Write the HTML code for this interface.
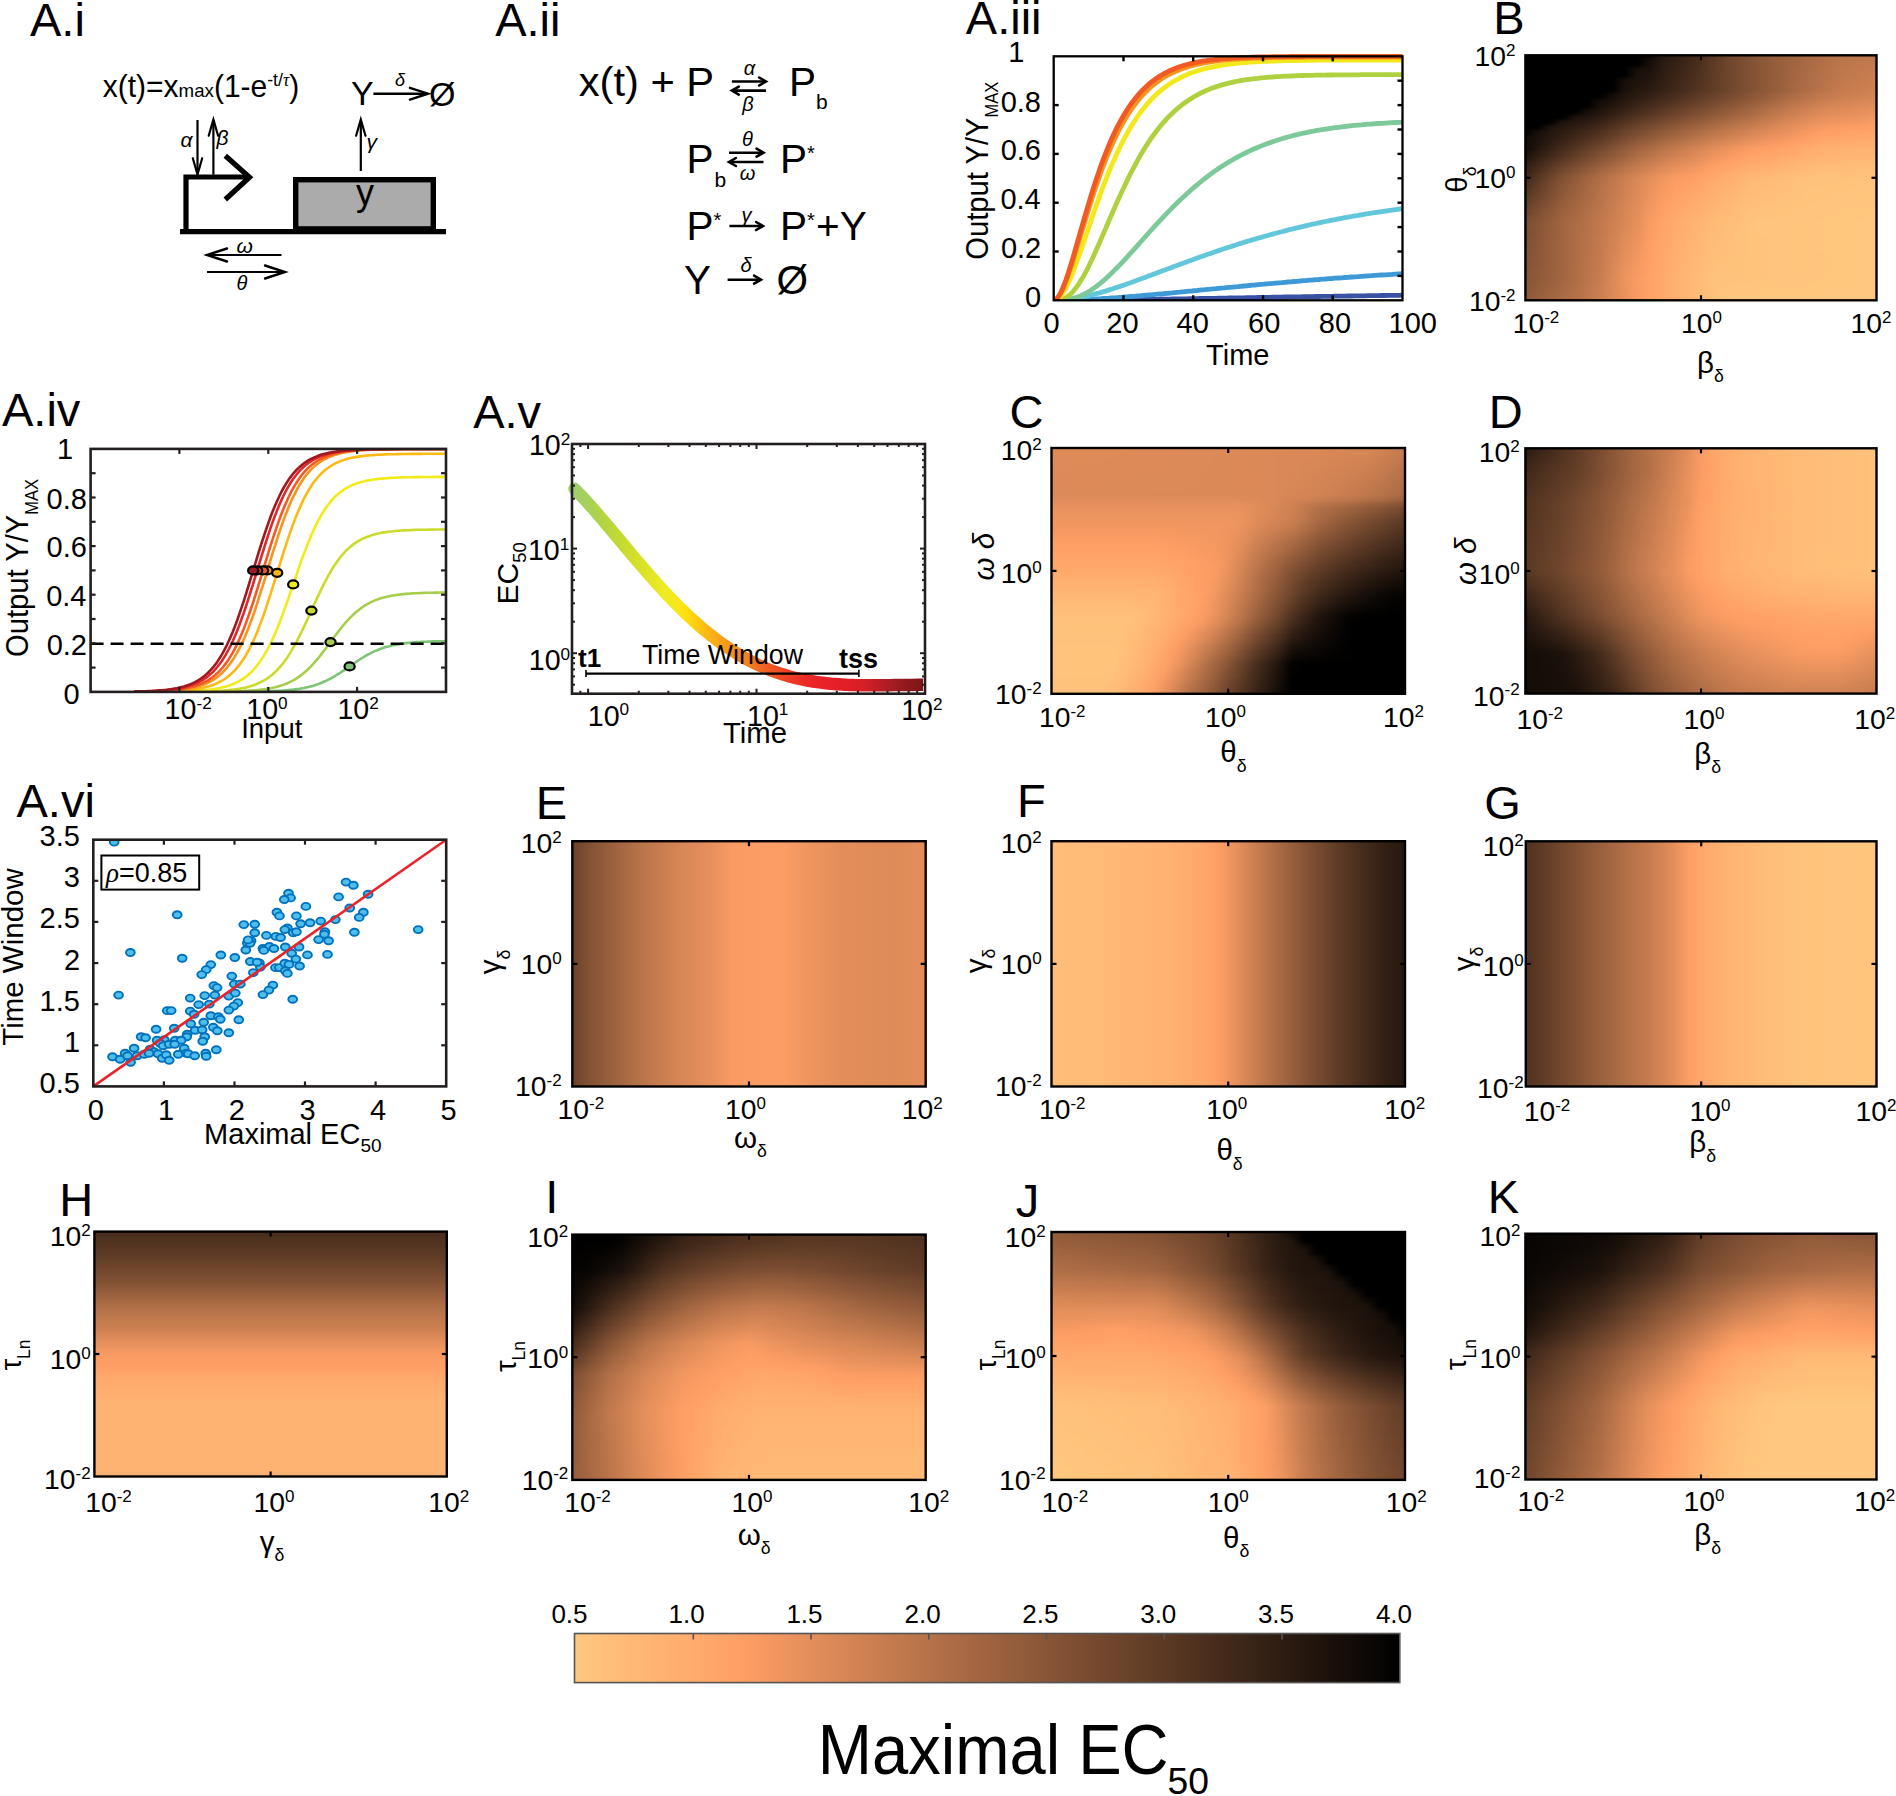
<!DOCTYPE html>
<html><head><meta charset="utf-8"><title>Maximal EC50 figure</title>
<style>
html,body{margin:0;padding:0;background:#fff}
#fig{position:relative;width:1896px;height:1796px;overflow:hidden;background:#fff}
.hm{position:absolute;overflow:hidden}
.hmi{position:absolute}
.hmi div{position:absolute;left:0;width:100%}
svg{position:absolute;left:0;top:0}
text{font-family:"Liberation Sans",Arial,sans-serif;fill:#000}
</style></head><body><div id="fig">
<div class="hm" style="left:1525.4px;top:55.3px;width:351.1px;height:245.0px"><div class="hmi" style="left:-4px;top:-4px;width:359.1px;height:253.0px;filter:blur(1.5px)"><div style="top:0.00px;height:5.87px;background:linear-gradient(90deg,#000000 1.1%,#000000 4.6%,#000000 8.1%,#000000 11.6%,#000000 15.1%,#000000 18.6%,#000000 22.1%,#000000 25.6%,#000000 29.0%,#000000 32.5%,#000000 36.0%,#26180f 39.5%,#311f13 43.0%,#3b2518 46.5%,#492e1d 50.0%,#5a3824 53.5%,#6b432b 57.0%,#774b30 60.5%,#825134 64.0%,#8c5838 67.5%,#945d3b 71.0%,#9c613e 74.4%,#a36641 77.9%,#aa6a44 81.4%,#b16e46 84.9%,#b87349 88.4%,#bb754a 91.9%,#bd764b 95.4%,#bf784c 98.9%)"></div><div style="top:5.27px;height:5.87px;background:linear-gradient(90deg,#000000 1.1%,#000000 4.6%,#000000 8.1%,#000000 11.6%,#000000 15.1%,#000000 18.6%,#000000 22.1%,#000000 25.6%,#000000 29.0%,#000000 32.5%,#130c08 36.0%,#281910 39.5%,#332014 43.0%,#3d2618 46.5%,#4b2f1e 50.0%,#5b3924 53.5%,#6c432b 57.0%,#774b30 60.5%,#825134 64.0%,#8c5838 67.5%,#955d3b 71.0%,#9c623e 74.4%,#a46641 77.9%,#ab6b44 81.4%,#b26f47 84.9%,#b9744a 88.4%,#bc764b 91.9%,#bf774c 95.4%,#c1794d 98.9%)"></div><div style="top:10.54px;height:5.87px;background:linear-gradient(90deg,#000000 1.1%,#000000 4.6%,#000000 8.1%,#000000 11.6%,#000000 15.1%,#000000 18.6%,#000000 22.1%,#000000 25.6%,#000000 29.0%,#000000 32.5%,#170e09 36.0%,#2a1b11 39.5%,#352115 43.0%,#3f2719 46.5%,#4c301e 50.0%,#5c3a25 53.5%,#6c432b 57.0%,#774b30 60.5%,#825134 64.0%,#8c5838 67.5%,#955d3b 71.0%,#9d623e 74.4%,#a56742 77.9%,#ac6c45 81.4%,#b47047 84.9%,#bb754a 88.4%,#be774c 91.9%,#c1784d 95.4%,#c37a4e 98.9%)"></div><div style="top:15.81px;height:5.87px;background:linear-gradient(90deg,#000000 1.1%,#000000 4.6%,#000000 8.1%,#000000 11.6%,#000000 15.1%,#000000 18.6%,#000000 22.1%,#000000 25.6%,#000000 29.0%,#180f0a 32.5%,#1b110b 36.0%,#2d1c12 39.5%,#372216 43.0%,#41291a 46.5%,#4e311f 50.0%,#5d3a25 53.5%,#6c432b 57.0%,#774b30 60.5%,#825134 64.0%,#8c5838 67.5%,#955d3b 71.0%,#9e633f 74.4%,#a66842 77.9%,#ae6d45 81.4%,#b57148 84.9%,#bc764b 88.4%,#c0784c 91.9%,#c37a4e 95.4%,#c67b4f 98.9%)"></div><div style="top:21.08px;height:5.87px;background:linear-gradient(90deg,#000000 1.1%,#000000 4.6%,#000000 8.1%,#000000 11.6%,#000000 15.1%,#000000 18.6%,#000000 22.1%,#000000 25.6%,#000000 29.0%,#1b110b 32.5%,#1f140d 36.0%,#2f1d13 39.5%,#392417 43.0%,#442a1b 46.5%,#503220 50.0%,#5e3b25 53.5%,#6c442b 57.0%,#774b30 60.5%,#825134 64.0%,#8c5838 67.5%,#955d3b 71.0%,#9e633f 74.4%,#a76943 77.9%,#af6e46 81.4%,#b77249 84.9%,#be774c 88.4%,#c2794d 91.9%,#c57b4e 95.4%,#c87d50 98.9%)"></div><div style="top:26.35px;height:5.87px;background:linear-gradient(90deg,#000000 1.1%,#000000 4.6%,#000000 8.1%,#000000 11.6%,#000000 15.1%,#000000 18.6%,#000000 22.1%,#000000 25.6%,#180f09 29.0%,#1e130c 32.5%,#24160e 36.0%,#311f14 39.5%,#3c2518 43.0%,#462c1c 46.5%,#523321 50.0%,#5f3b26 53.5%,#6c442b 57.0%,#774b30 60.5%,#825134 64.0%,#8c5838 67.5%,#965e3c 71.0%,#9f633f 74.4%,#a96943 77.9%,#b16f46 81.4%,#b87349 84.9%,#c0784c 88.4%,#c47a4e 91.9%,#c77c4f 95.4%,#ca7e50 98.9%)"></div><div style="top:31.62px;height:5.87px;background:linear-gradient(90deg,#000000 1.1%,#000000 4.6%,#000000 8.1%,#000000 11.6%,#000000 15.1%,#000000 18.6%,#000000 22.1%,#000000 25.6%,#19100a 29.0%,#21150d 32.5%,#281910 36.0%,#342015 39.5%,#3e2719 43.0%,#482d1d 46.5%,#543421 50.0%,#603c26 53.5%,#6d442b 57.0%,#774b30 60.5%,#825134 64.0%,#8c5838 67.5%,#965e3c 71.0%,#a06440 74.4%,#aa6a44 77.9%,#b26f47 81.4%,#ba744a 84.9%,#c2794d 88.4%,#c67c4f 91.9%,#c97e50 95.4%,#cc8051 98.9%)"></div><div style="top:36.90px;height:5.87px;background:linear-gradient(90deg,#000000 1.1%,#000000 4.6%,#000000 8.1%,#000000 11.6%,#000000 15.1%,#000000 18.6%,#000000 22.1%,#000000 25.6%,#1b110b 29.0%,#24170e 32.5%,#2c1b11 36.0%,#362215 39.5%,#40281a 43.0%,#4b2f1e 46.5%,#563622 50.0%,#613d27 53.5%,#6d442b 57.0%,#774b30 60.5%,#825134 64.0%,#8c5838 67.5%,#965e3c 71.0%,#a16440 74.4%,#ab6b44 77.9%,#b47048 81.4%,#bc754b 84.9%,#c47a4e 88.4%,#c87d50 91.9%,#cb7f51 95.4%,#cf8152 98.9%)"></div><div style="top:42.17px;height:5.87px;background:linear-gradient(90deg,#000000 1.1%,#000000 4.6%,#000000 8.1%,#000000 11.6%,#000000 15.1%,#000000 18.6%,#000000 22.1%,#150d09 25.6%,#21150d 29.0%,#2b1b11 32.5%,#342115 36.0%,#3e2719 39.5%,#492d1d 43.0%,#533421 46.5%,#5e3b25 50.0%,#69422a 53.5%,#74492e 57.0%,#7f4f32 60.5%,#895637 64.0%,#945c3b 67.5%,#9e633f 71.0%,#a96943 74.4%,#b27047 77.9%,#bb754b 81.4%,#c37a4e 84.9%,#ca7e50 88.4%,#ce8152 91.9%,#d18353 95.4%,#d48555 98.9%)"></div><div style="top:47.44px;height:5.87px;background:linear-gradient(90deg,#000000 1.1%,#000000 4.6%,#000000 8.1%,#000000 11.6%,#000000 15.1%,#000000 18.6%,#160d09 22.1%,#1d120b 25.6%,#291910 29.0%,#342015 32.5%,#3e2619 36.0%,#482d1d 39.5%,#533421 43.0%,#5d3a25 46.5%,#684129 50.0%,#73482e 53.5%,#7e4e32 57.0%,#885536 60.5%,#925b3a 64.0%,#9d623f 67.5%,#a86943 71.0%,#b37047 74.4%,#bc754b 77.9%,#c47b4e 81.4%,#cc7f51 84.9%,#d18353 88.4%,#d58555 91.9%,#d88756 95.4%,#db8957 98.9%)"></div><div style="top:52.71px;height:5.87px;background:linear-gradient(90deg,#000000 1.1%,#000000 4.6%,#000000 8.1%,#000000 11.6%,#000000 15.1%,#000000 18.6%,#19100a 22.1%,#24160e 25.6%,#301e13 29.0%,#3c2618 32.5%,#472c1c 36.0%,#523321 39.5%,#5d3a25 43.0%,#674129 46.5%,#72472d 50.0%,#7c4e32 53.5%,#875436 57.0%,#915b3a 60.5%,#9c613e 64.0%,#a76842 67.5%,#b26f47 71.0%,#bd764b 74.4%,#c57b4f 77.9%,#ce8152 81.4%,#d58555 84.9%,#d98756 88.4%,#dc8958 91.9%,#df8b59 95.4%,#e28d5a 98.9%)"></div><div style="top:57.98px;height:5.87px;background:linear-gradient(90deg,#000000 1.1%,#000000 4.6%,#000000 8.1%,#000000 11.6%,#000000 15.1%,#180f09 18.6%,#21150d 22.1%,#2e1d12 25.6%,#3a2417 29.0%,#472c1c 32.5%,#523321 36.0%,#5e3a25 39.5%,#69412a 43.0%,#73482e 46.5%,#7d4e32 50.0%,#885536 53.5%,#925b3a 57.0%,#9c623e 60.5%,#a66842 64.0%,#b16f47 67.5%,#bc764b 71.0%,#c67c4f 74.4%,#cf8152 77.9%,#d78655 81.4%,#de8b58 84.9%,#e18c59 88.4%,#e48e5b 91.9%,#e7905c 95.4%,#e9925d 98.9%)"></div><div style="top:63.25px;height:5.87px;background:linear-gradient(90deg,#000000 1.1%,#000000 4.6%,#000000 8.1%,#000000 11.6%,#1d120b 15.1%,#22150e 18.6%,#2d1c12 22.1%,#3a2417 25.6%,#472c1c 29.0%,#543421 32.5%,#5f3b26 36.0%,#6a432a 39.5%,#76492f 43.0%,#805033 46.5%,#8a5637 50.0%,#955d3b 53.5%,#9e633f 57.0%,#a86943 60.5%,#b26f47 64.0%,#bc764b 67.5%,#c67c4f 71.0%,#d08253 74.4%,#d88756 77.9%,#df8c59 81.4%,#e6905c 84.9%,#e9925d 88.4%,#ec935e 91.9%,#ee955f 95.4%,#f19760 98.9%)"></div><div style="top:68.52px;height:5.87px;background:linear-gradient(90deg,#000000 1.1%,#000000 4.6%,#000000 8.1%,#20140d 11.6%,#26180f 15.1%,#2d1c12 18.6%,#382316 22.1%,#462c1c 25.6%,#533421 29.0%,#613c26 32.5%,#6c432b 36.0%,#774b2f 39.5%,#825234 43.0%,#8d5838 46.5%,#975e3c 50.0%,#a16540 53.5%,#ab6b44 57.0%,#b57148 60.5%,#be774c 64.0%,#c77d4f 67.5%,#d08253 71.0%,#d98856 74.4%,#e18c59 77.9%,#e8915c 81.4%,#ef955f 84.9%,#f19760 88.4%,#f49861 91.9%,#f69a62 95.4%,#f99c63 98.9%)"></div><div style="top:73.79px;height:5.87px;background:linear-gradient(90deg,#000000 1.1%,#000000 4.6%,#1e130c 8.1%,#27180f 11.6%,#2f1d13 15.1%,#382316 18.6%,#442a1b 22.1%,#523321 25.6%,#603c26 29.0%,#6d442c 32.5%,#794b30 36.0%,#845335 39.5%,#8f5a39 43.0%,#9a603d 46.5%,#a46641 50.0%,#ae6d45 53.5%,#b87349 57.0%,#c1794d 60.5%,#ca7e50 64.0%,#d28354 67.5%,#db8957 71.0%,#e28e5a 74.4%,#ea925d 77.9%,#f19760 81.4%,#f79b62 84.9%,#fa9c63 88.4%,#fc9d64 91.9%,#fe9f65 95.4%,#ffa066 98.9%)"></div><div style="top:79.06px;height:5.87px;background:linear-gradient(90deg,#000000 1.1%,#180f0a 4.6%,#23160e 8.1%,#2e1d12 11.6%,#382316 15.1%,#432a1a 18.6%,#4f3220 22.1%,#5e3b25 25.6%,#6c442b 29.0%,#7a4c31 32.5%,#865435 36.0%,#915b3a 39.5%,#9c623e 43.0%,#a76842 46.5%,#b16f46 50.0%,#bb754a 53.5%,#c47b4e 57.0%,#cd8052 60.5%,#d68655 64.0%,#dd8a58 67.5%,#e58f5b 71.0%,#ec935e 74.4%,#f39861 77.9%,#fa9c63 81.4%,#ffa066 84.9%,#ffa167 88.4%,#ffa368 91.9%,#ffa468 95.4%,#ffa569 98.9%)"></div><div style="top:84.33px;height:5.87px;background:linear-gradient(90deg,#0e0906 1.1%,#1b110b 4.6%,#281910 8.1%,#352115 11.6%,#41291a 15.1%,#4d301f 18.6%,#5b3924 22.1%,#6a422a 25.6%,#794b30 29.0%,#875436 32.5%,#925c3a 36.0%,#9e633f 39.5%,#a96a43 43.0%,#b37047 46.5%,#be774c 50.0%,#c87d50 53.5%,#d18253 57.0%,#d98857 60.5%,#e28d5a 64.0%,#e8915c 67.5%,#ef955f 71.0%,#f59962 74.4%,#fc9d64 77.9%,#ffa267 81.4%,#ffa569 84.9%,#ffa66a 88.4%,#ffa86b 91.9%,#ffa96c 95.4%,#ffaa6c 98.9%)"></div><div style="top:89.60px;height:5.87px;background:linear-gradient(90deg,#0f0906 1.1%,#1e130c 4.6%,#2d1c12 8.1%,#3c2618 11.6%,#4a2e1d 15.1%,#583723 18.6%,#674029 22.1%,#764a2f 25.6%,#855335 29.0%,#945c3b 32.5%,#9f643f 36.0%,#ab6b44 39.5%,#b67248 43.0%,#c0784d 46.5%,#cb7f51 50.0%,#d58555 53.5%,#dd8a58 57.0%,#e6905b 60.5%,#ee955f 64.0%,#f39861 67.5%,#f99b63 71.0%,#fe9f65 74.4%,#ffa368 77.9%,#ffa76a 81.4%,#ffab6d 84.9%,#ffac6d 88.4%,#ffad6e 91.9%,#ffae6f 95.4%,#ffaf6f 98.9%)"></div><div style="top:94.88px;height:5.87px;background:linear-gradient(90deg,#110a07 1.1%,#22150d 4.6%,#332014 8.1%,#442a1b 11.6%,#533421 15.1%,#633e27 18.6%,#72472d 22.1%,#825134 25.6%,#915b3a 29.0%,#a16440 32.5%,#ac6c44 36.0%,#b77349 39.5%,#c37a4d 43.0%,#cd8051 46.5%,#d78656 50.0%,#e18d5a 53.5%,#e9925d 57.0%,#f29760 60.5%,#fa9c63 64.0%,#fe9f65 67.5%,#ffa267 71.0%,#ffa569 74.4%,#ffa96b 77.9%,#ffac6e 81.4%,#ffb070 84.9%,#ffb171 88.4%,#ffb271 91.9%,#ffb372 95.4%,#ffb472 98.9%)"></div><div style="top:100.15px;height:5.87px;background:linear-gradient(90deg,#19100a 1.1%,#2b1b11 4.6%,#3e2618 8.1%,#4f3120 11.6%,#5f3b26 15.1%,#6e452c 18.6%,#7e4f32 22.1%,#8d5838 25.6%,#9c613e 29.0%,#ab6b44 32.5%,#b67249 36.0%,#c2794d 39.5%,#cd8051 43.0%,#d68555 46.5%,#e08c59 50.0%,#ea925d 53.5%,#f29760 57.0%,#fa9c63 60.5%,#ffa167 64.0%,#ffa468 67.5%,#ffa66a 71.0%,#ffa96c 74.4%,#ffad6e 77.9%,#ffb070 81.4%,#ffb372 84.9%,#ffb473 88.4%,#ffb573 91.9%,#ffb674 95.4%,#ffb674 98.9%)"></div><div style="top:105.42px;height:5.87px;background:linear-gradient(90deg,#22150d 1.1%,#352115 4.6%,#482d1d 8.1%,#5b3924 11.6%,#6a422a 15.1%,#7a4c30 18.6%,#895637 22.1%,#985f3c 25.6%,#a76842 29.0%,#b57148 32.5%,#c1784d 36.0%,#cc7f51 39.5%,#d78655 43.0%,#de8b59 46.5%,#e8915c 50.0%,#f29760 53.5%,#fa9c64 57.0%,#ffa167 60.5%,#ffa66a 64.0%,#ffa96b 67.5%,#ffab6d 71.0%,#ffae6f 74.4%,#ffb171 77.9%,#ffb473 81.4%,#ffb674 84.9%,#ffb775 88.4%,#ffb875 91.9%,#ffb875 95.4%,#ffb976 98.9%)"></div><div style="top:110.69px;height:5.87px;background:linear-gradient(90deg,#2a1a11 1.1%,#3f2719 4.6%,#533421 8.1%,#664029 11.6%,#76492f 15.1%,#855335 18.6%,#945d3b 22.1%,#a36641 25.6%,#b16f47 29.0%,#bf784c 32.5%,#cb7f51 36.0%,#d68655 39.5%,#e18c59 43.0%,#e7915c 46.5%,#f09660 50.0%,#fb9d64 53.5%,#ffa267 57.0%,#ffa66a 60.5%,#ffab6d 64.0%,#ffad6e 67.5%,#ffb070 71.0%,#ffb372 74.4%,#ffb674 77.9%,#ffb875 81.4%,#ffba76 84.9%,#ffba77 88.4%,#ffbb77 91.9%,#ffbb77 95.4%,#ffbc78 98.9%)"></div><div style="top:115.96px;height:5.87px;background:linear-gradient(90deg,#332014 1.1%,#482d1d 4.6%,#5d3a25 8.1%,#71472d 11.6%,#815133 15.1%,#915a3a 18.6%,#a06440 22.1%,#ae6d45 25.6%,#bc754b 29.0%,#ca7e50 32.5%,#d58555 36.0%,#e18c59 39.5%,#eb935d 43.0%,#f09660 46.5%,#f99b63 50.0%,#ffa267 53.5%,#ffa76a 57.0%,#ffab6d 60.5%,#ffb070 64.0%,#ffb272 67.5%,#ffb573 71.0%,#ffb775 74.4%,#ffba76 77.9%,#ffbc78 81.4%,#ffbd78 84.9%,#ffbd79 88.4%,#ffbe79 91.9%,#ffbe79 95.4%,#ffbf7a 98.9%)"></div><div style="top:121.23px;height:5.87px;background:linear-gradient(90deg,#3b2518 1.1%,#523321 4.6%,#684129 8.1%,#7d4e32 11.6%,#8c5838 15.1%,#9c613e 18.6%,#ab6b44 22.1%,#b9744a 25.6%,#c77c4f 29.0%,#d48554 32.5%,#df8c59 36.0%,#eb935d 39.5%,#f59961 43.0%,#f99c63 46.5%,#ffa166 50.0%,#ffa76b 53.5%,#ffac6e 57.0%,#ffb170 60.5%,#ffb573 64.0%,#ffb775 67.5%,#ffba76 71.0%,#ffbc78 74.4%,#ffbe79 77.9%,#ffc07a 81.4%,#ffc07a 84.9%,#ffc17b 88.4%,#ffc17b 91.9%,#ffc17b 95.4%,#ffc27b 98.9%)"></div><div style="top:126.50px;height:5.87px;background:linear-gradient(90deg,#432a1b 1.1%,#593824 4.6%,#70462c 8.1%,#845335 11.6%,#945c3b 15.1%,#a36641 18.6%,#b26f47 22.1%,#bf784c 25.6%,#cd8051 29.0%,#da8857 32.5%,#e6905b 36.0%,#f19760 39.5%,#fb9d64 43.0%,#ff9f65 46.5%,#ffa469 50.0%,#ffab6d 53.5%,#ffaf70 57.0%,#ffb473 60.5%,#ffb875 64.0%,#ffba77 67.5%,#ffbc78 71.0%,#ffbe79 74.4%,#ffc17b 77.9%,#ffc27b 81.4%,#ffc27c 84.9%,#ffc27c 88.4%,#ffc37c 91.9%,#ffc37c 95.4%,#ffc37c 98.9%)"></div><div style="top:131.77px;height:5.87px;background:linear-gradient(90deg,#4a2e1d 1.1%,#5f3b26 4.6%,#74492e 8.1%,#885536 11.6%,#975e3c 15.1%,#a56742 18.6%,#b47048 22.1%,#c1794d 25.6%,#ce8152 29.0%,#dc8957 32.5%,#e8915c 36.0%,#f49861 39.5%,#fe9f65 43.0%,#ffa167 46.5%,#ffa66a 50.0%,#ffad6e 53.5%,#ffb171 57.0%,#ffb574 60.5%,#ffba76 64.0%,#ffbb77 67.5%,#ffbd79 71.0%,#ffbf7a 74.4%,#ffc17b 77.9%,#ffc27c 81.4%,#ffc27c 84.9%,#ffc37c 88.4%,#ffc37c 91.9%,#ffc47d 95.4%,#ffc47d 98.9%)"></div><div style="top:137.04px;height:5.87px;background:linear-gradient(90deg,#513320 1.1%,#653f28 4.6%,#794c30 8.1%,#8c5738 11.6%,#9a603d 15.1%,#a86943 18.6%,#b67248 22.1%,#c37a4e 25.6%,#d08253 29.0%,#dd8a58 32.5%,#eb935d 36.0%,#f79a62 39.5%,#ffa066 43.0%,#ffa468 46.5%,#ffa96b 50.0%,#ffaf6f 53.5%,#ffb372 57.0%,#ffb775 60.5%,#ffbb77 64.0%,#ffbd78 67.5%,#ffbe79 71.0%,#ffc07a 74.4%,#ffc27b 77.9%,#ffc37c 81.4%,#ffc37c 84.9%,#ffc37c 88.4%,#ffc47d 91.9%,#ffc47d 95.4%,#ffc47d 98.9%)"></div><div style="top:142.31px;height:5.87px;background:linear-gradient(90deg,#583723 1.1%,#6b432a 4.6%,#7e4f32 8.1%,#905a39 11.6%,#9d623e 15.1%,#aa6a44 18.6%,#b87349 22.1%,#c57b4e 25.6%,#d28353 29.0%,#df8b59 32.5%,#ed945e 36.0%,#f99c63 39.5%,#ffa267 43.0%,#ffa669 46.5%,#ffab6d 50.0%,#ffb170 53.5%,#ffb573 57.0%,#ffb976 60.5%,#ffbc78 64.0%,#ffbe79 67.5%,#ffbf7a 71.0%,#ffc17b 74.4%,#ffc27c 77.9%,#ffc37c 81.4%,#ffc37c 84.9%,#ffc47d 88.4%,#ffc47d 91.9%,#ffc57d 95.4%,#ffc57d 98.9%)"></div><div style="top:147.58px;height:5.87px;background:linear-gradient(90deg,#5f3b26 1.1%,#70462d 4.6%,#825134 8.1%,#935c3b 11.6%,#a06440 15.1%,#ad6c45 18.6%,#b9744a 22.1%,#c67c4f 25.6%,#d38454 29.0%,#e08c59 32.5%,#ef965f 36.0%,#fc9d64 39.5%,#ffa468 43.0%,#ffa86b 46.5%,#ffad6e 50.0%,#ffb372 53.5%,#ffb674 57.0%,#ffba77 60.5%,#ffbe79 64.0%,#ffbf7a 67.5%,#ffc07a 71.0%,#ffc27b 74.4%,#ffc37c 77.9%,#ffc37c 81.4%,#ffc47d 84.9%,#ffc47d 88.4%,#ffc57d 91.9%,#ffc57d 95.4%,#ffc57e 98.9%)"></div><div style="top:152.85px;height:5.87px;background:linear-gradient(90deg,#653f28 1.1%,#764a2f 4.6%,#875436 8.1%,#975e3c 11.6%,#a36641 15.1%,#af6d46 18.6%,#bb754b 22.1%,#c87d50 25.6%,#d58555 29.0%,#e28d5a 32.5%,#f29760 36.0%,#ff9f65 39.5%,#ffa669 43.0%,#ffaa6c 46.5%,#ffaf6f 50.0%,#ffb473 53.5%,#ffb875 57.0%,#ffbc78 60.5%,#ffbf7a 64.0%,#ffc07a 67.5%,#ffc17b 71.0%,#ffc27c 74.4%,#ffc37c 77.9%,#ffc47d 81.4%,#ffc47d 84.9%,#ffc57d 88.4%,#ffc57e 91.9%,#ffc57e 95.4%,#ffc67e 98.9%)"></div><div style="top:158.12px;height:5.87px;background:linear-gradient(90deg,#6c442b 1.1%,#7c4e31 4.6%,#8c5738 8.1%,#9b613e 11.6%,#a66842 15.1%,#b26f47 18.6%,#bd764b 22.1%,#ca7e50 25.6%,#d78655 29.0%,#e38e5a 32.5%,#f49861 36.0%,#ffa166 39.5%,#ffa76b 43.0%,#ffac6d 46.5%,#ffb171 50.0%,#ffb674 53.5%,#ffba76 57.0%,#ffbd79 60.5%,#ffc17b 64.0%,#ffc17b 67.5%,#ffc27c 71.0%,#ffc37c 74.4%,#ffc47d 77.9%,#ffc47d 81.4%,#ffc57d 84.9%,#ffc57e 88.4%,#ffc67e 91.9%,#ffc67e 95.4%,#ffc67e 98.9%)"></div><div style="top:163.40px;height:5.87px;background:linear-gradient(90deg,#73482e 1.1%,#825134 4.6%,#905a39 8.1%,#9e633f 11.6%,#a96a43 15.1%,#b47148 18.6%,#bf774c 22.1%,#cc7f51 25.6%,#d88756 29.0%,#e58f5b 32.5%,#f69a62 36.0%,#ffa267 39.5%,#ffa96c 43.0%,#ffae6f 46.5%,#ffb372 50.0%,#ffb875 53.5%,#ffbc77 57.0%,#ffbf7a 60.5%,#ffc27c 64.0%,#ffc37c 67.5%,#ffc37c 71.0%,#ffc47d 74.4%,#ffc47d 77.9%,#ffc57d 81.4%,#ffc57e 84.9%,#ffc67e 88.4%,#ffc67e 91.9%,#ffc67e 95.4%,#ffc77f 98.9%)"></div><div style="top:168.67px;height:5.87px;background:linear-gradient(90deg,#794c30 1.1%,#875436 4.6%,#945d3b 8.1%,#a16540 11.6%,#ac6b44 15.1%,#b67249 18.6%,#c1794d 22.1%,#cd8052 25.6%,#da8857 29.0%,#e6905c 32.5%,#f99b63 36.0%,#ffa468 39.5%,#ffab6d 43.0%,#ffb070 46.5%,#ffb573 50.0%,#ffba76 53.5%,#ffbd78 57.0%,#ffc07a 60.5%,#ffc37c 64.0%,#ffc47d 67.5%,#ffc47d 71.0%,#ffc47d 74.4%,#ffc57d 77.9%,#ffc57e 81.4%,#ffc67e 84.9%,#ffc67e 88.4%,#ffc67e 91.9%,#ffc77f 95.4%,#ffc77f 98.9%)"></div><div style="top:173.94px;height:5.87px;background:linear-gradient(90deg,#7a4d31 1.1%,#885536 4.6%,#955d3b 8.1%,#a16540 11.6%,#ac6c44 15.1%,#b77249 18.6%,#c1794d 22.1%,#cf8152 25.6%,#dc8957 29.0%,#e8915c 32.5%,#fa9c63 36.0%,#ffa569 39.5%,#ffab6d 43.0%,#ffb070 46.5%,#ffb674 50.0%,#ffbb77 53.5%,#ffbe79 57.0%,#ffc07b 60.5%,#ffc37c 64.0%,#ffc47d 67.5%,#ffc47d 71.0%,#ffc47d 74.4%,#ffc57d 77.9%,#ffc57e 81.4%,#ffc67e 84.9%,#ffc67e 88.4%,#ffc67e 91.9%,#ffc77f 95.4%,#ffc77f 98.9%)"></div><div style="top:179.21px;height:5.87px;background:linear-gradient(90deg,#7c4d31 1.1%,#885536 4.6%,#955d3b 8.1%,#a26540 11.6%,#ac6c45 15.1%,#b77249 18.6%,#c2794d 22.1%,#d08253 25.6%,#dd8a58 29.0%,#ea925d 32.5%,#fb9d64 36.0%,#ffa569 39.5%,#ffac6d 43.0%,#ffb171 46.5%,#ffb674 50.0%,#ffbb77 53.5%,#ffbe79 57.0%,#ffc17b 60.5%,#ffc37c 64.0%,#ffc47d 67.5%,#ffc47d 71.0%,#ffc47d 74.4%,#ffc57d 77.9%,#ffc57e 81.4%,#ffc67e 84.9%,#ffc67e 88.4%,#ffc67e 91.9%,#ffc77f 95.4%,#ffc77f 98.9%)"></div><div style="top:184.48px;height:5.87px;background:linear-gradient(90deg,#7d4e32 1.1%,#895637 4.6%,#965d3c 8.1%,#a26540 11.6%,#ad6c45 15.1%,#b77349 18.6%,#c37a4e 22.1%,#d18353 25.6%,#df8c59 29.0%,#ec935e 32.5%,#fc9d64 36.0%,#ffa66a 39.5%,#ffac6e 43.0%,#ffb271 46.5%,#ffb775 50.0%,#ffbc78 53.5%,#ffbe79 57.0%,#ffc17b 60.5%,#ffc37c 64.0%,#ffc37c 67.5%,#ffc47d 71.0%,#ffc47d 74.4%,#ffc57d 77.9%,#ffc57e 81.4%,#ffc67e 84.9%,#ffc67e 88.4%,#ffc67e 91.9%,#ffc77f 95.4%,#ffc77f 98.9%)"></div><div style="top:189.75px;height:5.87px;background:linear-gradient(90deg,#7e4f32 1.1%,#8a5637 4.6%,#965e3c 8.1%,#a26540 11.6%,#ad6c45 15.1%,#b87349 18.6%,#c37a4e 22.1%,#d28354 25.6%,#e18d5a 29.0%,#ee945f 32.5%,#fd9e65 36.0%,#ffa66a 39.5%,#ffad6e 43.0%,#ffb272 46.5%,#ffb875 50.0%,#ffbd78 53.5%,#ffbf7a 57.0%,#ffc17b 60.5%,#ffc37c 64.0%,#ffc37c 67.5%,#ffc47d 71.0%,#ffc47d 74.4%,#ffc57d 77.9%,#ffc57e 81.4%,#ffc67e 84.9%,#ffc67e 88.4%,#ffc67e 91.9%,#ffc77f 95.4%,#ffc77f 98.9%)"></div><div style="top:195.02px;height:5.87px;background:linear-gradient(90deg,#7f5033 1.1%,#8b5737 4.6%,#965e3c 8.1%,#a26540 11.6%,#ad6c45 15.1%,#b87349 18.6%,#c47b4e 22.1%,#d38454 25.6%,#e38e5a 29.0%,#ef965f 32.5%,#fe9f65 36.0%,#ffa76a 39.5%,#ffae6e 43.0%,#ffb372 46.5%,#ffb875 50.0%,#ffbd79 53.5%,#ffbf7a 57.0%,#ffc17b 60.5%,#ffc37c 64.0%,#ffc37c 67.5%,#ffc47d 71.0%,#ffc47d 74.4%,#ffc57d 77.9%,#ffc57e 81.4%,#ffc67e 84.9%,#ffc67e 88.4%,#ffc67e 91.9%,#ffc77f 95.4%,#ffc77f 98.9%)"></div><div style="top:200.29px;height:5.87px;background:linear-gradient(90deg,#805033 1.1%,#8b5738 4.6%,#975e3c 8.1%,#a26540 11.6%,#ad6c45 15.1%,#b9734a 18.6%,#c57b4e 22.1%,#d58555 25.6%,#e58f5b 29.0%,#f19760 32.5%,#ffa066 36.0%,#ffa76b 39.5%,#ffae6f 43.0%,#ffb472 46.5%,#ffb976 50.0%,#ffbe79 53.5%,#ffc07a 57.0%,#ffc17b 60.5%,#ffc37c 64.0%,#ffc37c 67.5%,#ffc47d 71.0%,#ffc47d 74.4%,#ffc57d 77.9%,#ffc57d 81.4%,#ffc57e 84.9%,#ffc67e 88.4%,#ffc67e 91.9%,#ffc77f 95.4%,#ffc77f 98.9%)"></div><div style="top:205.56px;height:5.87px;background:linear-gradient(90deg,#825134 1.1%,#8c5838 4.6%,#975e3c 8.1%,#a26540 11.6%,#ad6c45 15.1%,#b9744a 18.6%,#c57b4f 22.1%,#d68655 25.6%,#e6905c 29.0%,#f39861 32.5%,#ffa066 36.0%,#ffa86b 39.5%,#ffaf6f 43.0%,#ffb473 46.5%,#ffba76 50.0%,#ffbf7a 53.5%,#ffc07a 57.0%,#ffc27b 60.5%,#ffc37c 64.0%,#ffc37c 67.5%,#ffc47d 71.0%,#ffc47d 74.4%,#ffc57d 77.9%,#ffc57d 81.4%,#ffc57e 84.9%,#ffc67e 88.4%,#ffc67e 91.9%,#ffc77f 95.4%,#ffc77f 98.9%)"></div><div style="top:210.83px;height:5.87px;background:linear-gradient(90deg,#835234 1.1%,#8d5838 4.6%,#975f3c 8.1%,#a26540 11.6%,#ae6d45 15.1%,#ba744a 18.6%,#c67c4f 22.1%,#d78656 25.6%,#e8915c 29.0%,#f59961 32.5%,#ffa167 36.0%,#ffa86b 39.5%,#ffaf70 43.0%,#ffb573 46.5%,#ffbb77 50.0%,#ffc07a 53.5%,#ffc17b 57.0%,#ffc27b 60.5%,#ffc37c 64.0%,#ffc37c 67.5%,#ffc47d 71.0%,#ffc47d 74.4%,#ffc57d 77.9%,#ffc57d 81.4%,#ffc57e 84.9%,#ffc67e 88.4%,#ffc67e 91.9%,#ffc77f 95.4%,#ffc77f 98.9%)"></div><div style="top:216.10px;height:5.87px;background:linear-gradient(90deg,#845335 1.1%,#8e5938 4.6%,#985f3c 8.1%,#a26540 11.6%,#ae6d45 15.1%,#ba744a 18.6%,#c77c4f 22.1%,#d88756 25.6%,#ea925d 29.0%,#f69a62 32.5%,#ffa267 36.0%,#ffa96c 39.5%,#ffb070 43.0%,#ffb674 46.5%,#ffbb77 50.0%,#ffc07a 53.5%,#ffc17b 57.0%,#ffc27b 60.5%,#ffc37c 64.0%,#ffc37c 67.5%,#ffc47d 71.0%,#ffc47d 74.4%,#ffc57d 77.9%,#ffc57d 81.4%,#ffc57e 84.9%,#ffc67e 88.4%,#ffc67e 91.9%,#ffc77f 95.4%,#ffc77f 98.9%)"></div><div style="top:221.38px;height:5.87px;background:linear-gradient(90deg,#855335 1.1%,#8f5939 4.6%,#985f3c 8.1%,#a26540 11.6%,#ae6d45 15.1%,#ba754a 18.6%,#c77d4f 22.1%,#da8857 25.6%,#ec935e 29.0%,#f89b63 32.5%,#ffa267 36.0%,#ffaa6c 39.5%,#ffb070 43.0%,#ffb674 46.5%,#ffbc78 50.0%,#ffc17b 53.5%,#ffc27b 57.0%,#ffc27c 60.5%,#ffc37c 64.0%,#ffc37c 67.5%,#ffc47d 71.0%,#ffc47d 74.4%,#ffc47d 77.9%,#ffc57d 81.4%,#ffc57e 84.9%,#ffc67e 88.4%,#ffc67e 91.9%,#ffc77f 95.4%,#ffc77f 98.9%)"></div><div style="top:226.65px;height:5.87px;background:linear-gradient(90deg,#875436 1.1%,#905a39 4.6%,#99603d 8.1%,#a36641 11.6%,#af6d46 15.1%,#bb754b 18.6%,#c87d50 22.1%,#da8957 25.6%,#ec945e 29.0%,#f99c63 32.5%,#ffa368 36.0%,#ffaa6c 39.5%,#ffb170 43.0%,#ffb774 46.5%,#ffbc78 50.0%,#ffc17b 53.5%,#ffc27c 57.0%,#ffc37c 60.5%,#ffc37c 64.0%,#ffc47d 67.5%,#ffc47d 71.0%,#ffc47d 74.4%,#ffc57d 77.9%,#ffc57e 81.4%,#ffc67e 84.9%,#ffc67e 88.4%,#ffc67e 91.9%,#ffc77f 95.4%,#ffc77f 98.9%)"></div><div style="top:231.92px;height:5.87px;background:linear-gradient(90deg,#895637 1.1%,#925b3a 4.6%,#9b613e 8.1%,#a56742 11.6%,#b06e46 15.1%,#bd764b 18.6%,#ca7e50 22.1%,#db8957 25.6%,#ec935e 29.0%,#f99b63 32.5%,#ffa368 36.0%,#ffaa6c 39.5%,#ffb070 43.0%,#ffb674 46.5%,#ffbc78 50.0%,#ffc17b 53.5%,#ffc37c 57.0%,#ffc47d 60.5%,#ffc47d 64.0%,#ffc57d 67.5%,#ffc57d 71.0%,#ffc57e 74.4%,#ffc57e 77.9%,#ffc67e 81.4%,#ffc67e 84.9%,#ffc67e 88.4%,#ffc77e 91.9%,#ffc77f 95.4%,#ffc77f 98.9%)"></div><div style="top:237.19px;height:5.87px;background:linear-gradient(90deg,#8b5738 1.1%,#955d3b 4.6%,#9e633f 8.1%,#a76943 11.6%,#b26f47 15.1%,#be774c 18.6%,#cb7f51 22.1%,#db8957 25.6%,#eb935d 29.0%,#f89b63 32.5%,#ffa368 36.0%,#ffa96c 39.5%,#ffb070 43.0%,#ffb674 46.5%,#ffbc78 50.0%,#ffc17b 53.5%,#ffc47d 57.0%,#ffc57e 60.5%,#ffc57e 64.0%,#ffc67e 67.5%,#ffc67e 71.0%,#ffc67e 74.4%,#ffc67e 77.9%,#ffc67e 81.4%,#ffc67e 84.9%,#ffc77f 88.4%,#ffc77f 91.9%,#ffc77f 95.4%,#ffc77f 98.9%)"></div><div style="top:242.46px;height:5.87px;background:linear-gradient(90deg,#8e5938 1.1%,#975e3c 4.6%,#a06440 8.1%,#aa6a43 11.6%,#b37047 15.1%,#bf774c 18.6%,#cd8051 22.1%,#db8957 25.6%,#ea925d 29.0%,#f89b63 32.5%,#ffa368 36.0%,#ffa96c 39.5%,#ffb070 43.0%,#ffb674 46.5%,#ffbc78 50.0%,#ffc17b 53.5%,#ffc57e 57.0%,#ffc67e 60.5%,#ffc67e 64.0%,#ffc67e 67.5%,#ffc77e 71.0%,#ffc77f 74.4%,#ffc77f 77.9%,#ffc77f 81.4%,#ffc77f 84.9%,#ffc77f 88.4%,#ffc77f 91.9%,#ffc77f 95.4%,#ffc77f 98.9%)"></div><div style="top:247.73px;height:5.87px;background:linear-gradient(90deg,#8f5a39 1.1%,#995f3d 4.6%,#a26540 8.1%,#ab6b44 11.6%,#b47148 15.1%,#c0784c 18.6%,#ce8152 22.1%,#db8957 25.6%,#e9925d 29.0%,#f89b63 32.5%,#ffa368 36.0%,#ffa96c 39.5%,#ffb070 43.0%,#ffb674 46.5%,#ffbc78 50.0%,#ffc17b 53.5%,#ffc67e 57.0%,#ffc77f 60.5%,#ffc77f 64.0%,#ffc77f 67.5%,#ffc77f 71.0%,#ffc77f 74.4%,#ffc77f 77.9%,#ffc77f 81.4%,#ffc77f 84.9%,#ffc77f 88.4%,#ffc77f 91.9%,#ffc77f 95.4%,#ffc77f 98.9%)"></div></div></div>
<div class="hm" style="left:1051.5px;top:448.0px;width:353.5px;height:245.8px"><div class="hmi" style="left:-4px;top:-4px;width:361.5px;height:253.8px;filter:blur(1.5px)"><div style="top:0.00px;height:5.89px;background:linear-gradient(90deg,#df8b59 1.1%,#df8b59 4.6%,#df8b59 8.1%,#de8b59 11.6%,#de8b58 15.1%,#de8b58 18.6%,#de8a58 22.1%,#dd8a58 25.6%,#dd8a58 29.0%,#dd8a58 32.5%,#dd8a58 36.0%,#dc8a58 39.5%,#dc8a58 43.0%,#dc8957 46.5%,#dc8957 50.0%,#db8957 53.5%,#db8957 57.0%,#db8957 60.5%,#db8957 64.0%,#da8857 67.5%,#da8857 71.0%,#da8857 74.4%,#da8857 77.9%,#d98856 81.4%,#d98856 84.9%,#d98756 88.4%,#d38454 91.9%,#cc8051 95.4%,#c67c4f 98.9%)"></div><div style="top:5.29px;height:5.89px;background:linear-gradient(90deg,#df8b59 1.1%,#df8b59 4.6%,#de8b59 8.1%,#de8b58 11.6%,#de8b58 15.1%,#de8b58 18.6%,#dd8a58 22.1%,#dd8a58 25.6%,#dd8a58 29.0%,#dd8a58 32.5%,#dd8a58 36.0%,#dc8a58 39.5%,#dc8a58 43.0%,#dc8957 46.5%,#dc8957 50.0%,#db8957 53.5%,#db8957 57.0%,#db8957 60.5%,#da8957 64.0%,#da8857 67.5%,#da8857 71.0%,#d98856 74.4%,#d98756 77.9%,#d88756 81.4%,#d78756 84.9%,#d78655 88.4%,#d18353 91.9%,#ca7e50 95.4%,#c37a4e 98.9%)"></div><div style="top:10.57px;height:5.89px;background:linear-gradient(90deg,#df8b59 1.1%,#de8b58 4.6%,#de8b58 8.1%,#de8b58 11.6%,#de8b58 15.1%,#dd8a58 18.6%,#dd8a58 22.1%,#dd8a58 25.6%,#dd8a58 29.0%,#dd8a58 32.5%,#dc8a58 36.0%,#dc8a58 39.5%,#dc8a58 43.0%,#dc8958 46.5%,#dc8957 50.0%,#db8957 53.5%,#db8957 57.0%,#db8957 60.5%,#da8857 64.0%,#da8857 67.5%,#d98856 71.0%,#d88756 74.4%,#d78756 77.9%,#d68655 81.4%,#d58555 84.9%,#d48454 88.4%,#ce8152 91.9%,#c77c4f 95.4%,#c0784c 98.9%)"></div><div style="top:15.86px;height:5.89px;background:linear-gradient(90deg,#de8b58 1.1%,#de8b58 4.6%,#de8b58 8.1%,#de8b58 11.6%,#dd8a58 15.1%,#dd8a58 18.6%,#dd8a58 22.1%,#dd8a58 25.6%,#dd8a58 29.0%,#dd8a58 32.5%,#dc8a58 36.0%,#dc8a58 39.5%,#dc8a58 43.0%,#dc8958 46.5%,#dc8957 50.0%,#dc8957 53.5%,#db8957 57.0%,#db8957 60.5%,#da8857 64.0%,#d98856 67.5%,#d88756 71.0%,#d88756 74.4%,#d68655 77.9%,#d58555 81.4%,#d38454 84.9%,#d18253 88.4%,#cb7f51 91.9%,#c47a4e 95.4%,#bc764b 98.9%)"></div><div style="top:21.15px;height:5.89px;background:linear-gradient(90deg,#de8b58 1.1%,#de8b58 4.6%,#de8a58 8.1%,#dd8a58 11.6%,#dd8a58 15.1%,#dd8a58 18.6%,#dd8a58 22.1%,#dd8a58 25.6%,#dd8a58 29.0%,#dc8a58 32.5%,#dc8a58 36.0%,#dc8a58 39.5%,#dc8a58 43.0%,#dc8958 46.5%,#dc8957 50.0%,#dc8957 53.5%,#db8957 57.0%,#db8957 60.5%,#da8857 64.0%,#d98856 67.5%,#d88756 71.0%,#d78655 74.4%,#d58555 77.9%,#d38454 81.4%,#d18253 84.9%,#ce8152 88.4%,#c87d4f 91.9%,#c1784d 95.4%,#b9734a 98.9%)"></div><div style="top:26.44px;height:5.89px;background:linear-gradient(90deg,#dd8a58 1.1%,#dd8a58 4.6%,#dd8a58 8.1%,#dd8a58 11.6%,#dd8a58 15.1%,#dd8a58 18.6%,#dd8a58 22.1%,#dd8a58 25.6%,#dd8a58 29.0%,#dc8a58 32.5%,#dc8a58 36.0%,#dc8a58 39.5%,#dc8958 43.0%,#dc8958 46.5%,#dc8957 50.0%,#dc8957 53.5%,#dc8957 57.0%,#db8957 60.5%,#da8857 64.0%,#d98756 67.5%,#d78756 71.0%,#d68655 74.4%,#d48454 77.9%,#d18353 81.4%,#ce8152 84.9%,#cb7f51 88.4%,#c57b4e 91.9%,#bd764b 95.4%,#b57148 98.9%)"></div><div style="top:31.72px;height:5.89px;background:linear-gradient(90deg,#dd8a58 1.1%,#dd8a58 4.6%,#dd8a58 8.1%,#dd8a58 11.6%,#dd8a58 15.1%,#dd8a58 18.6%,#dd8a58 22.1%,#dc8a58 25.6%,#dc8a58 29.0%,#dc8a58 32.5%,#dc8a58 36.0%,#dc8a58 39.5%,#dc8958 43.0%,#dc8958 46.5%,#dc8957 50.0%,#dc8957 53.5%,#dc8957 57.0%,#db8957 60.5%,#da8857 64.0%,#d88756 67.5%,#d78655 71.0%,#d58555 74.4%,#d28354 77.9%,#cf8253 81.4%,#cc8051 84.9%,#c87d50 88.4%,#c2794d 91.9%,#ba744a 95.4%,#b26f47 98.9%)"></div><div style="top:37.01px;height:5.89px;background:linear-gradient(90deg,#dd8a58 1.1%,#dd8a58 4.6%,#dd8a58 8.1%,#dd8a58 11.6%,#dd8a58 15.1%,#dc8a58 18.6%,#dc8a58 22.1%,#dc8a58 25.6%,#dc8a58 29.0%,#dc8a58 32.5%,#dc8a58 36.0%,#dc8a58 39.5%,#dc8958 43.0%,#dc8958 46.5%,#dc8957 50.0%,#dc8957 53.5%,#dc8957 57.0%,#db8957 60.5%,#da8857 64.0%,#d88756 67.5%,#d68655 71.0%,#d48555 74.4%,#d18353 77.9%,#ce8152 81.4%,#ca7e50 84.9%,#c57b4e 88.4%,#be774c 91.9%,#b77249 95.4%,#af6d45 98.9%)"></div><div style="top:42.30px;height:5.89px;background:linear-gradient(90deg,#dc8a58 1.1%,#dc8a58 4.6%,#dc8a58 8.1%,#dc8a58 11.6%,#dc8a58 15.1%,#dc8a58 18.6%,#dc8a58 22.1%,#dc8a58 25.6%,#dc8a58 29.0%,#dc8a58 32.5%,#dc8a58 36.0%,#dc8958 39.5%,#dc8958 43.0%,#dc8958 46.5%,#dc8958 50.0%,#dc8957 53.5%,#dc8957 57.0%,#db8957 60.5%,#d98857 64.0%,#d78756 67.5%,#d68555 71.0%,#d48454 74.4%,#d08253 77.9%,#cc7f51 81.4%,#c87d4f 84.9%,#c2794d 88.4%,#bb754b 91.9%,#b47048 95.4%,#ab6b44 98.9%)"></div><div style="top:47.59px;height:5.89px;background:linear-gradient(90deg,#dc8a58 1.1%,#dc8a58 4.6%,#dc8a58 8.1%,#dc8a58 11.6%,#dc8a58 15.1%,#dc8a58 18.6%,#dc8a58 22.1%,#dc8a58 25.6%,#dc8958 29.0%,#dc8958 32.5%,#dc8958 36.0%,#dc8958 39.5%,#dc8958 43.0%,#dc8958 46.5%,#dc8958 50.0%,#dc8958 53.5%,#dc8958 57.0%,#db8957 60.5%,#d98856 64.0%,#d78656 67.5%,#d58555 71.0%,#d38454 74.4%,#cf8152 77.9%,#ca7e50 81.4%,#c57b4f 84.9%,#bf774c 88.4%,#b87349 91.9%,#b16e46 95.4%,#a86943 98.9%)"></div><div style="top:52.87px;height:5.89px;background:linear-gradient(90deg,#df8c59 1.1%,#df8c59 4.6%,#df8c59 8.1%,#df8c59 11.6%,#df8c59 15.1%,#df8c59 18.6%,#df8c59 22.1%,#df8c59 25.6%,#df8c59 29.0%,#df8c59 32.5%,#df8c59 36.0%,#df8c59 39.5%,#df8c59 43.0%,#df8c59 46.5%,#df8c59 50.0%,#df8b59 53.5%,#de8b58 57.0%,#dc8958 60.5%,#d88756 64.0%,#d58555 67.5%,#d08253 71.0%,#cb7f51 74.4%,#c67c4f 77.9%,#c1784d 81.4%,#bb754a 84.9%,#b47047 88.4%,#ac6c45 91.9%,#a46641 95.4%,#9a603d 98.9%)"></div><div style="top:58.16px;height:5.89px;background:linear-gradient(90deg,#e7905c 1.1%,#e7905c 4.6%,#e7905c 8.1%,#e7905c 11.6%,#e7905c 15.1%,#e7905c 18.6%,#e7905c 22.1%,#e7905c 25.6%,#e7905c 29.0%,#e7905c 32.5%,#e7905c 36.0%,#e7905c 39.5%,#e7905c 43.0%,#e7905c 46.5%,#e7905c 50.0%,#e6905c 53.5%,#e28d5a 57.0%,#dd8a58 60.5%,#d78655 64.0%,#d08253 67.5%,#c77c4f 71.0%,#bc764b 74.4%,#b57148 77.9%,#ae6d45 81.4%,#a66842 84.9%,#9d623f 88.4%,#955d3b 91.9%,#8b5737 95.4%,#815033 98.9%)"></div><div style="top:63.45px;height:5.89px;background:linear-gradient(90deg,#eb935e 1.1%,#eb935e 4.6%,#eb935e 8.1%,#eb935e 11.6%,#eb935e 15.1%,#eb935e 18.6%,#eb935e 22.1%,#eb935e 25.6%,#eb935e 29.0%,#eb935e 32.5%,#eb935e 36.0%,#eb935e 39.5%,#eb935e 43.0%,#eb935e 46.5%,#eb935e 50.0%,#ea925d 53.5%,#e38e5a 57.0%,#dd8a58 60.5%,#d58555 64.0%,#ce8152 67.5%,#c1794d 71.0%,#b37047 74.4%,#aa6a44 77.9%,#a16540 81.4%,#985f3d 84.9%,#8f5939 88.4%,#855335 91.9%,#7b4d31 95.4%,#70462d 98.9%)"></div><div style="top:68.74px;height:5.89px;background:linear-gradient(90deg,#ed945e 1.1%,#ed945e 4.6%,#ed945e 8.1%,#ed945e 11.6%,#ed945e 15.1%,#ed945e 18.6%,#ed945e 22.1%,#ed945e 25.6%,#ed945e 29.0%,#ed945e 32.5%,#ed945e 36.0%,#ed945e 39.5%,#ed945e 43.0%,#ed945e 46.5%,#ed945e 50.0%,#ec935e 53.5%,#e38e5a 57.0%,#db8957 60.5%,#d48454 64.0%,#cd8051 67.5%,#bf774c 71.0%,#ae6d45 74.4%,#a46641 77.9%,#99603d 81.4%,#8f5939 84.9%,#855335 88.4%,#7b4d31 91.9%,#71472d 95.4%,#664028 98.9%)"></div><div style="top:74.02px;height:5.89px;background:linear-gradient(90deg,#ef955f 1.1%,#ef955f 4.6%,#ef955f 8.1%,#ef955f 11.6%,#ef955f 15.1%,#ef955f 18.6%,#ef955f 22.1%,#ef955f 25.6%,#ef955f 29.0%,#ef955f 32.5%,#ef955f 36.0%,#ef955f 39.5%,#ef955f 43.0%,#ef955f 46.5%,#ef955f 50.0%,#ed945e 53.5%,#e28d5a 57.0%,#da8857 60.5%,#d38454 64.0%,#cb7f51 67.5%,#bc764b 71.0%,#aa6a44 74.4%,#9e633f 77.9%,#915b3a 81.4%,#865435 84.9%,#7b4d31 88.4%,#71472d 91.9%,#674029 95.4%,#5b3924 98.9%)"></div><div style="top:79.31px;height:5.89px;background:linear-gradient(90deg,#f29760 1.1%,#f29760 4.6%,#f29760 8.1%,#f29760 11.6%,#f29760 15.1%,#f29760 18.6%,#f29760 22.1%,#f29760 25.6%,#f29760 29.0%,#f29760 32.5%,#f19760 36.0%,#f19660 39.5%,#f09660 43.0%,#f09660 46.5%,#ef955f 50.0%,#eb935e 53.5%,#df8b59 57.0%,#d68555 60.5%,#cd8052 64.0%,#c57b4e 67.5%,#b57148 71.0%,#a36641 74.4%,#965e3c 77.9%,#8a5637 81.4%,#7e4f32 84.9%,#74482e 88.4%,#69422a 91.9%,#5f3c26 95.4%,#543522 98.9%)"></div><div style="top:84.60px;height:5.89px;background:linear-gradient(90deg,#f59962 1.1%,#f59962 4.6%,#f59962 8.1%,#f59962 11.6%,#f59962 15.1%,#f59962 18.6%,#f59962 22.1%,#f59962 25.6%,#f59962 29.0%,#f59961 32.5%,#f49861 36.0%,#f39861 39.5%,#f29760 43.0%,#f19760 46.5%,#ee955f 50.0%,#e9915d 53.5%,#db8957 57.0%,#d18253 60.5%,#c77c4f 64.0%,#bd764b 67.5%,#ad6c45 71.0%,#9b613e 74.4%,#8e5939 77.9%,#825134 81.4%,#764a2f 84.9%,#6c442b 88.4%,#623e27 91.9%,#583723 95.4%,#4e311f 98.9%)"></div><div style="top:89.89px;height:5.89px;background:linear-gradient(90deg,#f99b63 1.1%,#f99b63 4.6%,#f99b63 8.1%,#f99b63 11.6%,#f99b63 15.1%,#f99b63 18.6%,#f99b63 22.1%,#f99b63 25.6%,#f99b63 29.0%,#f89b63 32.5%,#f79a62 36.0%,#f59962 39.5%,#f49861 43.0%,#f29760 46.5%,#ee945f 50.0%,#e6905c 53.5%,#d78656 57.0%,#cb7f51 60.5%,#c1784d 64.0%,#b57148 67.5%,#a56742 71.0%,#935c3b 74.4%,#875436 77.9%,#7b4d31 81.4%,#6f452c 84.9%,#653f28 88.4%,#5b3924 91.9%,#523321 95.4%,#482d1d 98.9%)"></div><div style="top:95.17px;height:5.89px;background:linear-gradient(90deg,#fc9e64 1.1%,#fc9e64 4.6%,#fc9e64 8.1%,#fc9e64 11.6%,#fc9e64 15.1%,#fc9e64 18.6%,#fc9e64 22.1%,#fc9e64 25.6%,#fc9e64 29.0%,#fb9d64 32.5%,#f99c63 36.0%,#f79a62 39.5%,#f59962 43.0%,#f39861 46.5%,#ed945e 50.0%,#e38e5a 53.5%,#d38454 57.0%,#c67c4f 60.5%,#ba744a 64.0%,#ad6c45 67.5%,#9d623e 71.0%,#8c5738 74.4%,#7f4f33 77.9%,#73482e 81.4%,#674129 84.9%,#5e3b25 88.4%,#543522 91.9%,#4b2f1e 95.4%,#42291a 98.9%)"></div><div style="top:100.46px;height:5.89px;background:linear-gradient(90deg,#ffa066 1.1%,#ffa066 4.6%,#ffa066 8.1%,#ffa066 11.6%,#ffa066 15.1%,#ffa066 18.6%,#ffa066 22.1%,#ffa066 25.6%,#ffa066 29.0%,#ff9f65 32.5%,#fc9d64 36.0%,#f99c63 39.5%,#f79a62 43.0%,#f59961 46.5%,#ed945e 50.0%,#e18c59 53.5%,#d08253 57.0%,#c1794d 60.5%,#b47048 64.0%,#a56742 67.5%,#945d3b 71.0%,#845235 74.4%,#774a2f 77.9%,#6b432b 81.4%,#603c26 84.9%,#573622 88.4%,#4d301f 91.9%,#442b1b 95.4%,#3c2518 98.9%)"></div><div style="top:105.75px;height:5.89px;background:linear-gradient(90deg,#ffa267 1.1%,#ffa267 4.6%,#ffa267 8.1%,#ffa267 11.6%,#ffa267 15.1%,#ffa267 18.6%,#ffa267 22.1%,#ffa267 25.6%,#ffa267 29.0%,#ffa167 32.5%,#ff9f65 36.0%,#fb9d64 39.5%,#f89b63 43.0%,#f69a62 46.5%,#ec935e 50.0%,#de8b58 53.5%,#cc7f51 57.0%,#bc764b 60.5%,#ad6c45 64.0%,#9d623e 67.5%,#8c5838 71.0%,#7c4e31 74.4%,#6f462c 77.9%,#643e28 81.4%,#583723 84.9%,#4f3220 88.4%,#462c1c 91.9%,#3d2618 95.4%,#352115 98.9%)"></div><div style="top:111.04px;height:5.89px;background:linear-gradient(90deg,#ffa468 1.1%,#ffa468 4.6%,#ffa468 8.1%,#ffa468 11.6%,#ffa468 15.1%,#ffa468 18.6%,#ffa468 22.1%,#ffa468 25.6%,#ffa468 29.0%,#ffa368 32.5%,#ffa166 36.0%,#fe9e65 39.5%,#fa9c63 43.0%,#f79a62 46.5%,#eb935e 50.0%,#dc8957 53.5%,#c87d50 57.0%,#b77249 60.5%,#a76843 64.0%,#955d3b 67.5%,#845335 71.0%,#75492e 74.4%,#684129 77.9%,#5c3925 81.4%,#513320 84.9%,#482d1d 88.4%,#3f2719 91.9%,#372216 95.4%,#2f1e13 98.9%)"></div><div style="top:116.32px;height:5.89px;background:linear-gradient(90deg,#ffa66a 1.1%,#ffa66a 4.6%,#ffa66a 8.1%,#ffa66a 11.6%,#ffa66a 15.1%,#ffa66a 18.6%,#ffa66a 22.1%,#ffa66a 25.6%,#ffa66a 29.0%,#ffa569 32.5%,#ffa368 36.0%,#ffa066 39.5%,#fc9d64 43.0%,#f89b63 46.5%,#eb935e 50.0%,#d98856 53.5%,#c47b4e 57.0%,#b26f47 60.5%,#a16440 64.0%,#8c5838 67.5%,#7c4d31 71.0%,#6d442b 74.4%,#603c26 77.9%,#543522 81.4%,#492e1d 84.9%,#41281a 88.4%,#382316 91.9%,#301e13 95.4%,#291a10 98.9%)"></div><div style="top:121.61px;height:5.89px;background:linear-gradient(90deg,#ffa86b 1.1%,#ffa86b 4.6%,#ffa86b 8.1%,#ffa86b 11.6%,#ffa86b 15.1%,#ffa86b 18.6%,#ffa86b 22.1%,#ffa86b 25.6%,#ffa86b 29.0%,#ffa76b 32.5%,#ffa469 36.0%,#ffa167 39.5%,#fd9e65 43.0%,#f99c63 46.5%,#ea925d 50.0%,#d68655 53.5%,#c0784d 57.0%,#ad6c45 60.5%,#9a603d 64.0%,#845335 67.5%,#74482e 71.0%,#653f28 74.4%,#583723 77.9%,#4d301f 81.4%,#42291a 84.9%,#392417 88.4%,#311f14 91.9%,#291a10 95.4%,#23160e 98.9%)"></div><div style="top:126.90px;height:5.89px;background:linear-gradient(90deg,#ffab6d 1.1%,#ffab6d 4.6%,#ffab6d 8.1%,#ffab6d 11.6%,#ffab6d 15.1%,#ffab6d 18.6%,#ffab6d 22.1%,#ffab6d 25.6%,#ffab6d 29.0%,#ffa96c 32.5%,#ffa66a 36.0%,#ffa267 39.5%,#fe9f65 43.0%,#f99c63 46.5%,#e9915d 50.0%,#d48454 53.5%,#bd764b 57.0%,#a96943 60.5%,#955d3b 64.0%,#7e4f32 67.5%,#6c442b 71.0%,#5e3b25 74.4%,#513320 77.9%,#462b1c 81.4%,#3b2517 84.9%,#321f14 88.4%,#2a1a11 91.9%,#22150e 95.4%,#1d120c 98.9%)"></div><div style="top:132.19px;height:5.89px;background:linear-gradient(90deg,#ffae6f 1.1%,#ffae6f 4.6%,#ffae6f 8.1%,#ffae6f 11.6%,#ffae6f 15.1%,#ffae6f 18.6%,#ffae6f 22.1%,#ffae6f 25.6%,#ffae6f 29.0%,#ffab6d 32.5%,#ffa76a 36.0%,#ffa368 39.5%,#fe9f65 43.0%,#f79a62 46.5%,#e6905b 50.0%,#d18353 53.5%,#ba744a 57.0%,#a56742 60.5%,#915b3a 64.0%,#7a4c31 67.5%,#664029 71.0%,#583723 74.4%,#4a2e1e 77.9%,#3f2719 81.4%,#342115 84.9%,#2b1b11 88.4%,#23160e 91.9%,#1c110b 95.4%,#180f09 98.9%)"></div><div style="top:137.47px;height:5.89px;background:linear-gradient(90deg,#ffb171 1.1%,#ffb171 4.6%,#ffb171 8.1%,#ffb171 11.6%,#ffb171 15.1%,#ffb171 18.6%,#ffb171 22.1%,#ffb171 25.6%,#ffb070 29.0%,#ffad6e 32.5%,#ffa86b 36.0%,#ffa468 39.5%,#fe9f65 43.0%,#f59961 46.5%,#e38e5a 50.0%,#ce8152 53.5%,#b77349 57.0%,#a26540 60.5%,#8d5838 64.0%,#76492f 67.5%,#603c26 71.0%,#513320 74.4%,#442a1b 77.9%,#382316 81.4%,#2e1c12 84.9%,#24170e 88.4%,#1c120b 91.9%,#150d08 95.4%,#120b07 98.9%)"></div><div style="top:142.76px;height:5.89px;background:linear-gradient(90deg,#ffb473 1.1%,#ffb473 4.6%,#ffb473 8.1%,#ffb473 11.6%,#ffb473 15.1%,#ffb473 18.6%,#ffb473 22.1%,#ffb473 25.6%,#ffb372 29.0%,#ffaf6f 32.5%,#ffaa6c 36.0%,#ffa469 39.5%,#fe9f65 43.0%,#f39861 46.5%,#e08c59 50.0%,#cc7f51 53.5%,#b57148 57.0%,#9f633f 60.5%,#895536 64.0%,#71472d 67.5%,#5b3924 71.0%,#4b2f1e 74.4%,#3d2618 77.9%,#311f14 81.4%,#271810 84.9%,#1d120c 88.4%,#150d08 91.9%,#0e0906 95.4%,#0d0805 98.9%)"></div><div style="top:148.05px;height:5.89px;background:linear-gradient(90deg,#ffb774 1.1%,#ffb774 4.6%,#ffb774 8.1%,#ffb774 11.6%,#ffb774 15.1%,#ffb774 18.6%,#ffb774 22.1%,#ffb774 25.6%,#ffb674 29.0%,#ffb170 32.5%,#ffab6d 36.0%,#ffa569 39.5%,#ff9f65 43.0%,#f19760 46.5%,#dd8a58 50.0%,#c97d50 53.5%,#b26f47 57.0%,#9b613e 60.5%,#855335 64.0%,#6d442b 67.5%,#553522 71.0%,#452b1b 74.4%,#362216 77.9%,#2b1b11 81.4%,#20140d 84.9%,#160e09 88.4%,#0e0906 91.9%,#070503 95.4%,#070403 98.9%)"></div><div style="top:153.34px;height:5.89px;background:linear-gradient(90deg,#ffb976 1.1%,#ffb976 4.6%,#ffb976 8.1%,#ffb976 11.6%,#ffb976 15.1%,#ffb976 18.6%,#ffb976 22.1%,#ffb976 25.6%,#ffb774 29.0%,#ffb171 32.5%,#ffab6d 36.0%,#ffa569 39.5%,#fe9e65 43.0%,#ef955f 46.5%,#db8957 50.0%,#c67c4f 53.5%,#ae6d45 57.0%,#975e3c 60.5%,#7f5033 64.0%,#664029 67.5%,#4e311f 71.0%,#3d2618 74.4%,#2f1d13 77.9%,#23160e 81.4%,#19100a 84.9%,#110b07 88.4%,#0a0604 91.9%,#050302 95.4%,#050302 98.9%)"></div><div style="top:158.62px;height:5.89px;background:linear-gradient(90deg,#ffbc78 1.1%,#ffbc78 4.6%,#ffbc78 8.1%,#ffbc78 11.6%,#ffbc78 15.1%,#ffbc78 18.6%,#ffbc78 22.1%,#ffba77 25.6%,#ffb775 29.0%,#ffb171 32.5%,#ffab6d 36.0%,#ffa569 39.5%,#fc9e64 43.0%,#ed945e 46.5%,#d88756 50.0%,#c2794d 53.5%,#aa6a44 57.0%,#925b3a 60.5%,#7a4c31 64.0%,#603c26 67.5%,#472d1c 71.0%,#362215 74.4%,#271910 77.9%,#1b110b 81.4%,#120b07 84.9%,#0c0705 88.4%,#070503 91.9%,#040201 95.4%,#040201 98.9%)"></div><div style="top:163.91px;height:5.89px;background:linear-gradient(90deg,#ffbe79 1.1%,#ffbe79 4.6%,#ffbe79 8.1%,#ffbe79 11.6%,#ffbe79 15.1%,#ffbe79 18.6%,#ffbe79 22.1%,#ffbc78 25.6%,#ffb875 29.0%,#ffb271 32.5%,#ffab6d 36.0%,#ffa469 39.5%,#fb9d64 43.0%,#ec935e 46.5%,#d68655 50.0%,#bf774c 53.5%,#a56742 57.0%,#8d5838 60.5%,#74492e 64.0%,#593723 67.5%,#41291a 71.0%,#2e1d12 74.4%,#20140d 77.9%,#130c08 81.4%,#0a0604 84.9%,#070403 88.4%,#040302 91.9%,#020101 95.4%,#020101 98.9%)"></div><div style="top:169.20px;height:5.89px;background:linear-gradient(90deg,#ffc07b 1.1%,#ffc07b 4.6%,#ffc07b 8.1%,#ffc07b 11.6%,#ffc07b 15.1%,#ffc07b 18.6%,#ffc07b 22.1%,#ffbd79 25.6%,#ffb875 29.0%,#ffb271 32.5%,#ffab6d 36.0%,#ffa468 39.5%,#fa9c64 43.0%,#ea925d 46.5%,#d38454 50.0%,#bc754b 53.5%,#a16540 57.0%,#885536 60.5%,#6f452c 64.0%,#523321 67.5%,#3a2417 71.0%,#27180f 74.4%,#180f0a 77.9%,#0c0705 81.4%,#020201 84.9%,#020101 88.4%,#010100 91.9%,#010000 95.4%,#010000 98.9%)"></div><div style="top:174.49px;height:5.89px;background:linear-gradient(90deg,#ffc17b 1.1%,#ffc17b 4.6%,#ffc17b 8.1%,#ffc17b 11.6%,#ffc17b 15.1%,#ffc17b 18.6%,#ffc17b 22.1%,#ffbd79 25.6%,#ffb775 29.0%,#ffb171 32.5%,#ffa96c 36.0%,#ffa167 39.5%,#f59961 43.0%,#e48e5b 46.5%,#cd8051 50.0%,#b57148 53.5%,#99603d 57.0%,#805033 60.5%,#674129 64.0%,#4a2e1d 67.5%,#342015 71.0%,#21150d 74.4%,#140d08 77.9%,#080503 81.4%,#000000 84.9%,#000000 88.4%,#000000 91.9%,#000000 95.4%,#000000 98.9%)"></div><div style="top:179.77px;height:5.89px;background:linear-gradient(90deg,#ffc27b 1.1%,#ffc27b 4.6%,#ffc27b 8.1%,#ffc27b 11.6%,#ffc27b 15.1%,#ffc27b 18.6%,#ffc07a 22.1%,#ffbc78 25.6%,#ffb674 29.0%,#ffaf6f 32.5%,#ffa76a 36.0%,#fd9e65 39.5%,#ee945f 43.0%,#db8957 46.5%,#c47a4e 50.0%,#ac6b44 53.5%,#905a39 57.0%,#774a2f 60.5%,#5f3b26 64.0%,#41281a 67.5%,#2d1c12 71.0%,#1d120c 74.4%,#120b07 77.9%,#070503 81.4%,#000000 84.9%,#000000 88.4%,#000000 91.9%,#000000 95.4%,#000000 98.9%)"></div><div style="top:185.06px;height:5.89px;background:linear-gradient(90deg,#ffc27b 1.1%,#ffc27b 4.6%,#ffc27b 8.1%,#ffc27b 11.6%,#ffc27b 15.1%,#ffc27b 18.6%,#ffc07a 22.1%,#ffbb77 25.6%,#ffb473 29.0%,#ffad6e 32.5%,#ffa468 36.0%,#f79a62 39.5%,#e6905c 43.0%,#d38454 46.5%,#bb754b 50.0%,#a36641 53.5%,#875436 57.0%,#6e452c 60.5%,#563622 64.0%,#382316 67.5%,#271810 71.0%,#19100a 74.4%,#0f0906 77.9%,#060403 81.4%,#000000 84.9%,#000000 88.4%,#000000 91.9%,#000000 95.4%,#000000 98.9%)"></div><div style="top:190.35px;height:5.89px;background:linear-gradient(90deg,#ffc27c 1.1%,#ffc27c 4.6%,#ffc27c 8.1%,#ffc27c 11.6%,#ffc27c 15.1%,#ffc27c 18.6%,#ffbf7a 22.1%,#ffba77 25.6%,#ffb372 29.0%,#ffab6d 32.5%,#ffa167 36.0%,#f19760 39.5%,#df8b59 43.0%,#cb7f51 46.5%,#b37047 50.0%,#9a603d 53.5%,#7d4e32 57.0%,#653f28 60.5%,#4d301f 64.0%,#2f1d13 67.5%,#21140d 71.0%,#150d08 74.4%,#0d0805 77.9%,#050302 81.4%,#000000 84.9%,#000000 88.4%,#000000 91.9%,#000000 95.4%,#000000 98.9%)"></div><div style="top:195.64px;height:5.89px;background:linear-gradient(90deg,#ffc27c 1.1%,#ffc27c 4.6%,#ffc27c 8.1%,#ffc27c 11.6%,#ffc27c 15.1%,#ffc27c 18.6%,#ffbf79 22.1%,#ffb976 25.6%,#ffb271 29.0%,#ffa96c 32.5%,#fe9f65 36.0%,#ec935e 39.5%,#d88756 43.0%,#c37a4e 46.5%,#aa6a44 50.0%,#915a3a 53.5%,#74492e 57.0%,#5c3a25 60.5%,#442b1b 64.0%,#26180f 67.5%,#1a110b 71.0%,#110b07 74.4%,#0a0604 77.9%,#040302 81.4%,#000000 84.9%,#000000 88.4%,#000000 91.9%,#000000 95.4%,#000000 98.9%)"></div><div style="top:200.92px;height:5.89px;background:linear-gradient(90deg,#ffc37c 1.1%,#ffc37c 4.6%,#ffc37c 8.1%,#ffc37c 11.6%,#ffc37c 15.1%,#ffc37c 18.6%,#ffbe79 22.1%,#ffb875 25.6%,#ffb070 29.0%,#ffa76a 32.5%,#fa9c64 36.0%,#e6905c 39.5%,#d08253 43.0%,#ba754a 46.5%,#a16540 50.0%,#885536 53.5%,#6b432a 57.0%,#533421 60.5%,#3b2518 64.0%,#1d120c 67.5%,#140d08 71.0%,#0d0805 74.4%,#080503 77.9%,#030201 81.4%,#000000 84.9%,#000000 88.4%,#000000 91.9%,#000000 95.4%,#000000 98.9%)"></div><div style="top:206.21px;height:5.89px;background:linear-gradient(90deg,#ffc37c 1.1%,#ffc37c 4.6%,#ffc37c 8.1%,#ffc37c 11.6%,#ffc37c 15.1%,#ffc37c 18.6%,#ffbe79 22.1%,#ffb775 25.6%,#ffaf6f 29.0%,#ffa569 32.5%,#f69a62 36.0%,#e08c59 39.5%,#c97e50 43.0%,#b26f47 46.5%,#99603d 50.0%,#7e4f32 53.5%,#613d27 57.0%,#4a2e1d 60.5%,#332014 64.0%,#140d08 67.5%,#0e0905 71.0%,#090604 74.4%,#050302 77.9%,#020101 81.4%,#000000 84.9%,#000000 88.4%,#000000 91.9%,#000000 95.4%,#000000 98.9%)"></div><div style="top:211.50px;height:5.89px;background:linear-gradient(90deg,#ffc37c 1.1%,#ffc37c 4.6%,#ffc37c 8.1%,#ffc37c 11.6%,#ffc37c 15.1%,#ffc37c 18.6%,#ffbd78 22.1%,#ffb674 25.6%,#ffad6e 29.0%,#ffa368 32.5%,#f29760 36.0%,#db8957 39.5%,#c2794d 43.0%,#aa6a44 46.5%,#905a39 50.0%,#75492f 53.5%,#583723 57.0%,#41291a 60.5%,#2a1a11 64.0%,#0c0705 67.5%,#070503 71.0%,#050302 74.4%,#030201 77.9%,#010100 81.4%,#000000 84.9%,#000000 88.4%,#000000 91.9%,#000000 95.4%,#000000 98.9%)"></div><div style="top:216.79px;height:5.89px;background:linear-gradient(90deg,#ffc37c 1.1%,#ffc37c 4.6%,#ffc37c 8.1%,#ffc37c 11.6%,#ffc37c 15.1%,#ffc37c 18.6%,#ffbc78 22.1%,#ffb574 25.6%,#ffac6e 29.0%,#ffa167 32.5%,#ee955f 36.0%,#d58555 39.5%,#ba754a 43.0%,#a26540 46.5%,#885536 50.0%,#6c442b 53.5%,#4f311f 57.0%,#382316 60.5%,#21150d 64.0%,#030201 67.5%,#010100 71.0%,#010000 74.4%,#000000 77.9%,#000000 81.4%,#000000 84.9%,#000000 88.4%,#000000 91.9%,#000000 95.4%,#000000 98.9%)"></div><div style="top:222.07px;height:5.89px;background:linear-gradient(90deg,#ffc37c 1.1%,#ffc37c 4.6%,#ffc37c 8.1%,#ffc37c 11.6%,#ffc37c 15.1%,#ffc27c 18.6%,#ffbb77 22.1%,#ffb472 25.6%,#ffaa6c 29.0%,#fe9f65 32.5%,#e8915c 36.0%,#cf8152 39.5%,#b57148 43.0%,#9c623e 46.5%,#825134 50.0%,#674029 53.5%,#4b2f1e 57.0%,#342115 60.5%,#1d120c 64.0%,#010100 67.5%,#000000 71.0%,#000000 74.4%,#000000 77.9%,#000000 81.4%,#000000 84.9%,#000000 88.4%,#000000 91.9%,#000000 95.4%,#000000 98.9%)"></div><div style="top:227.36px;height:5.89px;background:linear-gradient(90deg,#ffc37c 1.1%,#ffc37c 4.6%,#ffc37c 8.1%,#ffc37c 11.6%,#ffc37c 15.1%,#ffc17b 18.6%,#ffba76 22.1%,#ffb271 25.6%,#ffa86b 29.0%,#f99c63 32.5%,#e28d5a 36.0%,#c87d50 39.5%,#b06e46 43.0%,#975f3c 46.5%,#7d4e32 50.0%,#633e27 53.5%,#482d1d 57.0%,#321f14 60.5%,#1b110b 64.0%,#010100 67.5%,#000000 71.0%,#000000 74.4%,#000000 77.9%,#000000 81.4%,#000000 84.9%,#000000 88.4%,#000000 91.9%,#000000 95.4%,#000000 98.9%)"></div><div style="top:232.65px;height:5.89px;background:linear-gradient(90deg,#ffc27c 1.1%,#ffc27c 4.6%,#ffc27c 8.1%,#ffc27c 11.6%,#ffc27c 15.1%,#ffc07a 18.6%,#ffb875 22.1%,#ffb070 25.6%,#ffa66a 29.0%,#f49961 32.5%,#dc8a58 36.0%,#c2794d 39.5%,#aa6a44 43.0%,#925b3a 46.5%,#774b30 50.0%,#5e3b26 53.5%,#452b1b 57.0%,#2f1d13 60.5%,#180f0a 64.0%,#010000 67.5%,#000000 71.0%,#000000 74.4%,#000000 77.9%,#000000 81.4%,#000000 84.9%,#000000 88.4%,#000000 91.9%,#000000 95.4%,#000000 98.9%)"></div><div style="top:237.94px;height:5.89px;background:linear-gradient(90deg,#ffc27b 1.1%,#ffc27b 4.6%,#ffc27b 8.1%,#ffc27b 11.6%,#ffc27b 15.1%,#ffbe79 18.6%,#ffb774 22.1%,#ffae6f 25.6%,#ffa469 29.0%,#ef965f 32.5%,#d68655 36.0%,#bc754b 39.5%,#a56742 43.0%,#8d5838 46.5%,#72472d 50.0%,#5a3824 53.5%,#42291a 57.0%,#2c1c12 60.5%,#160e09 64.0%,#000000 67.5%,#000000 71.0%,#000000 74.4%,#000000 77.9%,#000000 81.4%,#000000 84.9%,#000000 88.4%,#000000 91.9%,#000000 95.4%,#000000 98.9%)"></div><div style="top:243.22px;height:5.89px;background:linear-gradient(90deg,#ffc17b 1.1%,#ffc17b 4.6%,#ffc17b 8.1%,#ffc17b 11.6%,#ffc17b 15.1%,#ffbd78 18.6%,#ffb573 22.1%,#ffac6e 25.6%,#ffa267 29.0%,#eb935d 32.5%,#d08253 36.0%,#b67148 39.5%,#a06440 43.0%,#885536 46.5%,#6d442b 50.0%,#563622 53.5%,#3f2719 57.0%,#2a1a11 60.5%,#130c08 64.0%,#000000 67.5%,#000000 71.0%,#000000 74.4%,#000000 77.9%,#000000 81.4%,#000000 84.9%,#000000 88.4%,#000000 91.9%,#000000 95.4%,#000000 98.9%)"></div><div style="top:248.51px;height:5.89px;background:linear-gradient(90deg,#ffc17b 1.1%,#ffc17b 4.6%,#ffc17b 8.1%,#ffc17b 11.6%,#ffc17b 15.1%,#ffbc78 18.6%,#ffb473 22.1%,#ffab6d 25.6%,#ffa166 29.0%,#e7905c 32.5%,#cc7f51 36.0%,#b16f46 39.5%,#9c613e 43.0%,#855335 46.5%,#69422a 50.0%,#523421 53.5%,#3d2618 57.0%,#281910 60.5%,#110b07 64.0%,#000000 67.5%,#000000 71.0%,#000000 74.4%,#000000 77.9%,#000000 81.4%,#000000 84.9%,#000000 88.4%,#000000 91.9%,#000000 95.4%,#000000 98.9%)"></div></div></div>
<div class="hm" style="left:1525.4px;top:448.3px;width:351.1px;height:245.3px"><div class="hmi" style="left:-4px;top:-4px;width:359.1px;height:253.3px;filter:blur(1.5px)"><div style="top:0.00px;height:5.88px;background:linear-gradient(90deg,#291a10 1.1%,#362215 4.6%,#422a1a 8.1%,#4f3220 11.6%,#5c3925 15.1%,#6b432b 18.6%,#7b4d31 22.1%,#8b5737 25.6%,#99603d 29.0%,#a76943 32.5%,#b57148 36.0%,#c37a4e 39.5%,#d18353 43.0%,#e38e5a 46.5%,#f99b63 50.0%,#ffa569 53.5%,#ffab6d 57.0%,#ffb070 60.5%,#ffb372 64.0%,#ffb674 67.5%,#ffb875 71.0%,#ffba76 74.4%,#ffbb77 77.9%,#ffbc78 81.4%,#ffbd79 84.9%,#ffbe79 88.4%,#ffbf7a 91.9%,#ffc07a 95.4%,#ffc17b 98.9%)"></div><div style="top:5.28px;height:5.88px;background:linear-gradient(90deg,#2d1c12 1.1%,#392417 4.6%,#452b1b 8.1%,#513320 11.6%,#5d3a25 15.1%,#6c432b 18.6%,#7b4d31 22.1%,#8b5737 25.6%,#99603d 29.0%,#a76943 32.5%,#b57148 36.0%,#c37a4e 39.5%,#d28354 43.0%,#e38e5b 46.5%,#f99b63 50.0%,#ffa569 53.5%,#ffab6d 57.0%,#ffb070 60.5%,#ffb372 64.0%,#ffb674 67.5%,#ffb875 71.0%,#ffba76 74.4%,#ffbb77 77.9%,#ffbc78 81.4%,#ffbd79 84.9%,#ffbe79 88.4%,#ffbf7a 91.9%,#ffc07a 95.4%,#ffc17b 98.9%)"></div><div style="top:10.55px;height:5.88px;background:linear-gradient(90deg,#321f14 1.1%,#3d2618 4.6%,#482d1d 8.1%,#543421 11.6%,#5f3b26 15.1%,#6d442b 18.6%,#7c4e31 22.1%,#8b5737 25.6%,#99603d 29.0%,#a76943 32.5%,#b57148 36.0%,#c47a4e 39.5%,#d38454 43.0%,#e48f5b 46.5%,#f99b63 50.0%,#ffa469 53.5%,#ffab6d 57.0%,#ffb070 60.5%,#ffb372 64.0%,#ffb674 67.5%,#ffb875 71.0%,#ffba76 74.4%,#ffbb77 77.9%,#ffbc78 81.4%,#ffbd79 84.9%,#ffbe79 88.4%,#ffbf7a 91.9%,#ffc07a 95.4%,#ffc17b 98.9%)"></div><div style="top:15.83px;height:5.88px;background:linear-gradient(90deg,#372216 1.1%,#42291a 4.6%,#4c2f1e 8.1%,#563622 11.6%,#603c26 15.1%,#6e452c 18.6%,#7d4e32 22.1%,#8b5737 25.6%,#99603d 29.0%,#a76943 32.5%,#b57148 36.0%,#c47b4e 39.5%,#d48454 43.0%,#e58f5b 46.5%,#f99b63 50.0%,#ffa468 53.5%,#ffab6d 57.0%,#ffb070 60.5%,#ffb372 64.0%,#ffb674 67.5%,#ffb875 71.0%,#ffba76 74.4%,#ffbb77 77.9%,#ffbc78 81.4%,#ffbd79 84.9%,#ffbe79 88.4%,#ffbf7a 91.9%,#ffc07a 95.4%,#ffc17b 98.9%)"></div><div style="top:21.11px;height:5.88px;background:linear-gradient(90deg,#3b2518 1.1%,#462c1c 4.6%,#4f3220 8.1%,#593723 11.6%,#623d27 15.1%,#6f452c 18.6%,#7d4e32 22.1%,#8b5738 25.6%,#99603d 29.0%,#a76943 32.5%,#b57148 36.0%,#c57b4e 39.5%,#d58555 43.0%,#e6905c 46.5%,#f99b63 50.0%,#ffa368 53.5%,#ffab6d 57.0%,#ffb070 60.5%,#ffb372 64.0%,#ffb674 67.5%,#ffb875 71.0%,#ffba76 74.4%,#ffbb77 77.9%,#ffbc78 81.4%,#ffbd79 84.9%,#ffbe79 88.4%,#ffbf7a 91.9%,#ffc07a 95.4%,#ffc17b 98.9%)"></div><div style="top:26.39px;height:5.88px;background:linear-gradient(90deg,#402819 1.1%,#4a2e1d 4.6%,#533421 8.1%,#5b3924 11.6%,#643e28 15.1%,#70462d 18.6%,#7e4f32 22.1%,#8c5738 25.6%,#9a603d 29.0%,#a76943 32.5%,#b57148 36.0%,#c57b4f 39.5%,#d68655 43.0%,#e7905c 46.5%,#f99b63 50.0%,#ffa368 53.5%,#ffab6d 57.0%,#ffb070 60.5%,#ffb372 64.0%,#ffb674 67.5%,#ffb875 71.0%,#ffba76 74.4%,#ffbb77 77.9%,#ffbc78 81.4%,#ffbd79 84.9%,#ffbe79 88.4%,#ffbf7a 91.9%,#ffc07a 95.4%,#ffc17b 98.9%)"></div><div style="top:31.66px;height:5.88px;background:linear-gradient(90deg,#432a1b 1.1%,#4c301e 4.6%,#553522 8.1%,#5e3b25 11.6%,#674029 15.1%,#73482e 18.6%,#805033 22.1%,#8e5938 25.6%,#9c613e 29.0%,#a96a43 32.5%,#b77349 36.0%,#c77c4f 39.5%,#d78656 43.0%,#e8915c 46.5%,#fa9c63 50.0%,#ffa468 53.5%,#ffab6d 57.0%,#ffb070 60.5%,#ffb372 64.0%,#ffb674 67.5%,#ffb875 71.0%,#ffba76 74.4%,#ffbb77 77.9%,#ffbc78 81.4%,#ffbd79 84.9%,#ffbe79 88.4%,#ffbf7a 91.9%,#ffc07a 95.4%,#ffc17b 98.9%)"></div><div style="top:36.94px;height:5.88px;background:linear-gradient(90deg,#462c1c 1.1%,#4f311f 4.6%,#573723 8.1%,#603c26 11.6%,#69422a 15.1%,#75492f 18.6%,#825134 22.1%,#905a39 25.6%,#9e623f 29.0%,#ab6b44 32.5%,#b9744a 36.0%,#c87d50 39.5%,#d88756 43.0%,#e8915d 46.5%,#fb9d64 50.0%,#ffa468 53.5%,#ffab6d 57.0%,#ffaf70 60.5%,#ffb372 64.0%,#ffb674 67.5%,#ffb875 71.0%,#ffba76 74.4%,#ffbb77 77.9%,#ffbc78 81.4%,#ffbd78 84.9%,#ffbe79 88.4%,#ffbf7a 91.9%,#ffc07a 95.4%,#ffc17b 98.9%)"></div><div style="top:42.22px;height:5.88px;background:linear-gradient(90deg,#492d1d 1.1%,#513320 4.6%,#5a3824 8.1%,#623d27 11.6%,#6c442b 15.1%,#784b30 18.6%,#845335 22.1%,#925b3a 25.6%,#a0643f 29.0%,#ad6c45 32.5%,#bb754b 36.0%,#ca7e50 39.5%,#d98857 43.0%,#e9925d 46.5%,#fc9e64 50.0%,#ffa469 53.5%,#ffab6d 57.0%,#ffaf70 60.5%,#ffb272 64.0%,#ffb573 67.5%,#ffb875 71.0%,#ffba76 74.4%,#ffbb77 77.9%,#ffbc78 81.4%,#ffbd78 84.9%,#ffbe79 88.4%,#ffbf7a 91.9%,#ffc07a 95.4%,#ffc17b 98.9%)"></div><div style="top:47.49px;height:5.88px;background:linear-gradient(90deg,#4b2f1e 1.1%,#543421 4.6%,#5c3a25 8.1%,#653f28 11.6%,#6f452c 15.1%,#7a4c31 18.6%,#865435 22.1%,#945c3b 25.6%,#a26540 29.0%,#af6e46 32.5%,#bd764b 36.0%,#cc7f51 39.5%,#db8957 43.0%,#ea925d 46.5%,#fd9e65 50.0%,#ffa569 53.5%,#ffab6d 57.0%,#ffaf70 60.5%,#ffb271 64.0%,#ffb573 67.5%,#ffb775 71.0%,#ffb976 74.4%,#ffbb77 77.9%,#ffbc78 81.4%,#ffbd78 84.9%,#ffbe79 88.4%,#ffbf7a 91.9%,#ffc07a 95.4%,#ffc17b 98.9%)"></div><div style="top:52.77px;height:5.88px;background:linear-gradient(90deg,#4e311f 1.1%,#563622 4.6%,#5e3b26 8.1%,#674029 11.6%,#72472d 15.1%,#7c4e32 18.6%,#885536 22.1%,#965e3c 25.6%,#a36641 29.0%,#b16f47 32.5%,#bf774c 36.0%,#cd8052 39.5%,#dc8957 43.0%,#ea925d 46.5%,#fe9f65 50.0%,#ffa569 53.5%,#ffab6d 57.0%,#ffaf70 60.5%,#ffb271 64.0%,#ffb573 67.5%,#ffb775 71.0%,#ffb976 74.4%,#ffbb77 77.9%,#ffbc78 81.4%,#ffbd78 84.9%,#ffbe79 88.4%,#ffbf7a 91.9%,#ffc07a 95.4%,#ffc17b 98.9%)"></div><div style="top:58.05px;height:5.88px;background:linear-gradient(90deg,#503220 1.1%,#583723 4.6%,#603c26 8.1%,#69412a 11.6%,#73482e 15.1%,#7e4f32 18.6%,#895637 22.1%,#975f3c 25.6%,#a56742 29.0%,#b37047 32.5%,#c1784d 36.0%,#cf8152 39.5%,#dd8a58 43.0%,#eb935e 46.5%,#ffa066 50.0%,#ffa669 53.5%,#ffac6d 57.0%,#ffaf70 60.5%,#ffb271 64.0%,#ffb573 67.5%,#ffb775 71.0%,#ffba76 74.4%,#ffbb77 77.9%,#ffbc78 81.4%,#ffbd78 84.9%,#ffbe79 88.4%,#ffbf7a 91.9%,#ffc07a 95.4%,#ffc17b 98.9%)"></div><div style="top:63.33px;height:5.88px;background:linear-gradient(90deg,#513220 1.1%,#593723 4.6%,#613c27 8.1%,#69422a 11.6%,#74482e 15.1%,#7f4f32 18.6%,#8a5637 22.1%,#985f3d 25.6%,#a66842 29.0%,#b47148 32.5%,#c2794d 36.0%,#d08253 39.5%,#de8b58 43.0%,#ed945e 46.5%,#ffa066 50.0%,#ffa66a 53.5%,#ffac6d 57.0%,#ffaf70 60.5%,#ffb271 64.0%,#ffb573 67.5%,#ffb775 71.0%,#ffba76 74.4%,#ffbb77 77.9%,#ffbc78 81.4%,#ffbd78 84.9%,#ffbe79 88.4%,#ffbf7a 91.9%,#ffc07a 95.4%,#ffc17b 98.9%)"></div><div style="top:68.60px;height:5.88px;background:linear-gradient(90deg,#523320 1.1%,#5a3824 4.6%,#613d27 8.1%,#6a422a 11.6%,#75492e 15.1%,#7f5033 18.6%,#8b5737 22.1%,#99603d 25.6%,#a76943 29.0%,#b57148 32.5%,#c37a4e 36.0%,#d18253 39.5%,#df8b59 43.0%,#ee955f 46.5%,#ffa066 50.0%,#ffa66a 53.5%,#ffac6e 57.0%,#ffb070 60.5%,#ffb271 64.0%,#ffb573 67.5%,#ffb875 71.0%,#ffba76 74.4%,#ffbb77 77.9%,#ffbc78 81.4%,#ffbd78 84.9%,#ffbe79 88.4%,#ffbf7a 91.9%,#ffc07a 95.4%,#ffc17b 98.9%)"></div><div style="top:73.88px;height:5.88px;background:linear-gradient(90deg,#523321 1.1%,#5a3824 4.6%,#623d27 8.1%,#6b432a 11.6%,#75492f 15.1%,#805033 18.6%,#8c5738 22.1%,#9a603d 25.6%,#a86943 29.0%,#b67249 32.5%,#c47b4e 36.0%,#d28354 39.5%,#e08c59 43.0%,#ef955f 46.5%,#ffa066 50.0%,#ffa66a 53.5%,#ffac6e 57.0%,#ffb070 60.5%,#ffb272 64.0%,#ffb573 67.5%,#ffb875 71.0%,#ffba76 74.4%,#ffbb77 77.9%,#ffbc78 81.4%,#ffbd78 84.9%,#ffbe79 88.4%,#ffbf7a 91.9%,#ffc07a 95.4%,#ffc17b 98.9%)"></div><div style="top:79.16px;height:5.88px;background:linear-gradient(90deg,#533421 1.1%,#5b3924 4.6%,#633e27 8.1%,#6b432b 11.6%,#764a2f 15.1%,#815133 18.6%,#8d5838 22.1%,#9b613e 25.6%,#a96a43 29.0%,#b87349 32.5%,#c57b4f 36.0%,#d38454 39.5%,#e18d5a 43.0%,#f09660 46.5%,#ffa166 50.0%,#ffa76a 53.5%,#ffac6e 57.0%,#ffb070 60.5%,#ffb372 64.0%,#ffb573 67.5%,#ffb875 71.0%,#ffba77 74.4%,#ffbb77 77.9%,#ffbc78 81.4%,#ffbd78 84.9%,#ffbe79 88.4%,#ffbf7a 91.9%,#ffc07a 95.4%,#ffc17b 98.9%)"></div><div style="top:84.43px;height:5.88px;background:linear-gradient(90deg,#543421 1.1%,#5c3924 4.6%,#643e28 8.1%,#6c442b 11.6%,#774a2f 15.1%,#825134 18.6%,#8d5838 22.1%,#9c613e 25.6%,#ab6b44 29.0%,#b9744a 32.5%,#c67c4f 36.0%,#d48454 39.5%,#e28d5a 43.0%,#f19760 46.5%,#ffa167 50.0%,#ffa76a 53.5%,#ffac6e 57.0%,#ffb070 60.5%,#ffb372 64.0%,#ffb573 67.5%,#ffb875 71.0%,#ffba77 74.4%,#ffbb77 77.9%,#ffbc78 81.4%,#ffbd79 84.9%,#ffbe79 88.4%,#ffbf7a 91.9%,#ffc07a 95.4%,#ffc17b 98.9%)"></div><div style="top:89.71px;height:5.88px;background:linear-gradient(90deg,#543522 1.1%,#5c3a25 4.6%,#643f28 8.1%,#6d442b 11.6%,#784b30 15.1%,#825234 18.6%,#8e5939 22.1%,#9d623e 25.6%,#ac6b44 29.0%,#ba744a 32.5%,#c87d4f 36.0%,#d58555 39.5%,#e38e5a 43.0%,#f39861 46.5%,#ffa167 50.0%,#ffa76a 53.5%,#ffad6e 57.0%,#ffb070 60.5%,#ffb372 64.0%,#ffb574 67.5%,#ffb875 71.0%,#ffba77 74.4%,#ffbb77 77.9%,#ffbc78 81.4%,#ffbd79 84.9%,#ffbe79 88.4%,#ffbf7a 91.9%,#ffc07a 95.4%,#ffc17b 98.9%)"></div><div style="top:94.99px;height:5.88px;background:linear-gradient(90deg,#553522 1.1%,#5d3a25 4.6%,#653f28 8.1%,#6e452c 11.6%,#784b30 15.1%,#835234 18.6%,#8f5939 22.1%,#9e633f 25.6%,#ad6c45 29.0%,#bb754b 32.5%,#c97d50 36.0%,#d68655 39.5%,#e48f5b 43.0%,#f49861 46.5%,#ffa267 50.0%,#ffa76b 53.5%,#ffad6e 57.0%,#ffb070 60.5%,#ffb372 64.0%,#ffb674 67.5%,#ffb875 71.0%,#ffbb77 74.4%,#ffbc77 77.9%,#ffbc78 81.4%,#ffbd79 84.9%,#ffbe79 88.4%,#ffbf7a 91.9%,#ffc07a 95.4%,#ffc17b 98.9%)"></div><div style="top:100.26px;height:5.88px;background:linear-gradient(90deg,#563622 1.1%,#5e3b25 4.6%,#664029 8.1%,#6e452c 11.6%,#794c30 15.1%,#845234 18.6%,#905a39 22.1%,#9f633f 25.6%,#ae6d45 29.0%,#bc764b 32.5%,#ca7e50 36.0%,#d78656 39.5%,#e58f5b 43.0%,#f59962 46.5%,#ffa267 50.0%,#ffa76b 53.5%,#ffad6e 57.0%,#ffb070 60.5%,#ffb372 64.0%,#ffb674 67.5%,#ffb875 71.0%,#ffbb77 74.4%,#ffbc78 77.9%,#ffbd78 81.4%,#ffbe79 84.9%,#ffbe79 88.4%,#ffbf7a 91.9%,#ffc07a 95.4%,#ffc17b 98.9%)"></div><div style="top:105.54px;height:5.88px;background:linear-gradient(90deg,#573622 1.1%,#5f3b26 4.6%,#674029 8.1%,#6f452c 11.6%,#7a4c31 15.1%,#855335 18.6%,#905a39 22.1%,#a06440 25.6%,#af6d46 29.0%,#be774c 32.5%,#cb7f51 36.0%,#d88756 39.5%,#e6905c 43.0%,#f69a62 46.5%,#ffa267 50.0%,#ffa86b 53.5%,#ffad6e 57.0%,#ffb170 60.5%,#ffb372 64.0%,#ffb674 67.5%,#ffb976 71.0%,#ffbb77 74.4%,#ffbc78 77.9%,#ffbd78 81.4%,#ffbe79 84.9%,#ffbf79 88.4%,#ffbf7a 91.9%,#ffc07a 95.4%,#ffc17b 98.9%)"></div><div style="top:110.82px;height:5.88px;background:linear-gradient(90deg,#573723 1.1%,#5f3c26 4.6%,#674129 8.1%,#70462d 11.6%,#7b4d31 15.1%,#855335 18.6%,#915b3a 22.1%,#a16440 25.6%,#b06e46 29.0%,#bf774c 32.5%,#cc7f51 36.0%,#d98856 39.5%,#e7905c 43.0%,#f79b63 46.5%,#ffa368 50.0%,#ffa86b 53.5%,#ffad6e 57.0%,#ffb171 60.5%,#ffb372 64.0%,#ffb674 67.5%,#ffb976 71.0%,#ffbb77 74.4%,#ffbc78 77.9%,#ffbd78 81.4%,#ffbe79 84.9%,#ffbf79 88.4%,#ffbf7a 91.9%,#ffc07a 95.4%,#ffc17b 98.9%)"></div><div style="top:116.10px;height:5.88px;background:linear-gradient(90deg,#583723 1.1%,#603c26 4.6%,#684129 8.1%,#71462d 11.6%,#7b4d31 15.1%,#865435 18.6%,#925b3a 22.1%,#a26540 25.6%,#b16f46 29.0%,#c0784c 32.5%,#cd8052 36.0%,#da8857 39.5%,#e8915c 43.0%,#f99b63 46.5%,#ffa368 50.0%,#ffa86b 53.5%,#ffae6e 57.0%,#ffb171 60.5%,#ffb472 64.0%,#ffb674 67.5%,#ffb976 71.0%,#ffbb77 74.4%,#ffbc78 77.9%,#ffbd78 81.4%,#ffbe79 84.9%,#ffbf79 88.4%,#ffc07a 91.9%,#ffc07b 95.4%,#ffc17b 98.9%)"></div><div style="top:121.37px;height:5.88px;background:linear-gradient(90deg,#593823 1.1%,#613d27 4.6%,#69422a 8.1%,#71472d 11.6%,#7c4e31 15.1%,#875436 18.6%,#935c3a 22.1%,#a26641 25.6%,#b26f47 29.0%,#c1794d 32.5%,#ce8152 36.0%,#db8957 39.5%,#e9925d 43.0%,#fa9c63 46.5%,#ffa368 50.0%,#ffa86b 53.5%,#ffae6f 57.0%,#ffb171 60.5%,#ffb472 64.0%,#ffb674 67.5%,#ffb976 71.0%,#ffbb77 74.4%,#ffbc78 77.9%,#ffbd78 81.4%,#ffbe79 84.9%,#ffbf79 88.4%,#ffc07a 91.9%,#ffc07b 95.4%,#ffc17b 98.9%)"></div><div style="top:126.65px;height:5.88px;background:linear-gradient(90deg,#563622 1.1%,#5f3b26 4.6%,#674029 8.1%,#70462d 11.6%,#7b4d31 15.1%,#865435 18.6%,#925b3a 22.1%,#a26540 25.6%,#b16f47 29.0%,#c0784d 32.5%,#cd8052 36.0%,#da8957 39.5%,#e9915d 43.0%,#f99b63 46.5%,#ffa267 50.0%,#ffa86b 53.5%,#ffad6e 57.0%,#ffb070 60.5%,#ffb372 64.0%,#ffb674 67.5%,#ffb875 71.0%,#ffba77 74.4%,#ffbb77 77.9%,#ffbc78 81.4%,#ffbd78 84.9%,#ffbe79 88.4%,#ffbe79 91.9%,#ffbf7a 95.4%,#ffc07a 98.9%)"></div><div style="top:131.93px;height:5.88px;background:linear-gradient(90deg,#503220 1.1%,#593824 4.6%,#623e27 8.1%,#6c442b 11.6%,#784b30 15.1%,#835234 18.6%,#905a39 22.1%,#9f633f 25.6%,#ae6d45 29.0%,#bd764b 32.5%,#cb7f51 36.0%,#d88756 39.5%,#e6905c 43.0%,#f59962 46.5%,#ffa066 50.0%,#ffa66a 53.5%,#ffab6d 57.0%,#ffae6f 60.5%,#ffb171 64.0%,#ffb472 67.5%,#ffb674 71.0%,#ffb976 74.4%,#ffb976 77.9%,#ffba76 81.4%,#ffbb77 84.9%,#ffbb77 88.4%,#ffbc78 91.9%,#ffbd78 95.4%,#ffbe79 98.9%)"></div><div style="top:137.20px;height:5.88px;background:linear-gradient(90deg,#4a2e1d 1.1%,#543521 4.6%,#5e3b25 8.1%,#68412a 11.6%,#74492e 15.1%,#805033 18.6%,#8d5838 22.1%,#9c623e 25.6%,#ac6b44 29.0%,#ba754a 32.5%,#c87d50 36.0%,#d68555 39.5%,#e38e5a 43.0%,#f29760 46.5%,#fe9f65 50.0%,#ffa468 53.5%,#ffa96c 57.0%,#ffac6e 60.5%,#ffaf6f 64.0%,#ffb271 67.5%,#ffb473 71.0%,#ffb774 74.4%,#ffb775 77.9%,#ffb875 81.4%,#ffb976 84.9%,#ffb976 88.4%,#ffba76 91.9%,#ffbb77 95.4%,#ffbb77 98.9%)"></div><div style="top:142.48px;height:5.88px;background:linear-gradient(90deg,#442a1b 1.1%,#4f311f 4.6%,#5a3824 8.1%,#653f28 11.6%,#71472d 15.1%,#7e4f32 18.6%,#8b5737 22.1%,#9a603d 25.6%,#a96943 29.0%,#b77349 32.5%,#c57b4f 36.0%,#d38454 39.5%,#e18c59 43.0%,#ee955f 46.5%,#fb9d64 50.0%,#ffa267 53.5%,#ffa76a 57.0%,#ffab6d 60.5%,#ffad6e 64.0%,#ffb070 67.5%,#ffb272 71.0%,#ffb573 74.4%,#ffb573 77.9%,#ffb674 81.4%,#ffb774 84.9%,#ffb775 88.4%,#ffb875 91.9%,#ffb875 95.4%,#ffb976 98.9%)"></div><div style="top:147.76px;height:5.88px;background:linear-gradient(90deg,#3e2719 1.1%,#492e1d 4.6%,#553522 8.1%,#613d27 11.6%,#6e452c 15.1%,#7b4d31 18.6%,#885536 22.1%,#975e3c 25.6%,#a66842 29.0%,#b47148 32.5%,#c2794d 36.0%,#d08253 39.5%,#de8b58 43.0%,#eb935e 46.5%,#f89b63 50.0%,#ffa066 53.5%,#ffa569 57.0%,#ffa96b 60.5%,#ffab6d 64.0%,#ffae6f 67.5%,#ffb070 71.0%,#ffb272 74.4%,#ffb372 77.9%,#ffb472 81.4%,#ffb473 84.9%,#ffb573 88.4%,#ffb573 91.9%,#ffb674 95.4%,#ffb674 98.9%)"></div><div style="top:153.04px;height:5.88px;background:linear-gradient(90deg,#382316 1.1%,#442b1b 4.6%,#513220 8.1%,#5d3a25 11.6%,#6a432a 15.1%,#784b30 18.6%,#855335 22.1%,#945d3b 25.6%,#a36641 29.0%,#b16f47 32.5%,#bf784c 36.0%,#cd8052 39.5%,#db8957 43.0%,#e8915c 46.5%,#f69a62 50.0%,#fe9e65 53.5%,#ffa368 57.0%,#ffa66a 60.5%,#ffa96b 64.0%,#ffab6d 67.5%,#ffad6e 71.0%,#ffaf6f 74.4%,#ffb070 77.9%,#ffb170 81.4%,#ffb171 84.9%,#ffb271 88.4%,#ffb271 91.9%,#ffb372 95.4%,#ffb372 98.9%)"></div><div style="top:158.31px;height:5.88px;background:linear-gradient(90deg,#321f14 1.1%,#3f2719 4.6%,#4c301e 8.1%,#593824 11.6%,#674029 15.1%,#74492e 18.6%,#825134 22.1%,#915b3a 25.6%,#a06440 29.0%,#ae6d45 32.5%,#bc764b 36.0%,#ca7e51 39.5%,#d88756 43.0%,#e6905b 46.5%,#f39861 50.0%,#fb9d64 53.5%,#ffa267 57.0%,#ffa469 60.5%,#ffa66a 64.0%,#ffa86b 67.5%,#ffaa6c 71.0%,#ffac6d 74.4%,#ffad6e 77.9%,#ffae6f 81.4%,#ffaf6f 84.9%,#ffaf6f 88.4%,#ffaf6f 91.9%,#ffaf70 95.4%,#ffb070 98.9%)"></div><div style="top:163.59px;height:5.88px;background:linear-gradient(90deg,#2c1b11 1.1%,#3a2417 4.6%,#482d1d 8.1%,#563622 11.6%,#633e28 15.1%,#71472d 18.6%,#7f4f33 22.1%,#8e5938 25.6%,#9d623e 29.0%,#ab6b44 32.5%,#b9744a 36.0%,#c77d4f 39.5%,#d58555 43.0%,#e38e5a 46.5%,#f19760 50.0%,#f89b63 53.5%,#ffa066 57.0%,#ffa267 60.5%,#ffa468 64.0%,#ffa569 67.5%,#ffa76a 71.0%,#ffa86b 74.4%,#ffaa6c 77.9%,#ffab6d 81.4%,#ffac6d 84.9%,#ffac6d 88.4%,#ffac6e 91.9%,#ffac6e 95.4%,#ffac6e 98.9%)"></div><div style="top:168.87px;height:5.88px;background:linear-gradient(90deg,#26180f 1.1%,#342115 4.6%,#432a1b 8.1%,#523320 11.6%,#5f3c26 15.1%,#6d442c 18.6%,#7c4d31 22.1%,#8a5737 25.6%,#99603d 29.0%,#a86943 32.5%,#b67248 36.0%,#c47a4e 39.5%,#d28354 43.0%,#e08c59 46.5%,#ee955f 50.0%,#f59962 53.5%,#fc9e64 57.0%,#ffa066 60.5%,#ffa167 64.0%,#ffa368 67.5%,#ffa468 71.0%,#ffa569 74.4%,#ffa76a 77.9%,#ffa86b 81.4%,#ffa96c 84.9%,#ffa96c 88.4%,#ffa96c 91.9%,#ffa96c 95.4%,#ffa96c 98.9%)"></div><div style="top:174.14px;height:5.88px;background:linear-gradient(90deg,#23160e 1.1%,#301e13 4.6%,#3d2618 8.1%,#4a2e1e 11.6%,#583723 15.1%,#664029 18.6%,#74492e 22.1%,#845234 25.6%,#935c3b 29.0%,#a36641 32.5%,#b16f47 36.0%,#bf784c 39.5%,#ce8052 43.0%,#db8957 46.5%,#e9925d 50.0%,#f09660 53.5%,#f79b62 57.0%,#fc9d64 60.5%,#fe9f65 64.0%,#ffa066 67.5%,#ffa267 71.0%,#ffa468 74.4%,#ffa569 77.9%,#ffa66a 81.4%,#ffa76a 84.9%,#ffa76a 88.4%,#ffa76a 91.9%,#ffa66a 95.4%,#ffa569 98.9%)"></div><div style="top:179.42px;height:5.88px;background:linear-gradient(90deg,#21140d 1.1%,#2c1b12 4.6%,#372216 8.1%,#432a1b 11.6%,#513220 15.1%,#5e3b25 18.6%,#6d442b 22.1%,#7d4e32 25.6%,#8e5938 29.0%,#9e633f 32.5%,#ac6c45 36.0%,#bb754a 39.5%,#c97e50 43.0%,#d68655 46.5%,#e48e5b 50.0%,#eb935e 53.5%,#f29860 57.0%,#f79a62 60.5%,#fb9d64 64.0%,#fd9e65 67.5%,#ffa066 71.0%,#ffa267 74.4%,#ffa368 77.9%,#ffa569 81.4%,#ffa569 84.9%,#ffa569 88.4%,#ffa469 91.9%,#ffa368 95.4%,#ffa267 98.9%)"></div><div style="top:184.70px;height:5.88px;background:linear-gradient(90deg,#1e130c 1.1%,#281910 4.6%,#311f14 8.1%,#3c2518 11.6%,#492e1d 15.1%,#573622 18.6%,#653f28 22.1%,#764a2f 25.6%,#885536 29.0%,#995f3d 32.5%,#a86943 36.0%,#b67249 39.5%,#c57b4e 43.0%,#d18353 46.5%,#de8b58 50.0%,#e6905c 53.5%,#ed945f 57.0%,#f39861 60.5%,#f79a62 64.0%,#fa9c63 67.5%,#fd9e65 71.0%,#ffa066 74.4%,#ffa267 77.9%,#ffa368 81.4%,#ffa368 84.9%,#ffa368 88.4%,#ffa267 91.9%,#ffa066 95.4%,#fd9e65 98.9%)"></div><div style="top:189.98px;height:5.88px;background:linear-gradient(90deg,#1c110b 1.1%,#23160e 4.6%,#2b1b11 8.1%,#342115 11.6%,#42291a 15.1%,#4f311f 18.6%,#5d3a25 22.1%,#70462c 25.6%,#825134 29.0%,#945c3b 32.5%,#a36641 36.0%,#b26f47 39.5%,#c0784d 43.0%,#cd8051 46.5%,#d98756 50.0%,#e18d5a 53.5%,#e9915d 57.0%,#ee955f 60.5%,#f39861 64.0%,#f69a62 67.5%,#fa9c63 71.0%,#fd9e65 74.4%,#ffa066 77.9%,#ffa167 81.4%,#ffa267 84.9%,#ffa267 88.4%,#ffa066 91.9%,#fc9d64 95.4%,#f89b63 98.9%)"></div><div style="top:195.25px;height:5.88px;background:linear-gradient(90deg,#19100a 1.1%,#1f140c 4.6%,#25170f 8.1%,#2d1c12 11.6%,#3a2417 15.1%,#472d1c 18.6%,#563622 22.1%,#69422a 25.6%,#7c4e31 29.0%,#8f5939 32.5%,#9e633f 36.0%,#ad6c45 39.5%,#bc754b 43.0%,#c87d4f 46.5%,#d38454 50.0%,#dc8a58 53.5%,#e48e5b 57.0%,#ea925d 60.5%,#ef955f 64.0%,#f39861 67.5%,#f69a62 71.0%,#fa9c63 74.4%,#fe9e65 77.9%,#ff9f65 81.4%,#ffa066 84.9%,#ffa066 88.4%,#fc9e64 91.9%,#f79a62 95.4%,#f29760 98.9%)"></div><div style="top:200.53px;height:5.88px;background:linear-gradient(90deg,#160e09 1.1%,#1b110b 4.6%,#1f140d 8.1%,#26180f 11.6%,#332014 15.1%,#402819 18.6%,#4e311f 22.1%,#623e27 25.6%,#764a2f 29.0%,#895637 32.5%,#99603d 36.0%,#a96a43 39.5%,#b87349 43.0%,#c37a4e 46.5%,#ce8152 50.0%,#d78756 53.5%,#df8b59 57.0%,#e58f5b 60.5%,#eb935e 64.0%,#ef965f 67.5%,#f39861 71.0%,#f79a62 74.4%,#fb9d64 77.9%,#fc9e64 81.4%,#fd9e65 84.9%,#fd9e65 88.4%,#f89b63 91.9%,#f39861 95.4%,#ed945e 98.9%)"></div><div style="top:205.81px;height:5.88px;background:linear-gradient(90deg,#140c08 1.1%,#170e09 4.6%,#19100a 8.1%,#1e130c 11.6%,#2b1b11 15.1%,#382316 18.6%,#472c1c 22.1%,#5c3925 25.6%,#71462d 29.0%,#845335 32.5%,#945d3b 36.0%,#a46741 39.5%,#b37047 43.0%,#be774c 46.5%,#c97d50 50.0%,#d28354 53.5%,#da8857 57.0%,#e18d5a 60.5%,#e8915c 64.0%,#ec935e 67.5%,#f0965f 71.0%,#f49961 74.4%,#f89b63 77.9%,#f99c63 81.4%,#fa9c63 84.9%,#fa9c63 88.4%,#f59961 91.9%,#ee955f 95.4%,#e7905c 98.9%)"></div><div style="top:211.08px;height:5.88px;background:linear-gradient(90deg,#130c08 1.1%,#150d08 4.6%,#180f09 8.1%,#1c110b 11.6%,#271910 15.1%,#342115 18.6%,#432a1b 22.1%,#573623 25.6%,#6c432b 29.0%,#805033 32.5%,#915a3a 36.0%,#a16440 39.5%,#af6d46 43.0%,#ba744a 46.5%,#c47b4e 50.0%,#ce8152 53.5%,#d68655 57.0%,#dd8a58 60.5%,#e38e5a 64.0%,#e8915c 67.5%,#ec935e 71.0%,#f0965f 74.4%,#f49861 77.9%,#f59961 81.4%,#f59961 84.9%,#f59961 88.4%,#f0965f 91.9%,#e9925d 95.4%,#e38e5a 98.9%)"></div><div style="top:216.36px;height:5.88px;background:linear-gradient(90deg,#130c08 1.1%,#150d08 4.6%,#170f09 8.1%,#1b110b 11.6%,#25170f 15.1%,#311f14 18.6%,#402819 22.1%,#533421 25.6%,#684129 29.0%,#7c4d31 32.5%,#8d5838 36.0%,#9d623f 39.5%,#ab6b44 43.0%,#b67249 46.5%,#c1784d 50.0%,#ca7e51 53.5%,#d28354 57.0%,#d98856 60.5%,#df8b59 64.0%,#e38e5a 67.5%,#e7905c 71.0%,#eb935e 74.4%,#ee955f 77.9%,#ef955f 81.4%,#ef955f 84.9%,#ef955f 88.4%,#eb935d 91.9%,#e48f5b 95.4%,#de8b58 98.9%)"></div><div style="top:221.64px;height:5.88px;background:linear-gradient(90deg,#130c08 1.1%,#150d08 4.6%,#170e09 8.1%,#1a110b 11.6%,#23160e 15.1%,#2f1d13 18.6%,#3d2618 22.1%,#4f311f 25.6%,#633e28 29.0%,#784b30 32.5%,#8a5637 36.0%,#99603d 39.5%,#a86943 43.0%,#b37047 46.5%,#bd764b 50.0%,#c67c4f 53.5%,#ce8152 57.0%,#d58555 60.5%,#da8957 64.0%,#de8b59 67.5%,#e28d5a 71.0%,#e6905c 74.4%,#e9925d 77.9%,#ea925d 81.4%,#ea925d 84.9%,#ea925d 88.4%,#e58f5b 91.9%,#e08c59 95.4%,#da8857 98.9%)"></div><div style="top:226.91px;height:5.88px;background:linear-gradient(90deg,#130c08 1.1%,#150d08 4.6%,#170e09 8.1%,#1a100a 11.6%,#21150d 15.1%,#2c1c12 18.6%,#3a2417 22.1%,#4b2f1e 25.6%,#5f3b26 29.0%,#74482e 32.5%,#865435 36.0%,#965e3c 39.5%,#a46641 43.0%,#af6e46 46.5%,#b9744a 50.0%,#c37a4d 53.5%,#cb7f51 57.0%,#d18253 60.5%,#d68655 64.0%,#da8857 67.5%,#de8b58 71.0%,#e18d5a 74.4%,#e38e5b 77.9%,#e48f5b 81.4%,#e48f5b 84.9%,#e48f5b 88.4%,#e08c59 91.9%,#db8957 95.4%,#d68655 98.9%)"></div><div style="top:232.19px;height:5.88px;background:linear-gradient(90deg,#130c08 1.1%,#150d08 4.6%,#170e09 8.1%,#19100a 11.6%,#1f130c 15.1%,#2a1a11 18.6%,#372316 22.1%,#472c1c 25.6%,#5b3924 29.0%,#70462c 32.5%,#835234 36.0%,#925b3a 39.5%,#a06440 43.0%,#ac6b44 46.5%,#b67248 50.0%,#bf774c 53.5%,#c77c4f 57.0%,#cd8052 60.5%,#d18353 64.0%,#d58555 67.5%,#d98856 71.0%,#dc8a58 74.4%,#de8b58 77.9%,#de8b59 81.4%,#de8b59 84.9%,#de8b59 88.4%,#db8957 91.9%,#d68655 95.4%,#d18353 98.9%)"></div><div style="top:237.47px;height:5.88px;background:linear-gradient(90deg,#130c08 1.1%,#150d08 4.6%,#160e09 8.1%,#190f0a 11.6%,#1d120b 15.1%,#271810 18.6%,#342115 22.1%,#432a1b 25.6%,#573622 29.0%,#6b432b 32.5%,#805033 36.0%,#8f5939 39.5%,#9c613e 43.0%,#a86943 46.5%,#b26f47 50.0%,#bb754a 53.5%,#c37a4e 57.0%,#c97d50 60.5%,#cd8052 64.0%,#d18253 67.5%,#d48555 71.0%,#d88756 74.4%,#d98756 77.9%,#d98856 81.4%,#d98856 84.9%,#d98856 88.4%,#d68655 91.9%,#d18353 95.4%,#cd8052 98.9%)"></div><div style="top:242.75px;height:5.88px;background:linear-gradient(90deg,#130c08 1.1%,#150d08 4.6%,#160e09 8.1%,#180f0a 11.6%,#1b110b 15.1%,#25170f 18.6%,#321f14 22.1%,#3f2719 25.6%,#523321 29.0%,#674129 32.5%,#7c4e31 36.0%,#8b5737 39.5%,#985f3d 43.0%,#a56742 46.5%,#ae6d45 50.0%,#b77249 53.5%,#bf784c 57.0%,#c57b4e 60.5%,#c97d50 64.0%,#cc8051 67.5%,#d08253 71.0%,#d38454 74.4%,#d38454 77.9%,#d38454 81.4%,#d38454 84.9%,#d38454 88.4%,#d18253 91.9%,#cd8051 95.4%,#c97d50 98.9%)"></div><div style="top:248.02px;height:5.88px;background:linear-gradient(90deg,#130c08 1.1%,#150d08 4.6%,#160e09 8.1%,#180f09 11.6%,#19100a 15.1%,#23160e 18.6%,#2f1e13 22.1%,#3c2618 25.6%,#4f311f 29.0%,#643f28 32.5%,#7a4c30 36.0%,#895536 39.5%,#955d3b 43.0%,#a26540 46.5%,#ac6b44 50.0%,#b47148 53.5%,#bd764b 57.0%,#c2794d 60.5%,#c57b4f 64.0%,#c97d50 67.5%,#cc8051 71.0%,#cf8152 74.4%,#cf8152 77.9%,#cf8152 81.4%,#cf8152 84.9%,#cf8152 88.4%,#cd8051 91.9%,#c97e50 95.4%,#c67c4f 98.9%)"></div></div></div>
<div class="hm" style="left:572.3px;top:841.2px;width:353.4px;height:245.3px;background:linear-gradient(90deg,#69422a 0.0%,#774a2f 2.5%,#835234 5.0%,#8d5838 7.5%,#965e3c 10.0%,#9f633f 12.5%,#a86943 15.0%,#b16f46 17.5%,#b9744a 20.0%,#c1794d 22.5%,#c87d50 25.0%,#cf8152 27.5%,#d68555 30.0%,#da8857 32.5%,#df8b59 35.0%,#e48e5b 37.5%,#e9915d 40.0%,#f19660 42.5%,#f99b63 45.0%,#f99c63 47.5%,#fa9c63 50.0%,#fa9c64 52.5%,#fb9d64 55.0%,#fb9d64 57.5%,#fc9d64 60.0%,#f69a62 62.5%,#f19760 65.0%,#ee955f 67.5%,#eb935d 70.0%,#e8915c 72.5%,#e58f5b 75.0%,#e28d5a 77.5%,#e28d5a 80.0%,#e18d5a 82.5%,#e08c59 85.0%,#e08c59 87.5%,#df8b59 90.0%,#e08c59 92.5%,#e18c59 95.0%,#e28d5a 97.5%,#e28d5a 100.0%)"></div>
<div class="hm" style="left:1051.5px;top:841.2px;width:353.5px;height:245.3px;background:linear-gradient(90deg,#ffbd79 0.0%,#ffbd78 2.5%,#ffbc78 5.0%,#ffbc78 7.5%,#ffbc78 10.0%,#ffbb77 12.5%,#ffba77 15.0%,#ffb976 17.5%,#ffb775 20.0%,#ffb674 22.5%,#ffb573 25.0%,#ffb473 27.5%,#ffb372 30.0%,#ffb271 32.5%,#ffb070 35.0%,#ffad6e 37.5%,#ffab6d 40.0%,#ffa86b 42.5%,#ffa368 45.0%,#fc9e64 47.5%,#f29760 50.0%,#e48f5b 52.5%,#d78656 55.0%,#ca7e50 57.5%,#be774b 60.0%,#b26f47 62.5%,#a66842 65.0%,#9a603d 67.5%,#8f5939 70.0%,#845234 72.5%,#794b30 75.0%,#6e452c 77.5%,#633e27 80.0%,#5a3824 82.5%,#513320 85.0%,#482d1d 87.5%,#402819 90.0%,#382316 92.5%,#301e13 95.0%,#2b1b11 97.5%,#26180f 100.0%)"></div>
<div class="hm" style="left:1525.8px;top:841.3px;width:350.7px;height:245.2px;background:linear-gradient(90deg,#503220 0.0%,#583723 2.5%,#603c26 5.0%,#69412a 7.5%,#72472d 10.0%,#7b4d31 12.5%,#845234 15.0%,#8d5838 17.5%,#965e3c 20.0%,#9e633f 22.5%,#a66842 25.0%,#ae6d45 27.5%,#b67248 30.0%,#be774b 32.5%,#c67c4f 35.0%,#d08253 37.5%,#da8857 40.0%,#e58f5b 42.5%,#f59962 45.0%,#ffa167 47.5%,#ffa76b 50.0%,#ffab6d 52.5%,#ffaf6f 55.0%,#ffb372 57.5%,#ffb573 60.0%,#ffb875 62.5%,#ffba77 65.0%,#ffbd78 67.5%,#ffbe79 70.0%,#ffbf7a 72.5%,#ffc17b 75.0%,#ffc27c 77.5%,#ffc37c 80.0%,#ffc37c 82.5%,#ffc47d 85.0%,#ffc47d 87.5%,#ffc47d 90.0%,#ffc47d 92.5%,#ffc57d 95.0%,#ffc57d 97.5%,#ffc57e 100.0%)"></div>
<div class="hm" style="left:94.4px;top:1231.6px;width:352.4px;height:244.9px;background:linear-gradient(180deg,#462c1c 0.0%,#4d301e 2.5%,#533421 5.0%,#593824 7.5%,#603c26 10.0%,#684129 12.5%,#70462c 15.0%,#784b30 17.5%,#805033 20.0%,#8b5738 22.5%,#975f3c 25.0%,#a36641 27.5%,#af6e46 30.0%,#b77349 32.5%,#bf784c 35.0%,#c77d4f 37.5%,#cf8152 40.0%,#da8857 42.5%,#e48e5b 45.0%,#ee955f 47.5%,#f99b63 50.0%,#fc9d64 52.5%,#ff9f65 55.0%,#ffa469 57.5%,#ffa96c 60.0%,#ffac6d 62.5%,#ffae6f 65.0%,#ffb171 67.5%,#ffb372 70.0%,#ffb372 72.5%,#ffb372 75.0%,#ffb372 77.5%,#ffb372 80.0%,#ffb372 82.5%,#ffb372 85.0%,#ffb372 87.5%,#ffb372 90.0%,#ffb372 92.5%,#ffb372 95.0%,#ffb372 97.5%,#ffb372 100.0%)"></div>
<div class="hm" style="left:572.3px;top:1234.6px;width:353.4px;height:245.3px"><div class="hmi" style="left:-4px;top:-4px;width:361.4px;height:253.3px;filter:blur(1.5px)"><div style="top:0.00px;height:5.88px;background:linear-gradient(90deg,#000000 1.1%,#000000 4.6%,#000000 8.1%,#000000 11.6%,#040302 15.1%,#0d0805 18.6%,#160e09 22.1%,#21150d 25.6%,#2d1c12 29.0%,#372316 32.5%,#3c2618 36.0%,#41291a 39.5%,#462c1c 43.0%,#4b2f1e 46.5%,#4e311f 50.0%,#503220 53.5%,#523321 57.0%,#543522 60.5%,#563622 64.0%,#563622 67.5%,#563622 71.0%,#563622 74.4%,#563622 77.9%,#553522 81.4%,#533421 84.9%,#523320 88.4%,#503220 91.9%,#4e311f 95.4%,#4c301e 98.9%)"></div><div style="top:5.28px;height:5.88px;background:linear-gradient(90deg,#000000 1.1%,#000000 4.6%,#000000 8.1%,#000000 11.6%,#050302 15.1%,#0f0906 18.6%,#19100a 22.1%,#24170e 25.6%,#2f1d13 29.0%,#392417 32.5%,#3e2719 36.0%,#432a1b 39.5%,#482d1d 43.0%,#4d301f 46.5%,#503220 50.0%,#523321 53.5%,#543421 57.0%,#563622 60.5%,#583723 64.0%,#583723 67.5%,#583723 71.0%,#583723 74.4%,#583723 77.9%,#573622 81.4%,#553522 84.9%,#533421 88.4%,#523320 91.9%,#503220 95.4%,#4e311f 98.9%)"></div><div style="top:10.55px;height:5.88px;background:linear-gradient(90deg,#000000 1.1%,#000000 4.6%,#010100 8.1%,#010101 11.6%,#070403 15.1%,#120c07 18.6%,#1e130c 22.1%,#291a10 25.6%,#332014 29.0%,#3d2618 32.5%,#42291a 36.0%,#472c1c 39.5%,#4c2f1e 43.0%,#513320 46.5%,#543421 50.0%,#563622 53.5%,#583723 57.0%,#5a3824 60.5%,#5c3924 64.0%,#5b3924 67.5%,#5b3924 71.0%,#5b3924 74.4%,#5b3924 77.9%,#593824 81.4%,#583723 84.9%,#563622 88.4%,#543521 91.9%,#523421 95.4%,#513220 98.9%)"></div><div style="top:15.83px;height:5.88px;background:linear-gradient(90deg,#020101 1.1%,#020101 4.6%,#030201 8.1%,#050302 11.6%,#0b0705 15.1%,#170f09 18.6%,#24160e 22.1%,#301e13 25.6%,#3a2417 29.0%,#432a1b 32.5%,#492e1d 36.0%,#4f311f 39.5%,#543421 43.0%,#593723 46.5%,#5c3924 50.0%,#5e3b25 53.5%,#603c26 57.0%,#613d27 60.5%,#623d27 64.0%,#613d27 67.5%,#613c26 71.0%,#603c26 74.4%,#5f3b26 77.9%,#5d3a25 81.4%,#5b3924 84.9%,#593824 88.4%,#573723 91.9%,#563522 95.4%,#543421 98.9%)"></div><div style="top:21.11px;height:5.88px;background:linear-gradient(90deg,#030201 1.1%,#030201 4.6%,#050302 8.1%,#090604 11.6%,#100a06 15.1%,#1c120b 18.6%,#2a1a11 22.1%,#372216 25.6%,#41291a 29.0%,#4a2e1e 32.5%,#513220 36.0%,#563622 39.5%,#5b3924 43.0%,#603c26 46.5%,#633e28 50.0%,#663f28 53.5%,#684129 57.0%,#68412a 60.5%,#68412a 64.0%,#684129 67.5%,#664029 71.0%,#653f28 74.4%,#633e28 77.9%,#613d27 81.4%,#5f3b26 84.9%,#5d3a25 88.4%,#5b3924 91.9%,#593723 95.4%,#573623 98.9%)"></div><div style="top:26.39px;height:5.88px;background:linear-gradient(90deg,#040202 1.1%,#040202 4.6%,#080503 8.1%,#0d0805 11.6%,#140d08 15.1%,#21150d 18.6%,#301e13 22.1%,#3d2618 25.6%,#482d1d 29.0%,#513320 32.5%,#583723 36.0%,#5e3b25 39.5%,#633e27 43.0%,#684129 46.5%,#6b432b 50.0%,#6d442b 53.5%,#6f462c 57.0%,#70462c 60.5%,#6f452c 64.0%,#6e442c 67.5%,#6c432b 71.0%,#6a422a 74.4%,#684129 77.9%,#653f28 81.4%,#633e27 84.9%,#603c26 88.4%,#5e3b25 91.9%,#5c3925 95.4%,#5a3824 98.9%)"></div><div style="top:31.66px;height:5.88px;background:linear-gradient(90deg,#050302 1.1%,#050302 4.6%,#0a0604 8.1%,#110b07 11.6%,#19100a 15.1%,#26180f 18.6%,#352115 22.1%,#442b1b 25.6%,#4f311f 29.0%,#583723 32.5%,#5f3c26 36.0%,#653f28 39.5%,#6b432a 43.0%,#70462d 46.5%,#73482e 50.0%,#75492f 53.5%,#774a2f 57.0%,#774a2f 60.5%,#75492f 64.0%,#74482e 67.5%,#71472d 71.0%,#6f452c 74.4%,#6c442b 77.9%,#69422a 81.4%,#664029 84.9%,#643e28 88.4%,#613d27 91.9%,#5f3b26 95.4%,#5d3a25 98.9%)"></div><div style="top:36.94px;height:5.88px;background:linear-gradient(90deg,#060403 1.1%,#060403 4.6%,#0c0805 8.1%,#150d08 11.6%,#1d120c 15.1%,#2b1b11 18.6%,#3b2518 22.1%,#4b2f1e 25.6%,#563622 29.0%,#5e3b26 32.5%,#674029 36.0%,#6d442b 39.5%,#72472d 43.0%,#784b30 46.5%,#7b4d31 50.0%,#7d4e32 53.5%,#7f4f33 57.0%,#7e4f32 60.5%,#7c4d31 64.0%,#7a4c30 67.5%,#774a2f 71.0%,#74482e 74.4%,#70462d 77.9%,#6d442c 81.4%,#6a422a 84.9%,#674029 88.4%,#643f28 91.9%,#623d27 95.4%,#603c26 98.9%)"></div><div style="top:42.22px;height:5.88px;background:linear-gradient(90deg,#080503 1.1%,#0a0604 4.6%,#120b07 8.1%,#1c120b 11.6%,#26180f 15.1%,#342115 18.6%,#442b1b 22.1%,#543421 25.6%,#5f3b26 29.0%,#684129 32.5%,#70462d 36.0%,#774a2f 39.5%,#7c4e31 43.0%,#815133 46.5%,#855335 50.0%,#875436 53.5%,#885536 57.0%,#875536 60.5%,#855335 64.0%,#835234 67.5%,#7f5033 71.0%,#7c4d31 74.4%,#784b30 77.9%,#75492f 81.4%,#71472d 84.9%,#6e452c 88.4%,#6b432b 91.9%,#69422a 95.4%,#664029 98.9%)"></div><div style="top:47.49px;height:5.88px;background:linear-gradient(90deg,#090604 1.1%,#0e0906 4.6%,#180f0a 8.1%,#24160e 11.6%,#2e1d13 15.1%,#3d2618 18.6%,#4d301f 22.1%,#5c3a25 25.6%,#674129 29.0%,#71472d 32.5%,#794c30 36.0%,#805033 39.5%,#865435 43.0%,#8b5737 46.5%,#8f5939 50.0%,#915b3a 53.5%,#925b3a 57.0%,#915a3a 60.5%,#8e5939 64.0%,#8b5737 67.5%,#885536 71.0%,#845235 74.4%,#805033 77.9%,#7c4e32 81.4%,#794b30 84.9%,#75492f 88.4%,#72482e 91.9%,#70462c 95.4%,#6d442b 98.9%)"></div><div style="top:52.77px;height:5.88px;background:linear-gradient(90deg,#0a0604 1.1%,#120c07 4.6%,#1e130c 8.1%,#2b1b11 11.6%,#372216 15.1%,#462c1c 18.6%,#563622 22.1%,#653f28 25.6%,#70462d 29.0%,#7a4c31 32.5%,#835234 36.0%,#8a5637 39.5%,#905a39 43.0%,#955d3b 46.5%,#985f3d 50.0%,#9b613e 53.5%,#9b613e 57.0%,#9a603d 60.5%,#975f3c 64.0%,#945d3b 67.5%,#905a39 71.0%,#8c5838 74.4%,#885536 77.9%,#845235 81.4%,#805033 84.9%,#7d4e32 88.4%,#794c30 91.9%,#764a2f 95.4%,#74482e 98.9%)"></div><div style="top:58.05px;height:5.88px;background:linear-gradient(90deg,#0c0705 1.1%,#160e09 4.6%,#24160e 8.1%,#321f14 11.6%,#3f2819 15.1%,#4f3120 18.6%,#5f3c26 22.1%,#6d442c 25.6%,#794c30 29.0%,#835234 32.5%,#8c5738 36.0%,#945c3b 39.5%,#9a603d 43.0%,#9f633f 46.5%,#a26641 50.0%,#a56742 53.5%,#a56742 57.0%,#a36641 60.5%,#a16440 64.0%,#9d623e 67.5%,#995f3d 71.0%,#945d3b 74.4%,#905a39 77.9%,#8b5738 81.4%,#875536 84.9%,#845234 88.4%,#805033 91.9%,#7d4e32 95.4%,#7a4c31 98.9%)"></div><div style="top:63.33px;height:5.88px;background:linear-gradient(90deg,#0d0805 1.1%,#1a110b 4.6%,#2a1a11 8.1%,#392417 11.6%,#482d1d 15.1%,#583723 18.6%,#684129 22.1%,#764a2f 25.6%,#825134 29.0%,#8d5838 32.5%,#955d3b 36.0%,#9d623f 39.5%,#a46641 43.0%,#a96943 46.5%,#ac6c45 50.0%,#af6d46 53.5%,#ae6d45 57.0%,#ac6c45 60.5%,#aa6a44 64.0%,#a66742 67.5%,#a16540 71.0%,#9c623e 74.4%,#985f3c 77.9%,#935c3b 81.4%,#8f5939 84.9%,#8b5737 88.4%,#885536 91.9%,#845335 95.4%,#815133 98.9%)"></div><div style="top:68.60px;height:5.88px;background:linear-gradient(90deg,#0e0906 1.1%,#1e130c 4.6%,#301e13 8.1%,#41281a 11.6%,#513220 15.1%,#613d27 18.6%,#71472d 22.1%,#7e4f32 25.6%,#8b5737 29.0%,#965e3c 32.5%,#9f633f 36.0%,#a76842 39.5%,#ae6d45 43.0%,#b26f47 46.5%,#b67249 50.0%,#b9744a 53.5%,#b87349 57.0%,#b67248 60.5%,#b37047 64.0%,#ae6d45 67.5%,#a96a43 71.0%,#a46741 74.4%,#a0643f 77.9%,#9b613e 81.4%,#965e3c 84.9%,#925b3a 88.4%,#8f5939 91.9%,#8b5737 95.4%,#875536 98.9%)"></div><div style="top:73.88px;height:5.88px;background:linear-gradient(90deg,#100a06 1.1%,#22160e 4.6%,#352115 8.1%,#482d1d 11.6%,#593823 15.1%,#6a422a 18.6%,#7a4c31 22.1%,#875436 25.6%,#945c3b 29.0%,#9f643f 32.5%,#a86943 36.0%,#b06e46 39.5%,#b87349 43.0%,#bc764b 46.5%,#c0784d 50.0%,#c37a4e 53.5%,#c1794d 57.0%,#bf774c 60.5%,#bc764b 64.0%,#b77249 67.5%,#b26f47 71.0%,#ad6c45 74.4%,#a76943 77.9%,#a26541 81.4%,#9d623f 84.9%,#99603d 88.4%,#965d3c 91.9%,#925b3a 95.4%,#8e5939 98.9%)"></div><div style="top:79.16px;height:5.88px;background:linear-gradient(90deg,#160e09 1.1%,#2a1a11 4.6%,#3e2719 8.1%,#513320 11.6%,#623d27 15.1%,#73482e 18.6%,#835234 22.1%,#905a39 25.6%,#9c623e 29.0%,#a86943 32.5%,#b06e46 36.0%,#b97349 39.5%,#c0784c 43.0%,#c47b4e 46.5%,#c97d50 50.0%,#ca7e51 53.5%,#c87d50 57.0%,#c57b4f 60.5%,#c27a4d 64.0%,#bd764b 67.5%,#b87349 71.0%,#b37047 74.4%,#ae6d45 77.9%,#a96a43 81.4%,#a56742 84.9%,#a16540 88.4%,#9d623f 91.9%,#99603d 95.4%,#965e3c 98.9%)"></div><div style="top:84.43px;height:5.88px;background:linear-gradient(90deg,#1e130c 1.1%,#321f14 4.6%,#462c1c 8.1%,#5a3824 11.6%,#6b432b 15.1%,#7c4e31 18.6%,#8c5838 22.1%,#985f3d 25.6%,#a56741 29.0%,#b06e46 32.5%,#b87349 36.0%,#c1784d 39.5%,#c87d50 43.0%,#cc8051 46.5%,#d08253 50.0%,#d18353 53.5%,#ce8152 57.0%,#cb7f51 60.5%,#c87d50 64.0%,#c37a4e 67.5%,#be774c 71.0%,#ba744a 74.4%,#b57148 77.9%,#b16e46 81.4%,#ac6c45 84.9%,#a86943 88.4%,#a56742 91.9%,#a16540 95.4%,#9d623f 98.9%)"></div><div style="top:89.71px;height:5.88px;background:linear-gradient(90deg,#26180f 1.1%,#3a2417 4.6%,#4f311f 8.1%,#633e27 11.6%,#74492e 15.1%,#855335 18.6%,#955d3b 22.1%,#a16540 25.6%,#ad6c45 29.0%,#b87349 32.5%,#c0784d 36.0%,#c87d50 39.5%,#d08253 43.0%,#d48454 46.5%,#d88756 50.0%,#d88756 53.5%,#d48554 57.0%,#d18353 60.5%,#ce8052 64.0%,#c97d50 67.5%,#c47b4e 71.0%,#c0784d 74.4%,#bc764b 77.9%,#b87349 81.4%,#b47047 84.9%,#b06e46 88.4%,#ac6c45 91.9%,#a96943 95.4%,#a56742 98.9%)"></div><div style="top:94.99px;height:5.88px;background:linear-gradient(90deg,#2d1c12 1.1%,#432a1b 4.6%,#583723 8.1%,#6c442b 11.6%,#7d4e32 15.1%,#8f5939 18.6%,#9f633f 22.1%,#aa6a44 25.6%,#b67148 29.0%,#c0784d 32.5%,#c87d50 36.0%,#d08253 39.5%,#d78756 43.0%,#dc8957 46.5%,#e08c59 50.0%,#de8b58 53.5%,#da8857 57.0%,#d78655 60.5%,#d38454 64.0%,#ce8152 67.5%,#ca7f51 71.0%,#c77c4f 74.4%,#c37a4e 77.9%,#bf784c 81.4%,#bb754a 84.9%,#b87349 88.4%,#b47148 91.9%,#b06e46 95.4%,#ad6c45 98.9%)"></div><div style="top:100.26px;height:5.88px;background:linear-gradient(90deg,#352115 1.1%,#4b2f1e 4.6%,#613c26 8.1%,#75492f 11.6%,#875436 15.1%,#985f3c 18.6%,#a86943 22.1%,#b37047 25.6%,#be774c 29.0%,#c87d50 32.5%,#d08253 36.0%,#d88756 39.5%,#df8b59 43.0%,#e38e5b 46.5%,#e8915c 50.0%,#e58f5b 53.5%,#e08c59 57.0%,#dc8a58 60.5%,#d98756 64.0%,#d48554 67.5%,#d08253 71.0%,#cd8052 74.4%,#ca7e50 77.9%,#c77c4f 81.4%,#c37a4d 84.9%,#bf774c 88.4%,#bc754b 91.9%,#b87349 95.4%,#b57148 98.9%)"></div><div style="top:105.54px;height:5.88px;background:linear-gradient(90deg,#3d2618 1.1%,#533421 4.6%,#69422a 8.1%,#7f4f32 11.6%,#905a39 15.1%,#a16540 18.6%,#b16e46 22.1%,#bc754b 25.6%,#c67c4f 29.0%,#d18253 32.5%,#d88756 36.0%,#e08c59 39.5%,#e7905c 43.0%,#eb935e 46.5%,#ef965f 50.0%,#eb935e 53.5%,#e6905c 57.0%,#e28d5a 60.5%,#de8b58 64.0%,#da8857 67.5%,#d78655 71.0%,#d48454 74.4%,#d18353 77.9%,#ce8152 81.4%,#ca7e50 84.9%,#c77c4f 88.4%,#c37a4e 91.9%,#c0784c 95.4%,#bc764b 98.9%)"></div><div style="top:110.82px;height:5.88px;background:linear-gradient(90deg,#452b1b 1.1%,#5b3924 4.6%,#72472d 8.1%,#885536 11.6%,#99603d 15.1%,#aa6a44 18.6%,#ba744a 22.1%,#c47b4e 25.6%,#cf8152 29.0%,#d98856 32.5%,#e08c59 36.0%,#e8915c 39.5%,#ef955f 43.0%,#f39861 46.5%,#f79b62 50.0%,#f29760 53.5%,#ec945e 57.0%,#e8915c 60.5%,#e48e5b 64.0%,#df8c59 67.5%,#dd8a58 71.0%,#da8857 74.4%,#d88756 77.9%,#d58555 81.4%,#d28353 84.9%,#ce8152 88.4%,#cb7f51 91.9%,#c87d4f 95.4%,#c47b4e 98.9%)"></div><div style="top:116.10px;height:5.88px;background:linear-gradient(90deg,#4e311f 1.1%,#643e28 4.6%,#7a4c31 8.1%,#8f5a39 11.6%,#a06440 15.1%,#b06e46 18.6%,#c0784c 22.1%,#ca7e50 25.6%,#d48554 29.0%,#de8b58 32.5%,#e58f5b 36.0%,#ec945e 39.5%,#f29860 43.0%,#f79a62 46.5%,#fb9d64 50.0%,#f79a62 53.5%,#f29760 57.0%,#ee945f 60.5%,#ea925d 64.0%,#e6905b 67.5%,#e38e5a 71.0%,#e18c59 74.4%,#de8b58 77.9%,#db8957 81.4%,#d98756 84.9%,#d68655 88.4%,#d38454 91.9%,#d08253 95.4%,#cd8052 98.9%)"></div><div style="top:121.37px;height:5.88px;background:linear-gradient(90deg,#573623 1.1%,#6c442b 4.6%,#825134 8.1%,#975e3c 11.6%,#a66842 15.1%,#b67248 18.6%,#c57b4e 22.1%,#cf8152 25.6%,#d98856 29.0%,#e28e5a 32.5%,#e9925d 36.0%,#ef965f 39.5%,#f59962 43.0%,#fa9c63 46.5%,#fe9f65 50.0%,#fb9d64 53.5%,#f79a62 57.0%,#f39861 60.5%,#f0965f 64.0%,#ed945e 67.5%,#ea925d 71.0%,#e7905c 74.4%,#e48e5b 77.9%,#e28d5a 81.4%,#df8c59 84.9%,#dd8a58 88.4%,#db8957 91.9%,#d98756 95.4%,#d68655 98.9%)"></div><div style="top:126.65px;height:5.88px;background:linear-gradient(90deg,#603c26 1.1%,#75492f 4.6%,#8a5637 8.1%,#9e633f 11.6%,#ad6c45 15.1%,#bc754b 18.6%,#ca7e50 22.1%,#d48454 25.6%,#de8b58 29.0%,#e7905c 32.5%,#ed945e 36.0%,#f39861 39.5%,#f89b63 43.0%,#fc9e64 46.5%,#ffa066 50.0%,#ffa066 53.5%,#fc9d64 57.0%,#f99c63 60.5%,#f69a62 64.0%,#f39861 67.5%,#f09660 71.0%,#ed945e 74.4%,#ea925d 77.9%,#e8915c 81.4%,#e6905c 84.9%,#e48f5b 88.4%,#e38e5a 91.9%,#e18d5a 95.4%,#df8c59 98.9%)"></div><div style="top:131.93px;height:5.88px;background:linear-gradient(90deg,#69422a 1.1%,#7e4e32 4.6%,#925b3a 8.1%,#a56742 11.6%,#b37047 15.1%,#c2794d 18.6%,#cf8152 22.1%,#d98756 25.6%,#e28e5a 29.0%,#eb935e 32.5%,#f19660 36.0%,#f69a62 39.5%,#fb9d64 43.0%,#ffa066 46.5%,#ffa267 50.0%,#ffa267 53.5%,#ffa166 57.0%,#ff9f65 60.5%,#fc9e64 64.0%,#fa9c64 67.5%,#f79a62 71.0%,#f39861 74.4%,#f0965f 77.9%,#ee955f 81.4%,#ed945e 84.9%,#ec935e 88.4%,#eb935d 91.9%,#ea925d 95.4%,#e9915d 98.9%)"></div><div style="top:137.20px;height:5.88px;background:linear-gradient(90deg,#72472d 1.1%,#865435 4.6%,#9a603d 8.1%,#ac6c45 11.6%,#ba744a 15.1%,#c77d4f 18.6%,#d48454 22.1%,#de8a58 25.6%,#e7905c 29.0%,#f0965f 32.5%,#f59961 36.0%,#f99c63 39.5%,#fe9f65 43.0%,#ffa167 46.5%,#ffa468 50.0%,#ffa569 53.5%,#ffa468 57.0%,#ffa368 60.5%,#ffa267 64.0%,#ffa066 67.5%,#fd9e65 71.0%,#f99c63 74.4%,#f59962 77.9%,#f49861 81.4%,#f49861 84.9%,#f39861 88.4%,#f39861 91.9%,#f29760 95.4%,#f29760 98.9%)"></div><div style="top:142.48px;height:5.88px;background:linear-gradient(90deg,#7a4c31 1.1%,#8d5838 4.6%,#a06440 8.1%,#b27047 11.6%,#bf784c 15.1%,#cc8051 18.6%,#d88756 22.1%,#e28d5a 25.6%,#eb935e 29.0%,#f49861 32.5%,#f89b63 36.0%,#fc9e64 39.5%,#ffa066 43.0%,#ffa368 46.5%,#ffa66a 50.0%,#ffa86b 53.5%,#ffa76a 57.0%,#ffa66a 60.5%,#ffa569 64.0%,#ffa469 67.5%,#ffa267 71.0%,#ffa066 74.4%,#fb9d64 77.9%,#fa9c63 81.4%,#fa9c63 84.9%,#fa9c63 88.4%,#fa9c63 91.9%,#fa9c63 95.4%,#fa9c63 98.9%)"></div><div style="top:147.76px;height:5.88px;background:linear-gradient(90deg,#7d4e32 1.1%,#905a39 4.6%,#a36641 8.1%,#b57148 11.6%,#c2794d 15.1%,#cf8152 18.6%,#db8957 22.1%,#e48e5b 25.6%,#ed945e 29.0%,#f69962 32.5%,#fa9c64 36.0%,#ff9f65 39.5%,#ffa267 43.0%,#ffa569 46.5%,#ffa76b 50.0%,#ffa96c 53.5%,#ffa96b 57.0%,#ffa86b 60.5%,#ffa76a 64.0%,#ffa66a 67.5%,#ffa569 71.0%,#ffa267 74.4%,#ffa066 77.9%,#ffa066 81.4%,#ffa066 84.9%,#ffa066 88.4%,#ffa066 91.9%,#ffa066 95.4%,#ffa066 98.9%)"></div><div style="top:153.04px;height:5.88px;background:linear-gradient(90deg,#805033 1.1%,#935c3a 4.6%,#a66742 8.1%,#b77249 11.6%,#c47a4e 15.1%,#d18253 18.6%,#dd8a58 22.1%,#e6905c 25.6%,#ef955f 29.0%,#f79b62 32.5%,#fc9e64 36.0%,#ffa166 39.5%,#ffa468 43.0%,#ffa66a 46.5%,#ffa96c 50.0%,#ffab6d 53.5%,#ffaa6d 57.0%,#ffaa6c 60.5%,#ffa96c 64.0%,#ffa96b 67.5%,#ffa76a 71.0%,#ffa569 74.4%,#ffa468 77.9%,#ffa368 81.4%,#ffa368 84.9%,#ffa368 88.4%,#ffa368 91.9%,#ffa368 95.4%,#ffa368 98.9%)"></div><div style="top:158.31px;height:5.88px;background:linear-gradient(90deg,#845234 1.1%,#965e3c 4.6%,#a86943 8.1%,#b9744a 11.6%,#c67c4f 15.1%,#d38454 18.6%,#df8b59 22.1%,#e8915c 25.6%,#f19760 29.0%,#f99c63 32.5%,#ff9f65 36.0%,#ffa267 39.5%,#ffa669 43.0%,#ffa86b 46.5%,#ffab6d 50.0%,#ffad6e 53.5%,#ffac6e 57.0%,#ffac6d 60.5%,#ffab6d 64.0%,#ffab6d 67.5%,#ffaa6c 71.0%,#ffa86b 74.4%,#ffa76a 77.9%,#ffa76a 81.4%,#ffa76a 84.9%,#ffa76a 88.4%,#ffa76a 91.9%,#ffa76a 95.4%,#ffa76a 98.9%)"></div><div style="top:163.59px;height:5.88px;background:linear-gradient(90deg,#875436 1.1%,#995f3d 4.6%,#ab6b44 8.1%,#bc754b 11.6%,#c87d50 15.1%,#d58555 18.6%,#e18d5a 22.1%,#ea925d 25.6%,#f39861 29.0%,#fb9d64 32.5%,#ffa066 36.0%,#ffa468 39.5%,#ffa76b 43.0%,#ffaa6c 46.5%,#ffad6e 50.0%,#ffaf6f 53.5%,#ffae6f 57.0%,#ffae6f 60.5%,#ffae6e 64.0%,#ffad6e 67.5%,#ffac6e 71.0%,#ffab6d 74.4%,#ffaa6c 77.9%,#ffaa6c 81.4%,#ffaa6c 84.9%,#ffaa6c 88.4%,#ffaa6c 91.9%,#ffaa6c 95.4%,#ffaa6c 98.9%)"></div><div style="top:168.87px;height:5.88px;background:linear-gradient(90deg,#8a5637 1.1%,#9c613e 4.6%,#ad6c45 8.1%,#be774c 11.6%,#cb7f51 15.1%,#d88756 18.6%,#e48e5b 22.1%,#ec945e 25.6%,#f59961 29.0%,#fd9e65 32.5%,#ffa267 36.0%,#ffa669 39.5%,#ffa96c 43.0%,#ffac6d 46.5%,#ffae6f 50.0%,#ffb070 53.5%,#ffb070 57.0%,#ffb070 60.5%,#ffb070 64.0%,#ffaf70 67.5%,#ffaf6f 71.0%,#ffae6f 74.4%,#ffae6f 77.9%,#ffad6e 81.4%,#ffad6e 84.9%,#ffad6e 88.4%,#ffad6e 91.9%,#ffad6e 95.4%,#ffad6e 98.9%)"></div><div style="top:174.14px;height:5.88px;background:linear-gradient(90deg,#8d5838 1.1%,#9e633f 4.6%,#b06e46 8.1%,#c0784c 11.6%,#cd8052 15.1%,#da8857 18.6%,#e6905b 22.1%,#ee955f 25.6%,#f79a62 29.0%,#ff9f65 32.5%,#ffa368 36.0%,#ffa76a 39.5%,#ffab6d 43.0%,#ffad6e 46.5%,#ffb070 50.0%,#ffb271 53.5%,#ffb271 57.0%,#ffb271 60.5%,#ffb271 64.0%,#ffb271 67.5%,#ffb171 71.0%,#ffb171 74.4%,#ffb171 77.9%,#ffb171 81.4%,#ffb171 84.9%,#ffb171 88.4%,#ffb171 91.9%,#ffb171 95.4%,#ffb171 98.9%)"></div><div style="top:179.42px;height:5.88px;background:linear-gradient(90deg,#905a39 1.1%,#a16440 4.6%,#b26f47 8.1%,#c2794d 11.6%,#cf8152 15.1%,#db8957 18.6%,#e7915c 22.1%,#f0965f 25.6%,#f89b63 29.0%,#ffa066 32.5%,#ffa469 36.0%,#ffa86b 39.5%,#ffac6e 43.0%,#ffaf6f 46.5%,#ffb171 50.0%,#ffb372 53.5%,#ffb372 57.0%,#ffb372 60.5%,#ffb372 64.0%,#ffb372 67.5%,#ffb372 71.0%,#ffb372 74.4%,#ffb372 77.9%,#ffb372 81.4%,#ffb372 84.9%,#ffb372 88.4%,#ffb372 91.9%,#ffb372 95.4%,#ffb372 98.9%)"></div><div style="top:184.70px;height:5.88px;background:linear-gradient(90deg,#905a39 1.1%,#a16440 4.6%,#b16f47 8.1%,#c1794d 11.6%,#ce8152 15.1%,#db8957 18.6%,#e7905c 22.1%,#f0965f 25.6%,#f89b63 29.0%,#ffa066 32.5%,#ffa569 36.0%,#ffa96c 39.5%,#ffad6e 43.0%,#ffaf70 46.5%,#ffb271 50.0%,#ffb473 53.5%,#ffb473 57.0%,#ffb473 60.5%,#ffb473 64.0%,#ffb473 67.5%,#ffb473 71.0%,#ffb473 74.4%,#ffb473 77.9%,#ffb473 81.4%,#ffb473 84.9%,#ffb473 88.4%,#ffb473 91.9%,#ffb473 95.4%,#ffb473 98.9%)"></div><div style="top:189.98px;height:5.88px;background:linear-gradient(90deg,#915a3a 1.1%,#a16540 4.6%,#b16f46 8.1%,#c1784d 11.6%,#ce8052 15.1%,#da8957 18.6%,#e6905c 22.1%,#ef965f 25.6%,#f89b63 29.0%,#ffa066 32.5%,#ffa569 36.0%,#ffa96c 39.5%,#ffad6e 43.0%,#ffb070 46.5%,#ffb272 50.0%,#ffb473 53.5%,#ffb473 57.0%,#ffb473 60.5%,#ffb473 64.0%,#ffb473 67.5%,#ffb473 71.0%,#ffb473 74.4%,#ffb473 77.9%,#ffb473 81.4%,#ffb473 84.9%,#ffb473 88.4%,#ffb473 91.9%,#ffb473 95.4%,#ffb473 98.9%)"></div><div style="top:195.25px;height:5.88px;background:linear-gradient(90deg,#915b3a 1.1%,#a16540 4.6%,#b16f46 8.1%,#c0784d 11.6%,#cd8052 15.1%,#da8857 18.6%,#e6905c 22.1%,#ef955f 25.6%,#f89b63 29.0%,#ffa066 32.5%,#ffa569 36.0%,#ffaa6c 39.5%,#ffae6f 43.0%,#ffb070 46.5%,#ffb372 50.0%,#ffb573 53.5%,#ffb573 57.0%,#ffb573 60.5%,#ffb573 64.0%,#ffb573 67.5%,#ffb573 71.0%,#ffb573 74.4%,#ffb573 77.9%,#ffb573 81.4%,#ffb573 84.9%,#ffb573 88.4%,#ffb573 91.9%,#ffb573 95.4%,#ffb573 98.9%)"></div><div style="top:200.53px;height:5.88px;background:linear-gradient(90deg,#925b3a 1.1%,#a16540 4.6%,#b16e46 8.1%,#c0784c 11.6%,#cd8051 15.1%,#da8857 18.6%,#e68f5b 22.1%,#ef955f 25.6%,#f89b63 29.0%,#ffa066 32.5%,#ffa569 36.0%,#ffaa6c 39.5%,#ffaf6f 43.0%,#ffb171 46.5%,#ffb372 50.0%,#ffb573 53.5%,#ffb573 57.0%,#ffb573 60.5%,#ffb573 64.0%,#ffb573 67.5%,#ffb573 71.0%,#ffb573 74.4%,#ffb573 77.9%,#ffb573 81.4%,#ffb573 84.9%,#ffb573 88.4%,#ffb573 91.9%,#ffb573 95.4%,#ffb573 98.9%)"></div><div style="top:205.81px;height:5.88px;background:linear-gradient(90deg,#925b3a 1.1%,#a16540 4.6%,#b06e46 8.1%,#bf784c 11.6%,#cc8051 15.1%,#d98856 18.6%,#e58f5b 22.1%,#ee955f 25.6%,#f89b63 29.0%,#ffa066 32.5%,#ffa669 36.0%,#ffab6d 39.5%,#ffaf70 43.0%,#ffb171 46.5%,#ffb473 50.0%,#ffb674 53.5%,#ffb674 57.0%,#ffb674 60.5%,#ffb674 64.0%,#ffb674 67.5%,#ffb674 71.0%,#ffb674 74.4%,#ffb674 77.9%,#ffb674 81.4%,#ffb674 84.9%,#ffb674 88.4%,#ffb674 91.9%,#ffb674 95.4%,#ffb674 98.9%)"></div><div style="top:211.08px;height:5.88px;background:linear-gradient(90deg,#935c3a 1.1%,#a16540 4.6%,#b06e46 8.1%,#bf774c 11.6%,#cc7f51 15.1%,#d98756 18.6%,#e58f5b 22.1%,#ee955f 25.6%,#f89b63 29.0%,#ffa066 32.5%,#ffa66a 36.0%,#ffab6d 39.5%,#ffb070 43.0%,#ffb271 46.5%,#ffb473 50.0%,#ffb674 53.5%,#ffb674 57.0%,#ffb674 60.5%,#ffb674 64.0%,#ffb674 67.5%,#ffb674 71.0%,#ffb674 74.4%,#ffb674 77.9%,#ffb674 81.4%,#ffb674 84.9%,#ffb674 88.4%,#ffb674 91.9%,#ffb674 95.4%,#ffb674 98.9%)"></div><div style="top:216.36px;height:5.88px;background:linear-gradient(90deg,#935c3b 1.1%,#a26540 4.6%,#b06e46 8.1%,#be774c 11.6%,#cb7f51 15.1%,#d88756 18.6%,#e48f5b 22.1%,#ee955f 25.6%,#f79b62 29.0%,#ffa166 32.5%,#ffa66a 36.0%,#ffac6d 39.5%,#ffb070 43.0%,#ffb372 46.5%,#ffb573 50.0%,#ffb774 53.5%,#ffb774 57.0%,#ffb774 60.5%,#ffb774 64.0%,#ffb774 67.5%,#ffb774 71.0%,#ffb774 74.4%,#ffb774 77.9%,#ffb774 81.4%,#ffb774 84.9%,#ffb774 88.4%,#ffb774 91.9%,#ffb774 95.4%,#ffb774 98.9%)"></div><div style="top:221.64px;height:5.88px;background:linear-gradient(90deg,#935c3b 1.1%,#a26540 4.6%,#b06e46 8.1%,#be774c 11.6%,#cb7f51 15.1%,#d88756 18.6%,#e48e5b 22.1%,#ed945f 25.6%,#f79b62 29.0%,#ffa166 32.5%,#ffa66a 36.0%,#ffac6e 39.5%,#ffb171 43.0%,#ffb372 46.5%,#ffb573 50.0%,#ffb775 53.5%,#ffb775 57.0%,#ffb775 60.5%,#ffb775 64.0%,#ffb775 67.5%,#ffb775 71.0%,#ffb775 74.4%,#ffb775 77.9%,#ffb775 81.4%,#ffb775 84.9%,#ffb775 88.4%,#ffb775 91.9%,#ffb775 95.4%,#ffb775 98.9%)"></div><div style="top:226.91px;height:5.88px;background:linear-gradient(90deg,#945c3b 1.1%,#a26540 4.6%,#b06e46 8.1%,#bd764b 11.6%,#ca7e50 15.1%,#d78656 18.6%,#e38e5a 22.1%,#ed945e 25.6%,#f79a62 29.0%,#ffa166 32.5%,#ffa76a 36.0%,#ffac6e 39.5%,#ffb271 43.0%,#ffb472 46.5%,#ffb674 50.0%,#ffb875 53.5%,#ffb875 57.0%,#ffb875 60.5%,#ffb875 64.0%,#ffb875 67.5%,#ffb875 71.0%,#ffb875 74.4%,#ffb875 77.9%,#ffb875 81.4%,#ffb875 84.9%,#ffb875 88.4%,#ffb875 91.9%,#ffb875 95.4%,#ffb875 98.9%)"></div><div style="top:232.19px;height:5.88px;background:linear-gradient(90deg,#945d3b 1.1%,#a26540 4.6%,#af6e46 8.1%,#bd764b 11.6%,#ca7e50 15.1%,#d78655 18.6%,#e38e5a 22.1%,#ed945e 25.6%,#f79a62 29.0%,#ffa166 32.5%,#ffa76a 36.0%,#ffad6e 39.5%,#ffb271 43.0%,#ffb473 46.5%,#ffb674 50.0%,#ffb875 53.5%,#ffb875 57.0%,#ffb875 60.5%,#ffb875 64.0%,#ffb875 67.5%,#ffb875 71.0%,#ffb875 74.4%,#ffb875 77.9%,#ffb875 81.4%,#ffb875 84.9%,#ffb875 88.4%,#ffb875 91.9%,#ffb875 95.4%,#ffb875 98.9%)"></div><div style="top:237.47px;height:5.88px;background:linear-gradient(90deg,#955d3b 1.1%,#a26541 4.6%,#af6e46 8.1%,#bc764b 11.6%,#c97e50 15.1%,#d68655 18.6%,#e28d5a 22.1%,#ed945e 25.6%,#f79a62 29.0%,#ffa166 32.5%,#ffa76a 36.0%,#ffad6e 39.5%,#ffb372 43.0%,#ffb573 46.5%,#ffb774 50.0%,#ffb875 53.5%,#ffb875 57.0%,#ffb875 60.5%,#ffb875 64.0%,#ffb875 67.5%,#ffb875 71.0%,#ffb875 74.4%,#ffb875 77.9%,#ffb875 81.4%,#ffb875 84.9%,#ffb875 88.4%,#ffb875 91.9%,#ffb875 95.4%,#ffb875 98.9%)"></div><div style="top:242.75px;height:5.88px;background:linear-gradient(90deg,#955d3b 1.1%,#a26541 4.6%,#af6d46 8.1%,#bc754b 11.6%,#c97d50 15.1%,#d68555 18.6%,#e28d5a 22.1%,#ec945e 25.6%,#f79a62 29.0%,#ffa166 32.5%,#ffa76b 36.0%,#ffae6f 39.5%,#ffb372 43.0%,#ffb573 46.5%,#ffb775 50.0%,#ffb976 53.5%,#ffb976 57.0%,#ffb976 60.5%,#ffb976 64.0%,#ffb976 67.5%,#ffb976 71.0%,#ffb976 74.4%,#ffb976 77.9%,#ffb976 81.4%,#ffb976 84.9%,#ffb976 88.4%,#ffb976 91.9%,#ffb976 95.4%,#ffb976 98.9%)"></div><div style="top:248.02px;height:5.88px;background:linear-gradient(90deg,#965e3c 1.1%,#a26541 4.6%,#af6d46 8.1%,#bb754b 11.6%,#c87d50 15.1%,#d58555 18.6%,#e28d5a 22.1%,#ec945e 25.6%,#f79a62 29.0%,#ffa166 32.5%,#ffa76b 36.0%,#ffae6f 39.5%,#ffb472 43.0%,#ffb674 46.5%,#ffb875 50.0%,#ffb976 53.5%,#ffb976 57.0%,#ffb976 60.5%,#ffb976 64.0%,#ffb976 67.5%,#ffb976 71.0%,#ffb976 74.4%,#ffb976 77.9%,#ffb976 81.4%,#ffb976 84.9%,#ffb976 88.4%,#ffb976 91.9%,#ffb976 95.4%,#ffb976 98.9%)"></div></div></div>
<div class="hm" style="left:1051.5px;top:1232.0px;width:353.5px;height:247.9px"><div class="hmi" style="left:-4px;top:-4px;width:361.5px;height:255.9px;filter:blur(1.5px)"><div style="top:0.00px;height:5.93px;background:linear-gradient(90deg,#8f5a39 1.1%,#8e5838 4.6%,#8c5738 8.1%,#8a5637 11.6%,#885536 15.1%,#865435 18.6%,#845335 22.1%,#825134 25.6%,#805033 29.0%,#7c4e31 32.5%,#774a2f 36.0%,#72472d 39.5%,#6c442b 43.0%,#643f28 46.5%,#583723 50.0%,#4b2f1e 53.5%,#3e2719 57.0%,#311f14 60.5%,#281910 64.0%,#070403 67.5%,#000000 71.0%,#000000 74.4%,#000000 77.9%,#000000 81.4%,#000000 84.9%,#000000 88.4%,#000000 91.9%,#000000 95.4%,#000000 98.9%)"></div><div style="top:5.33px;height:5.93px;background:linear-gradient(90deg,#935c3a 1.1%,#915b3a 4.6%,#8f5939 8.1%,#8d5838 11.6%,#8b5737 15.1%,#895637 18.6%,#875536 22.1%,#865335 25.6%,#845234 29.0%,#7f5033 32.5%,#7a4c30 36.0%,#74492e 39.5%,#6e452c 43.0%,#664029 46.5%,#593823 50.0%,#4c301e 53.5%,#3f2819 57.0%,#321f14 60.5%,#281910 64.0%,#160e09 67.5%,#000000 71.0%,#000000 74.4%,#000000 77.9%,#000000 81.4%,#000000 84.9%,#000000 88.4%,#000000 91.9%,#000000 95.4%,#000000 98.9%)"></div><div style="top:10.66px;height:5.93px;background:linear-gradient(90deg,#975f3c 1.1%,#965d3c 4.6%,#945c3b 8.1%,#925b3a 11.6%,#905a39 15.1%,#8e5938 18.6%,#8c5838 22.1%,#8a5637 25.6%,#885536 29.0%,#845234 32.5%,#7d4e32 36.0%,#774b2f 39.5%,#71472d 43.0%,#684129 46.5%,#5b3924 50.0%,#4e311f 53.5%,#40281a 57.0%,#332014 60.5%,#291a10 64.0%,#21150d 67.5%,#000000 71.0%,#000000 74.4%,#000000 77.9%,#000000 81.4%,#000000 84.9%,#000000 88.4%,#000000 91.9%,#000000 95.4%,#000000 98.9%)"></div><div style="top:15.99px;height:5.93px;background:linear-gradient(90deg,#9c613e 1.1%,#9a603d 4.6%,#985f3d 8.1%,#965e3c 11.6%,#945d3b 15.1%,#935c3a 18.6%,#915a3a 22.1%,#8f5939 25.6%,#8d5838 29.0%,#885536 32.5%,#815133 36.0%,#7a4c31 39.5%,#74482e 43.0%,#6a422a 46.5%,#5d3a25 50.0%,#4f3220 53.5%,#42291a 57.0%,#342115 60.5%,#2a1a11 64.0%,#22150e 67.5%,#140d08 71.0%,#000000 74.4%,#000000 77.9%,#000000 81.4%,#000000 84.9%,#000000 88.4%,#000000 91.9%,#000000 95.4%,#000000 98.9%)"></div><div style="top:21.33px;height:5.93px;background:linear-gradient(90deg,#a16440 1.1%,#9f633f 4.6%,#9d623e 8.1%,#9b613e 11.6%,#99603d 15.1%,#975e3c 18.6%,#955d3b 22.1%,#935c3b 25.6%,#915b3a 29.0%,#8c5838 32.5%,#855335 36.0%,#7e4e32 39.5%,#764a2f 43.0%,#6c442b 46.5%,#5f3b26 50.0%,#513220 53.5%,#432a1b 57.0%,#352115 60.5%,#2b1b11 64.0%,#23160e 67.5%,#1f130c 71.0%,#000000 74.4%,#000000 77.9%,#000000 81.4%,#000000 84.9%,#000000 88.4%,#000000 91.9%,#000000 95.4%,#000000 98.9%)"></div><div style="top:26.66px;height:5.93px;background:linear-gradient(90deg,#a56742 1.1%,#a36641 4.6%,#a16540 8.1%,#9f643f 11.6%,#9e623f 15.1%,#9c613e 18.6%,#9a603d 22.1%,#985f3c 25.6%,#965e3c 29.0%,#905a39 32.5%,#895536 36.0%,#815033 39.5%,#794b30 43.0%,#6e452c 46.5%,#603c26 50.0%,#523321 53.5%,#442b1b 57.0%,#362216 60.5%,#2c1b11 64.0%,#23160e 67.5%,#20140d 71.0%,#130c08 74.4%,#000000 77.9%,#000000 81.4%,#000000 84.9%,#000000 88.4%,#000000 91.9%,#000000 95.4%,#000000 98.9%)"></div><div style="top:31.99px;height:5.93px;background:linear-gradient(90deg,#aa6a44 1.1%,#a86943 4.6%,#a66842 8.1%,#a46741 11.6%,#a26541 15.1%,#a06440 18.6%,#9e633f 22.1%,#9c623e 25.6%,#9b613e 29.0%,#955d3b 32.5%,#8c5838 36.0%,#845234 39.5%,#7b4d31 43.0%,#71462d 46.5%,#623d27 50.0%,#543421 53.5%,#452b1c 57.0%,#372216 60.5%,#2d1c12 64.0%,#24170e 67.5%,#20140d 71.0%,#1d120c 74.4%,#000000 77.9%,#000000 81.4%,#000000 84.9%,#000000 88.4%,#000000 91.9%,#000000 95.4%,#000000 98.9%)"></div><div style="top:37.32px;height:5.93px;background:linear-gradient(90deg,#ae6d45 1.1%,#ac6c45 4.6%,#aa6b44 8.1%,#a96943 11.6%,#a76842 15.1%,#a56742 18.6%,#a36641 22.1%,#a16540 25.6%,#9f633f 29.0%,#99603d 32.5%,#905a39 36.0%,#875436 39.5%,#7e4f32 43.0%,#73482e 46.5%,#643e28 50.0%,#553522 53.5%,#472c1c 57.0%,#382316 60.5%,#2d1c12 64.0%,#25170f 67.5%,#20140d 71.0%,#1f130c 74.4%,#110b07 77.9%,#000000 81.4%,#000000 84.9%,#000000 88.4%,#000000 91.9%,#000000 95.4%,#000000 98.9%)"></div><div style="top:42.65px;height:5.93px;background:linear-gradient(90deg,#b57148 1.1%,#b37047 4.6%,#b16f47 8.1%,#b06e46 11.6%,#ae6d45 15.1%,#ac6c45 18.6%,#ab6b44 22.1%,#a96a43 25.6%,#a76843 29.0%,#a16540 32.5%,#975f3c 36.0%,#8e5939 39.5%,#855335 43.0%,#794c30 46.5%,#6a422a 50.0%,#5a3924 53.5%,#4b2f1e 57.0%,#3c2518 60.5%,#301e13 64.0%,#271810 67.5%,#21150d 71.0%,#20140d 74.4%,#1c120b 77.9%,#000000 81.4%,#000000 84.9%,#000000 88.4%,#000000 91.9%,#000000 95.4%,#000000 98.9%)"></div><div style="top:47.98px;height:5.93px;background:linear-gradient(90deg,#bb754b 1.1%,#ba744a 4.6%,#b97349 8.1%,#b77349 11.6%,#b67248 15.1%,#b47148 18.6%,#b37047 22.1%,#b26f47 25.6%,#b06e46 29.0%,#aa6a44 32.5%,#a06440 36.0%,#965e3c 39.5%,#8d5838 43.0%,#815033 46.5%,#71462d 50.0%,#613c26 53.5%,#503220 57.0%,#40281a 60.5%,#342015 64.0%,#2a1a11 67.5%,#23160e 71.0%,#21150d 74.4%,#1f130c 77.9%,#100a06 81.4%,#000000 84.9%,#000000 88.4%,#000000 91.9%,#000000 95.4%,#000000 98.9%)"></div><div style="top:53.31px;height:5.93px;background:linear-gradient(90deg,#c2794d 1.1%,#c1794d 4.6%,#c0784c 8.1%,#bf774c 11.6%,#be774c 15.1%,#bd764b 18.6%,#bb754b 22.1%,#ba744a 25.6%,#b9744a 29.0%,#b37047 32.5%,#a96943 36.0%,#9f633f 39.5%,#955d3b 43.0%,#885536 46.5%,#774b30 50.0%,#674029 53.5%,#563622 57.0%,#452b1b 60.5%,#372316 64.0%,#2d1c12 67.5%,#25170f 71.0%,#22160e 74.4%,#20140d 77.9%,#1b110b 81.4%,#000000 84.9%,#000000 88.4%,#000000 91.9%,#000000 95.4%,#000000 98.9%)"></div><div style="top:58.64px;height:5.93px;background:linear-gradient(90deg,#c97e50 1.1%,#c87d50 4.6%,#c77d4f 8.1%,#c77c4f 11.6%,#c67c4f 15.1%,#c57b4e 18.6%,#c47a4e 22.1%,#c37a4e 25.6%,#c2794d 29.0%,#bc754b 32.5%,#b16f47 36.0%,#a76842 39.5%,#9d623e 43.0%,#905a39 46.5%,#7e4f32 50.0%,#6d442b 53.5%,#5b3924 57.0%,#492e1d 60.5%,#3b2518 64.0%,#2f1e13 67.5%,#271810 71.0%,#24160e 74.4%,#20140d 77.9%,#1e130c 81.4%,#0e0906 84.9%,#000000 88.4%,#000000 91.9%,#000000 95.4%,#000000 98.9%)"></div><div style="top:63.98px;height:5.93px;background:linear-gradient(90deg,#d08253 1.1%,#cf8253 4.6%,#cf8152 8.1%,#ce8152 11.6%,#ce8152 15.1%,#cd8052 18.6%,#cc8051 22.1%,#cc7f51 25.6%,#cb7f51 29.0%,#c57b4e 32.5%,#ba744a 36.0%,#af6e46 39.5%,#a56742 43.0%,#975e3c 46.5%,#855335 50.0%,#73482e 53.5%,#613c26 57.0%,#4e301f 60.5%,#3f2719 64.0%,#321f14 67.5%,#291a10 71.0%,#25170f 74.4%,#21150d 77.9%,#1f130c 81.4%,#1a100a 84.9%,#000000 88.4%,#000000 91.9%,#000000 95.4%,#000000 98.9%)"></div><div style="top:69.31px;height:5.93px;background:linear-gradient(90deg,#d78656 1.1%,#d78655 4.6%,#d68655 8.1%,#d68655 11.6%,#d68555 15.1%,#d58555 18.6%,#d58555 22.1%,#d58555 25.6%,#d48554 29.0%,#ce8052 32.5%,#c37a4d 36.0%,#b87349 39.5%,#ad6c45 43.0%,#9f633f 46.5%,#8c5738 50.0%,#794c30 53.5%,#664029 57.0%,#523321 60.5%,#42291a 64.0%,#352115 67.5%,#2b1b11 71.0%,#26180f 74.4%,#21150d 77.9%,#1f130c 81.4%,#1e130c 84.9%,#0d0805 88.4%,#000000 91.9%,#000000 95.4%,#000000 98.9%)"></div><div style="top:74.64px;height:5.93px;background:linear-gradient(90deg,#de8b58 1.1%,#de8b58 4.6%,#de8b58 8.1%,#de8a58 11.6%,#de8a58 15.1%,#dd8a58 18.6%,#dd8a58 22.1%,#dd8a58 25.6%,#dd8a58 29.0%,#d78655 32.5%,#cb7f51 36.0%,#c0784c 39.5%,#b57148 43.0%,#a66842 46.5%,#935c3a 50.0%,#805033 53.5%,#6b432b 57.0%,#563622 60.5%,#462c1c 64.0%,#382316 67.5%,#2d1c12 71.0%,#281910 74.4%,#22150e 77.9%,#1f130c 81.4%,#1e130c 84.9%,#19100a 88.4%,#000000 91.9%,#000000 95.4%,#000000 98.9%)"></div><div style="top:79.97px;height:5.93px;background:linear-gradient(90deg,#e48e5b 1.1%,#e48e5b 4.6%,#e48e5b 8.1%,#e48f5b 11.6%,#e48f5b 15.1%,#e48f5b 18.6%,#e48f5b 22.1%,#e48e5b 25.6%,#e38e5b 29.0%,#dd8a58 32.5%,#d38454 36.0%,#c97e50 39.5%,#be774c 43.0%,#af6e46 46.5%,#9d623e 50.0%,#895536 53.5%,#74482e 57.0%,#5f3b26 60.5%,#4d301f 64.0%,#3e2719 67.5%,#332014 71.0%,#2c1b11 74.4%,#25170f 77.9%,#21150d 81.4%,#1f140c 84.9%,#1d120c 88.4%,#0b0704 91.9%,#000000 95.4%,#000000 98.9%)"></div><div style="top:85.30px;height:5.93px;background:linear-gradient(90deg,#e9925d 1.1%,#e9925d 4.6%,#ea925d 8.1%,#ea925d 11.6%,#eb935d 15.1%,#eb935e 18.6%,#eb935e 22.1%,#ea925d 25.6%,#e9925d 29.0%,#e48e5b 32.5%,#db8957 36.0%,#d38454 39.5%,#c87d4f 43.0%,#b9744a 46.5%,#a76943 50.0%,#935c3a 53.5%,#7d4e32 57.0%,#684129 60.5%,#563622 64.0%,#462c1c 67.5%,#392417 71.0%,#311f14 74.4%,#291a10 77.9%,#24170e 81.4%,#21140d 84.9%,#1d120c 88.4%,#170e09 91.9%,#000000 95.4%,#000000 98.9%)"></div><div style="top:90.63px;height:5.93px;background:linear-gradient(90deg,#ee955f 1.1%,#ef955f 4.6%,#f0965f 8.1%,#f19660 11.6%,#f19760 15.1%,#f29760 18.6%,#f29760 22.1%,#f0965f 25.6%,#ee955f 29.0%,#ea925d 32.5%,#e48e5b 36.0%,#dd8a58 39.5%,#d18353 43.0%,#c37a4d 46.5%,#b26f47 50.0%,#9d623e 53.5%,#875436 57.0%,#71472d 60.5%,#5f3b26 64.0%,#4d301f 67.5%,#3f2819 71.0%,#362216 74.4%,#2d1c12 77.9%,#27180f 81.4%,#22150e 84.9%,#1e120c 88.4%,#1b110b 91.9%,#080503 95.4%,#000000 98.9%)"></div><div style="top:95.96px;height:5.93px;background:linear-gradient(90deg,#f49861 1.1%,#f59961 4.6%,#f69a62 8.1%,#f79a62 11.6%,#f89b63 15.1%,#f99b63 18.6%,#f89b63 22.1%,#f69a62 25.6%,#f49861 29.0%,#f09660 32.5%,#ec935e 36.0%,#e7905c 39.5%,#db8957 43.0%,#cc8051 46.5%,#bd764b 50.0%,#a66842 53.5%,#905a39 57.0%,#7a4c31 60.5%,#674129 64.0%,#553522 67.5%,#462c1c 71.0%,#3b2518 74.4%,#311f14 77.9%,#291a10 81.4%,#24160e 84.9%,#1e130c 88.4%,#1a100a 91.9%,#130c08 95.4%,#000000 98.9%)"></div><div style="top:101.29px;height:5.93px;background:linear-gradient(90deg,#f99c63 1.1%,#fa9d64 4.6%,#fc9d64 8.1%,#fd9e65 11.6%,#fe9f65 15.1%,#ff9f65 18.6%,#fe9f65 22.1%,#fc9d64 25.6%,#f99c63 29.0%,#f69a62 32.5%,#f39861 36.0%,#f09660 39.5%,#e48f5b 43.0%,#d68655 46.5%,#c77c4f 50.0%,#b06e46 53.5%,#9a603d 57.0%,#835234 60.5%,#70462d 64.0%,#5c3a25 67.5%,#4c2f1e 71.0%,#40281a 74.4%,#352115 77.9%,#2c1c12 81.4%,#25170f 84.9%,#1e130c 88.4%,#1a100a 91.9%,#170e09 95.4%,#050302 98.9%)"></div><div style="top:106.63px;height:5.93px;background:linear-gradient(90deg,#fe9f65 1.1%,#ff9f65 4.6%,#ffa066 8.1%,#ffa066 11.6%,#ffa167 15.1%,#ffa267 18.6%,#ffa167 22.1%,#ffa066 25.6%,#fe9f65 29.0%,#fb9d64 32.5%,#f89b63 36.0%,#f59961 39.5%,#eb935d 43.0%,#de8a58 46.5%,#cf8152 50.0%,#bb754a 53.5%,#a46741 57.0%,#8d5838 60.5%,#784b30 64.0%,#623d27 67.5%,#503220 71.0%,#442b1b 74.4%,#392317 77.9%,#2f1e13 81.4%,#281910 84.9%,#21140d 88.4%,#1c120b 91.9%,#180f0a 95.4%,#100a06 98.9%)"></div><div style="top:111.96px;height:5.93px;background:linear-gradient(90deg,#ffa267 1.1%,#ffa267 4.6%,#ffa368 8.1%,#ffa368 11.6%,#ffa368 15.1%,#ffa468 18.6%,#ffa468 22.1%,#ffa368 25.6%,#ffa267 29.0%,#ffa066 32.5%,#fd9e65 36.0%,#fa9c63 39.5%,#f19760 43.0%,#e68f5b 46.5%,#d78756 50.0%,#c57b4e 53.5%,#af6d46 57.0%,#975e3c 60.5%,#805033 64.0%,#684129 67.5%,#553522 71.0%,#492d1d 74.4%,#3c2618 77.9%,#322014 81.4%,#2b1b11 84.9%,#23160e 88.4%,#1e130c 91.9%,#1a100a 95.4%,#160e09 98.9%)"></div><div style="top:117.29px;height:5.93px;background:linear-gradient(90deg,#ffa569 1.1%,#ffa569 4.6%,#ffa569 8.1%,#ffa669 11.6%,#ffa66a 15.1%,#ffa66a 18.6%,#ffa66a 22.1%,#ffa569 25.6%,#ffa569 29.0%,#ffa368 32.5%,#ffa167 36.0%,#fe9f65 39.5%,#f89b63 43.0%,#ee945f 46.5%,#e08c59 50.0%,#cf8152 53.5%,#b9744a 57.0%,#a16440 60.5%,#885536 64.0%,#6e452c 67.5%,#5a3824 71.0%,#4d301f 74.4%,#402819 77.9%,#362115 81.4%,#2d1c12 84.9%,#25170f 88.4%,#20140d 91.9%,#1c110b 95.4%,#170f09 98.9%)"></div><div style="top:122.62px;height:5.93px;background:linear-gradient(90deg,#ffa86b 1.1%,#ffa86b 4.6%,#ffa86b 8.1%,#ffa86b 11.6%,#ffa86b 15.1%,#ffa86b 18.6%,#ffa86b 22.1%,#ffa86b 25.6%,#ffa86b 29.0%,#ffa66a 32.5%,#ffa468 36.0%,#ffa267 39.5%,#fe9f65 43.0%,#f69962 46.5%,#e8915c 50.0%,#d98856 53.5%,#c47a4e 57.0%,#aa6a44 60.5%,#905a39 64.0%,#74492e 67.5%,#5e3b26 71.0%,#513320 74.4%,#432a1b 77.9%,#392317 81.4%,#301e13 84.9%,#271810 88.4%,#22150d 91.9%,#1d120c 95.4%,#19100a 98.9%)"></div><div style="top:127.95px;height:5.93px;background:linear-gradient(90deg,#ffab6d 1.1%,#ffab6d 4.6%,#ffab6d 8.1%,#ffab6d 11.6%,#ffab6d 15.1%,#ffaa6d 18.6%,#ffaa6d 22.1%,#ffaa6d 25.6%,#ffaa6d 29.0%,#ffa96c 32.5%,#ffa76a 36.0%,#ffa469 39.5%,#ffa267 43.0%,#fb9d64 46.5%,#ee955f 50.0%,#e18d59 53.5%,#cc8051 57.0%,#b37047 60.5%,#985f3c 64.0%,#7c4d31 67.5%,#664028 71.0%,#583723 74.4%,#4a2e1d 77.9%,#3f2719 81.4%,#362215 84.9%,#2d1c12 88.4%,#27180f 91.9%,#22150e 95.4%,#1d120c 98.9%)"></div><div style="top:133.28px;height:5.93px;background:linear-gradient(90deg,#ffad6e 1.1%,#ffad6e 4.6%,#ffad6e 8.1%,#ffad6e 11.6%,#ffad6e 15.1%,#ffad6e 18.6%,#ffad6e 22.1%,#ffad6e 25.6%,#ffad6e 29.0%,#ffab6d 32.5%,#ffa96b 36.0%,#ffa66a 39.5%,#ffa468 43.0%,#ff9f66 46.5%,#f39861 50.0%,#e6905c 53.5%,#d38454 57.0%,#bb754b 60.5%,#a16540 64.0%,#865435 67.5%,#70462d 71.0%,#623d27 74.4%,#543421 77.9%,#482d1d 81.4%,#3f2719 84.9%,#362115 88.4%,#2f1e13 91.9%,#2a1a11 95.4%,#25170f 98.9%)"></div><div style="top:138.61px;height:5.93px;background:linear-gradient(90deg,#ffb070 1.1%,#ffb070 4.6%,#ffaf70 8.1%,#ffaf70 11.6%,#ffaf70 15.1%,#ffaf70 18.6%,#ffaf6f 22.1%,#ffaf6f 25.6%,#ffaf6f 29.0%,#ffad6e 32.5%,#ffab6d 36.0%,#ffa86b 39.5%,#ffa66a 43.0%,#ffa267 46.5%,#f89b63 50.0%,#eb935e 53.5%,#da8857 57.0%,#c37a4e 60.5%,#aa6a44 64.0%,#8f5a39 67.5%,#7a4c31 71.0%,#6c432b 74.4%,#5d3a25 77.9%,#523321 81.4%,#482d1d 84.9%,#3e2719 88.4%,#382316 91.9%,#321f14 95.4%,#2c1c12 98.9%)"></div><div style="top:143.94px;height:5.93px;background:linear-gradient(90deg,#ffb272 1.1%,#ffb271 4.6%,#ffb271 8.1%,#ffb271 11.6%,#ffb271 15.1%,#ffb171 18.6%,#ffb171 22.1%,#ffb171 25.6%,#ffb171 29.0%,#ffaf70 32.5%,#ffad6e 36.0%,#ffab6d 39.5%,#ffa86b 43.0%,#ffa469 46.5%,#fd9e65 50.0%,#f19660 53.5%,#e08c59 57.0%,#cc7f51 60.5%,#b37047 64.0%,#99603d 67.5%,#845335 71.0%,#764a2f 74.4%,#674029 77.9%,#5b3924 81.4%,#513320 84.9%,#472d1c 88.4%,#40281a 91.9%,#3a2417 95.4%,#342015 98.9%)"></div><div style="top:149.28px;height:5.93px;background:linear-gradient(90deg,#ffb573 1.1%,#ffb573 4.6%,#ffb473 8.1%,#ffb473 11.6%,#ffb473 15.1%,#ffb472 18.6%,#ffb472 22.1%,#ffb372 25.6%,#ffb372 29.0%,#ffb271 32.5%,#ffaf6f 36.0%,#ffad6e 39.5%,#ffaa6c 43.0%,#ffa76a 46.5%,#ffa166 50.0%,#f69a62 53.5%,#e7905c 57.0%,#d48454 60.5%,#bc754b 64.0%,#a36641 67.5%,#8e5939 71.0%,#805033 74.4%,#71472d 77.9%,#653f28 81.4%,#5b3924 84.9%,#503220 88.4%,#492e1d 91.9%,#42291a 95.4%,#3b2518 98.9%)"></div><div style="top:154.61px;height:5.93px;background:linear-gradient(90deg,#ffb775 1.1%,#ffb775 4.6%,#ffb774 8.1%,#ffb774 11.6%,#ffb674 15.1%,#ffb674 18.6%,#ffb674 22.1%,#ffb574 25.6%,#ffb573 29.0%,#ffb472 32.5%,#ffb171 36.0%,#ffaf6f 39.5%,#ffac6e 43.0%,#ffa96c 46.5%,#ffa468 50.0%,#fb9d64 53.5%,#ed945e 57.0%,#dc8958 60.5%,#c57b4e 64.0%,#ad6c45 67.5%,#995f3d 71.0%,#8a5637 74.4%,#7b4d31 77.9%,#6e452c 81.4%,#643e28 84.9%,#593824 88.4%,#513320 91.9%,#4a2e1e 95.4%,#432a1b 98.9%)"></div><div style="top:159.94px;height:5.93px;background:linear-gradient(90deg,#ffba76 1.1%,#ffba76 4.6%,#ffb976 8.1%,#ffb976 11.6%,#ffb976 15.1%,#ffb875 18.6%,#ffb875 22.1%,#ffb875 25.6%,#ffb775 29.0%,#ffb674 32.5%,#ffb372 36.0%,#ffb171 39.5%,#ffae6f 43.0%,#ffab6d 46.5%,#ffa76a 50.0%,#ffa066 53.5%,#f49861 57.0%,#e48f5b 60.5%,#cd8052 64.0%,#b77249 67.5%,#a36641 71.0%,#935c3b 74.4%,#845335 77.9%,#784b30 81.4%,#6d442b 84.9%,#623d27 88.4%,#5a3824 91.9%,#523321 95.4%,#4b2f1e 98.9%)"></div><div style="top:165.27px;height:5.93px;background:linear-gradient(90deg,#ffbd78 1.1%,#ffbc78 4.6%,#ffbc78 8.1%,#ffbb77 11.6%,#ffbb77 15.1%,#ffbb77 18.6%,#ffba77 22.1%,#ffba76 25.6%,#ffba76 29.0%,#ffb875 32.5%,#ffb574 36.0%,#ffb372 39.5%,#ffb170 43.0%,#ffae6f 46.5%,#ffaa6c 50.0%,#ffa468 53.5%,#fa9d64 57.0%,#ec945e 60.5%,#d68655 64.0%,#c0784d 67.5%,#ad6c45 71.0%,#9d623f 74.4%,#8e5938 77.9%,#815133 81.4%,#764a2f 84.9%,#6b432b 88.4%,#633e27 91.9%,#5a3824 95.4%,#523321 98.9%)"></div><div style="top:170.60px;height:5.93px;background:linear-gradient(90deg,#ffbf7a 1.1%,#ffbf79 4.6%,#ffbe79 8.1%,#ffbe79 11.6%,#ffbd79 15.1%,#ffbd78 18.6%,#ffbd78 22.1%,#ffbc78 25.6%,#ffbc78 29.0%,#ffba76 32.5%,#ffb875 36.0%,#ffb573 39.5%,#ffb372 43.0%,#ffb070 46.5%,#ffad6e 50.0%,#ffa76a 53.5%,#ffa166 57.0%,#f49961 60.5%,#df8c59 64.0%,#ca7e50 67.5%,#b77249 71.0%,#a76943 74.4%,#985f3c 77.9%,#8b5737 81.4%,#7f5033 84.9%,#74492e 88.4%,#6b432b 91.9%,#623d27 95.4%,#5a3824 98.9%)"></div><div style="top:175.93px;height:5.93px;background:linear-gradient(90deg,#ffc17b 1.1%,#ffc17b 4.6%,#ffc07b 8.1%,#ffc07a 11.6%,#ffbf7a 15.1%,#ffbf7a 18.6%,#ffbe79 22.1%,#ffbe79 25.6%,#ffbd79 29.0%,#ffbc78 32.5%,#ffb976 36.0%,#ffb774 39.5%,#ffb473 43.0%,#ffb271 46.5%,#ffaf70 50.0%,#ffaa6c 53.5%,#ffa468 57.0%,#fb9d64 60.5%,#e7905c 64.0%,#d28354 67.5%,#bf784c 71.0%,#af6e46 74.4%,#a06440 77.9%,#925b3a 81.4%,#875436 84.9%,#7c4d31 88.4%,#72472d 91.9%,#69422a 95.4%,#603c26 98.9%)"></div><div style="top:181.26px;height:5.93px;background:linear-gradient(90deg,#ffc27b 1.1%,#ffc17b 4.6%,#ffc17b 8.1%,#ffc07a 11.6%,#ffc07a 15.1%,#ffbf7a 18.6%,#ffbf79 22.1%,#ffbe79 25.6%,#ffbe79 29.0%,#ffbc78 32.5%,#ffba76 36.0%,#ffb775 39.5%,#ffb573 43.0%,#ffb271 46.5%,#ffb070 50.0%,#ffaa6c 53.5%,#ffa468 57.0%,#fb9d64 60.5%,#e7915c 64.0%,#d38454 67.5%,#c0784c 71.0%,#b06e46 74.4%,#a06440 77.9%,#935c3b 81.4%,#885536 84.9%,#7c4e32 88.4%,#73482e 91.9%,#6a422a 95.4%,#613d27 98.9%)"></div><div style="top:186.59px;height:5.93px;background:linear-gradient(90deg,#ffc27c 1.1%,#ffc27b 4.6%,#ffc17b 8.1%,#ffc17b 11.6%,#ffc07a 15.1%,#ffc07a 18.6%,#ffbf7a 22.1%,#ffbf79 25.6%,#ffbe79 29.0%,#ffbc78 32.5%,#ffba76 36.0%,#ffb775 39.5%,#ffb573 43.0%,#ffb272 46.5%,#ffb070 50.0%,#ffaa6c 53.5%,#ffa469 57.0%,#fb9d64 60.5%,#e8915c 64.0%,#d48454 67.5%,#c1794d 71.0%,#b16f46 74.4%,#a16540 77.9%,#945d3b 81.4%,#895536 84.9%,#7d4e32 88.4%,#74482e 91.9%,#6b432b 95.4%,#623d27 98.9%)"></div><div style="top:191.93px;height:5.93px;background:linear-gradient(90deg,#ffc37c 1.1%,#ffc27c 4.6%,#ffc27b 8.1%,#ffc17b 11.6%,#ffc07b 15.1%,#ffc07a 18.6%,#ffbf7a 22.1%,#ffbf7a 25.6%,#ffbe79 29.0%,#ffbd78 32.5%,#ffba77 36.0%,#ffb875 39.5%,#ffb573 43.0%,#ffb372 46.5%,#ffb070 50.0%,#ffaa6c 53.5%,#ffa469 57.0%,#fb9d64 60.5%,#e9925d 64.0%,#d48555 67.5%,#c2794d 71.0%,#b26f47 74.4%,#a26541 77.9%,#955d3b 81.4%,#8a5637 84.9%,#7e4f32 88.4%,#75492f 91.9%,#6c442b 95.4%,#633e28 98.9%)"></div><div style="top:197.26px;height:5.93px;background:linear-gradient(90deg,#ffc37c 1.1%,#ffc27c 4.6%,#ffc27c 8.1%,#ffc17b 11.6%,#ffc17b 15.1%,#ffc07a 18.6%,#ffc07a 22.1%,#ffbf7a 25.6%,#ffbf79 29.0%,#ffbd78 32.5%,#ffba77 36.0%,#ffb875 39.5%,#ffb574 43.0%,#ffb372 46.5%,#ffb170 50.0%,#ffaa6d 53.5%,#ffa469 57.0%,#fb9d64 60.5%,#ea925d 64.0%,#d58555 67.5%,#c2794d 71.0%,#b37047 74.4%,#a36641 77.9%,#965e3c 81.4%,#8b5737 84.9%,#7f5033 88.4%,#764a2f 91.9%,#6d442b 95.4%,#643f28 98.9%)"></div><div style="top:202.59px;height:5.93px;background:linear-gradient(90deg,#ffc37c 1.1%,#ffc37c 4.6%,#ffc27c 8.1%,#ffc27b 11.6%,#ffc17b 15.1%,#ffc17b 18.6%,#ffc07a 22.1%,#ffc07a 25.6%,#ffbf7a 29.0%,#ffbd79 32.5%,#ffbb77 36.0%,#ffb875 39.5%,#ffb674 43.0%,#ffb372 46.5%,#ffb171 50.0%,#ffab6d 53.5%,#ffa469 57.0%,#fc9d64 60.5%,#ea935d 64.0%,#d68655 67.5%,#c37a4e 71.0%,#b37047 74.4%,#a46641 77.9%,#975e3c 81.4%,#8c5738 84.9%,#805033 88.4%,#774a2f 91.9%,#6e452c 95.4%,#663f28 98.9%)"></div><div style="top:207.92px;height:5.93px;background:linear-gradient(90deg,#ffc47d 1.1%,#ffc37c 4.6%,#ffc37c 8.1%,#ffc27c 11.6%,#ffc27b 15.1%,#ffc17b 18.6%,#ffc07b 22.1%,#ffc07a 25.6%,#ffbf7a 29.0%,#ffbe79 32.5%,#ffbb77 36.0%,#ffb976 39.5%,#ffb674 43.0%,#ffb472 46.5%,#ffb171 50.0%,#ffab6d 53.5%,#ffa469 57.0%,#fc9d64 60.5%,#eb935e 64.0%,#d78655 67.5%,#c47a4e 71.0%,#b47148 74.4%,#a56742 77.9%,#985f3c 81.4%,#8c5838 84.9%,#815133 88.4%,#784b30 91.9%,#6f462c 95.4%,#674029 98.9%)"></div><div style="top:213.25px;height:5.93px;background:linear-gradient(90deg,#ffc47d 1.1%,#ffc47d 4.6%,#ffc37c 8.1%,#ffc37c 11.6%,#ffc27c 15.1%,#ffc17b 18.6%,#ffc17b 22.1%,#ffc07a 25.6%,#ffc07a 29.0%,#ffbe79 32.5%,#ffbb77 36.0%,#ffb976 39.5%,#ffb674 43.0%,#ffb473 46.5%,#ffb171 50.0%,#ffab6d 53.5%,#ffa569 57.0%,#fc9d64 60.5%,#ec945e 64.0%,#d88756 67.5%,#c47b4e 71.0%,#b57148 74.4%,#a66842 77.9%,#995f3d 81.4%,#8d5838 84.9%,#825134 88.4%,#794c30 91.9%,#70462d 95.4%,#684129 98.9%)"></div><div style="top:218.58px;height:5.93px;background:linear-gradient(90deg,#ffc57d 1.1%,#ffc47d 4.6%,#ffc47d 8.1%,#ffc37c 11.6%,#ffc27c 15.1%,#ffc27b 18.6%,#ffc17b 22.1%,#ffc07b 25.6%,#ffc07a 29.0%,#ffbe79 32.5%,#ffbc77 36.0%,#ffb976 39.5%,#ffb774 43.0%,#ffb473 46.5%,#ffb271 50.0%,#ffab6d 53.5%,#ffa569 57.0%,#fc9d64 60.5%,#ed945e 64.0%,#d88756 67.5%,#c57b4e 71.0%,#b67248 74.4%,#a76842 77.9%,#9a603d 81.4%,#8e5939 84.9%,#835234 88.4%,#7a4c31 91.9%,#71472d 95.4%,#69422a 98.9%)"></div><div style="top:223.91px;height:5.93px;background:linear-gradient(90deg,#ffc57e 1.1%,#ffc57d 4.6%,#ffc47d 8.1%,#ffc37c 11.6%,#ffc37c 15.1%,#ffc27c 18.6%,#ffc17b 22.1%,#ffc17b 25.6%,#ffc07a 29.0%,#ffbe79 32.5%,#ffbc78 36.0%,#ffb976 39.5%,#ffb774 43.0%,#ffb473 46.5%,#ffb271 50.0%,#ffab6d 53.5%,#ffa569 57.0%,#fc9e64 60.5%,#ee955f 64.0%,#d98856 67.5%,#c67c4f 71.0%,#b77249 74.4%,#a76943 77.9%,#9b613e 81.4%,#8f5939 84.9%,#845234 88.4%,#7b4d31 91.9%,#72482e 95.4%,#6a422a 98.9%)"></div><div style="top:229.24px;height:5.93px;background:linear-gradient(90deg,#ffc67e 1.1%,#ffc57d 4.6%,#ffc47d 8.1%,#ffc47d 11.6%,#ffc37c 15.1%,#ffc27c 18.6%,#ffc27b 22.1%,#ffc17b 25.6%,#ffc07b 29.0%,#ffbf79 32.5%,#ffbc78 36.0%,#ffba76 39.5%,#ffb775 43.0%,#ffb573 46.5%,#ffb271 50.0%,#ffab6d 53.5%,#ffa569 57.0%,#fc9e64 60.5%,#ee955f 64.0%,#da8857 67.5%,#c77c4f 71.0%,#b77349 74.4%,#a86943 77.9%,#9b613e 81.4%,#905a39 84.9%,#855335 88.4%,#7c4d31 91.9%,#74482e 95.4%,#6b432b 98.9%)"></div><div style="top:234.58px;height:5.93px;background:linear-gradient(90deg,#ffc67e 1.1%,#ffc57e 4.6%,#ffc57d 8.1%,#ffc47d 11.6%,#ffc37c 15.1%,#ffc37c 18.6%,#ffc27c 22.1%,#ffc17b 25.6%,#ffc17b 29.0%,#ffbf7a 32.5%,#ffbc78 36.0%,#ffba76 39.5%,#ffb775 43.0%,#ffb573 46.5%,#ffb372 50.0%,#ffac6d 53.5%,#ffa569 57.0%,#fc9e64 60.5%,#ef955f 64.0%,#db8957 67.5%,#c77d4f 71.0%,#b87349 74.4%,#a96a43 77.9%,#9c623e 81.4%,#915b3a 84.9%,#865435 88.4%,#7d4e32 91.9%,#75492e 95.4%,#6c442b 98.9%)"></div><div style="top:239.91px;height:5.93px;background:linear-gradient(90deg,#ffc67e 1.1%,#ffc67e 4.6%,#ffc57e 8.1%,#ffc47d 11.6%,#ffc47d 15.1%,#ffc37c 18.6%,#ffc27c 22.1%,#ffc27b 25.6%,#ffc17b 29.0%,#ffbf7a 32.5%,#ffbd78 36.0%,#ffba77 39.5%,#ffb875 43.0%,#ffb573 46.5%,#ffb372 50.0%,#ffac6d 53.5%,#ffa569 57.0%,#fc9e64 60.5%,#f09660 64.0%,#db8957 67.5%,#c87d50 71.0%,#b9744a 74.4%,#aa6a44 77.9%,#9d623f 81.4%,#925b3a 84.9%,#875436 88.4%,#7e4f32 91.9%,#764a2f 95.4%,#6e442c 98.9%)"></div><div style="top:245.24px;height:5.93px;background:linear-gradient(90deg,#ffc77f 1.1%,#ffc67e 4.6%,#ffc57e 8.1%,#ffc57d 11.6%,#ffc47d 15.1%,#ffc37c 18.6%,#ffc37c 22.1%,#ffc27c 25.6%,#ffc17b 29.0%,#ffc07a 32.5%,#ffbd78 36.0%,#ffbb77 39.5%,#ffb875 43.0%,#ffb674 46.5%,#ffb372 50.0%,#ffac6e 53.5%,#ffa569 57.0%,#fd9e65 60.5%,#f19660 64.0%,#dc8a58 67.5%,#c97d50 71.0%,#ba744a 74.4%,#ab6b44 77.9%,#9e633f 81.4%,#935c3a 84.9%,#875536 88.4%,#7f4f32 91.9%,#774a2f 95.4%,#6f452c 98.9%)"></div><div style="top:250.57px;height:5.93px;background:linear-gradient(90deg,#ffc77f 1.1%,#ffc67e 4.6%,#ffc67e 8.1%,#ffc57e 11.6%,#ffc47d 15.1%,#ffc47d 18.6%,#ffc37c 22.1%,#ffc27c 25.6%,#ffc27b 29.0%,#ffc07a 32.5%,#ffbd79 36.0%,#ffbb77 39.5%,#ffb875 43.0%,#ffb674 46.5%,#ffb372 50.0%,#ffac6e 53.5%,#ffa569 57.0%,#fd9e65 60.5%,#f19760 64.0%,#dd8a58 67.5%,#c97e50 71.0%,#ba754a 74.4%,#ac6b44 77.9%,#9f633f 81.4%,#945c3b 84.9%,#885536 88.4%,#7f5033 91.9%,#784b30 95.4%,#70462c 98.9%)"></div></div></div>
<div class="hm" style="left:1525.4px;top:1233.7px;width:351.1px;height:245.8px"><div class="hmi" style="left:-4px;top:-4px;width:359.1px;height:253.8px;filter:blur(1.5px)"><div style="top:0.00px;height:5.89px;background:linear-gradient(90deg,#060403 1.1%,#080503 4.6%,#090604 8.1%,#0a0704 11.6%,#0c0705 15.1%,#0d0805 18.6%,#0f0906 22.1%,#100a06 25.6%,#180f09 29.0%,#1f130c 32.5%,#27180f 36.0%,#2e1d12 39.5%,#3d2618 43.0%,#4f311f 46.5%,#603c26 50.0%,#69412a 53.5%,#72472d 57.0%,#7a4c31 60.5%,#7e4f32 64.0%,#825134 67.5%,#865435 71.0%,#8a5637 74.4%,#8e5938 77.9%,#8e5939 81.4%,#8d5838 84.9%,#8b5737 88.4%,#895637 91.9%,#885536 95.4%,#865435 98.9%)"></div><div style="top:5.29px;height:5.89px;background:linear-gradient(90deg,#070403 1.1%,#080503 4.6%,#0a0604 8.1%,#0b0704 11.6%,#0d0805 15.1%,#0e0906 18.6%,#100a06 22.1%,#120c07 25.6%,#1a100a 29.0%,#22150e 32.5%,#2a1a11 36.0%,#321f14 39.5%,#41281a 43.0%,#523320 46.5%,#623d27 50.0%,#6b432b 53.5%,#74492e 57.0%,#7c4e31 60.5%,#805033 64.0%,#855335 67.5%,#895536 71.0%,#8d5838 74.4%,#905a39 77.9%,#915b3a 81.4%,#905a39 84.9%,#8f5939 88.4%,#8d5838 91.9%,#8c5738 95.4%,#8a5637 98.9%)"></div><div style="top:10.57px;height:5.89px;background:linear-gradient(90deg,#070403 1.1%,#090604 4.6%,#0b0704 8.1%,#0c0805 11.6%,#0e0906 15.1%,#100a06 18.6%,#120b07 22.1%,#160e09 25.6%,#1e130c 29.0%,#26180f 32.5%,#2e1d12 36.0%,#362216 39.5%,#452b1b 43.0%,#553522 46.5%,#664029 50.0%,#6f452c 53.5%,#774a2f 57.0%,#7f4f32 60.5%,#845234 64.0%,#885536 67.5%,#8d5838 71.0%,#905a39 74.4%,#945c3b 77.9%,#955d3b 81.4%,#955d3b 84.9%,#945c3b 88.4%,#935c3a 91.9%,#925b3a 95.4%,#905a39 98.9%)"></div><div style="top:15.86px;height:5.89px;background:linear-gradient(90deg,#080503 1.1%,#0a0604 4.6%,#0c0705 8.1%,#0d0805 11.6%,#0f0a06 15.1%,#110b07 18.6%,#140d08 22.1%,#19100a 25.6%,#21150d 29.0%,#2a1a11 32.5%,#321f14 36.0%,#3b2517 39.5%,#492e1d 43.0%,#593824 46.5%,#6a422a 50.0%,#72472d 53.5%,#7a4c31 57.0%,#825134 60.5%,#875436 64.0%,#8c5738 67.5%,#905a39 71.0%,#945c3b 74.4%,#975f3c 77.9%,#99603d 81.4%,#99603d 84.9%,#99603d 88.4%,#985f3d 91.9%,#975f3c 95.4%,#965e3c 98.9%)"></div><div style="top:21.15px;height:5.89px;background:linear-gradient(90deg,#080503 1.1%,#0a0604 4.6%,#0c0805 8.1%,#0f0906 11.6%,#110a07 15.1%,#130c08 18.6%,#170e09 22.1%,#1c120b 25.6%,#25170f 29.0%,#2e1d12 32.5%,#362216 36.0%,#3f2719 39.5%,#4e311f 43.0%,#5d3a25 46.5%,#6d442c 50.0%,#75492f 53.5%,#7d4e32 57.0%,#845335 60.5%,#8a5637 64.0%,#905a39 67.5%,#945d3b 71.0%,#985f3c 74.4%,#9b613e 77.9%,#9d623e 81.4%,#9d623f 84.9%,#9e633f 88.4%,#9e633f 91.9%,#9d623e 95.4%,#9c623e 98.9%)"></div><div style="top:26.44px;height:5.89px;background:linear-gradient(90deg,#090503 1.1%,#0b0704 4.6%,#0d0805 8.1%,#100a06 11.6%,#120b07 15.1%,#140d08 18.6%,#190f0a 22.1%,#20140d 25.6%,#291910 29.0%,#321f14 32.5%,#3b2517 36.0%,#442a1b 39.5%,#523321 43.0%,#613d27 46.5%,#71472d 50.0%,#794b30 53.5%,#805033 57.0%,#875536 60.5%,#8d5838 64.0%,#935c3b 67.5%,#985f3c 71.0%,#9b613e 74.4%,#9e633f 77.9%,#a16440 81.4%,#a26540 84.9%,#a36641 88.4%,#a36641 91.9%,#a36641 95.4%,#a26541 98.9%)"></div><div style="top:31.72px;height:5.89px;background:linear-gradient(90deg,#090604 1.1%,#0c0705 4.6%,#0e0906 8.1%,#110a07 11.6%,#130c08 15.1%,#160e09 18.6%,#1b110b 22.1%,#23160e 25.6%,#2c1c12 29.0%,#362115 32.5%,#3f2719 36.0%,#482d1d 39.5%,#563622 43.0%,#653f28 46.5%,#75492e 50.0%,#7c4d31 53.5%,#835234 57.0%,#8a5637 60.5%,#905a39 64.0%,#975e3c 67.5%,#9c613e 71.0%,#9f633f 74.4%,#a26540 77.9%,#a46741 81.4%,#a66842 84.9%,#a86943 88.4%,#a96943 91.9%,#a86943 95.4%,#a86943 98.9%)"></div><div style="top:37.01px;height:5.89px;background:linear-gradient(90deg,#090604 1.1%,#0c0805 4.6%,#0f0906 8.1%,#120b07 11.6%,#150d08 15.1%,#170f09 18.6%,#1d120b 22.1%,#26180f 25.6%,#301e13 29.0%,#3a2417 32.5%,#432a1b 36.0%,#4d301f 39.5%,#5b3924 43.0%,#69422a 46.5%,#784b30 50.0%,#7f4f33 53.5%,#865435 57.0%,#8d5838 60.5%,#945c3b 64.0%,#9a613d 67.5%,#a06440 71.0%,#a36641 74.4%,#a56742 77.9%,#a86943 81.4%,#ab6b44 84.9%,#ae6c45 88.4%,#ae6d45 91.9%,#ae6d45 95.4%,#ae6d45 98.9%)"></div><div style="top:42.30px;height:5.89px;background:linear-gradient(90deg,#0a0604 1.1%,#0e0905 4.6%,#110b07 8.1%,#150d08 11.6%,#180f0a 15.1%,#1c110b 18.6%,#22150d 22.1%,#2c1b11 25.6%,#362215 29.0%,#402819 32.5%,#4a2e1d 36.0%,#543421 39.5%,#613d27 43.0%,#70462c 46.5%,#7e4f32 50.0%,#855335 53.5%,#8d5838 57.0%,#945c3b 60.5%,#9b613e 64.0%,#a26540 67.5%,#a76943 71.0%,#ab6b44 74.4%,#ae6d45 77.9%,#b16e46 81.4%,#b37047 84.9%,#b57148 88.4%,#b67248 91.9%,#b57148 95.4%,#b57148 98.9%)"></div><div style="top:47.59px;height:5.89px;background:linear-gradient(90deg,#0b0704 1.1%,#0f0a06 4.6%,#140c08 8.1%,#180f0a 11.6%,#1c120b 15.1%,#21140d 18.6%,#271910 22.1%,#321f14 25.6%,#3c2618 29.0%,#472c1c 32.5%,#513320 36.0%,#5b3924 39.5%,#69412a 43.0%,#774a2f 46.5%,#845335 50.0%,#8c5838 53.5%,#945d3b 57.0%,#9c623e 60.5%,#a36641 64.0%,#aa6a44 67.5%,#b06e46 71.0%,#b47048 74.4%,#b87349 77.9%,#bb754a 81.4%,#bc764b 84.9%,#be774c 88.4%,#be774c 91.9%,#be764b 95.4%,#bd764b 98.9%)"></div><div style="top:52.87px;height:5.89px;background:linear-gradient(90deg,#0c0805 1.1%,#110b07 4.6%,#160e09 8.1%,#1b110b 11.6%,#21140d 15.1%,#26180f 18.6%,#2d1c12 22.1%,#382316 25.6%,#432a1b 29.0%,#4d301f 32.5%,#583723 36.0%,#633e27 39.5%,#70462d 43.0%,#7d4e32 46.5%,#8b5737 50.0%,#935c3b 53.5%,#9c623e 57.0%,#a46741 60.5%,#ac6b44 64.0%,#b37047 67.5%,#b97349 71.0%,#bd764b 74.4%,#c2794d 77.9%,#c47b4e 81.4%,#c57b4f 84.9%,#c77c4f 88.4%,#c67c4f 91.9%,#c67b4f 95.4%,#c57b4e 98.9%)"></div><div style="top:58.16px;height:5.89px;background:linear-gradient(90deg,#0d0805 1.1%,#130c08 4.6%,#19100a 8.1%,#1f130c 11.6%,#25170f 15.1%,#2b1b11 18.6%,#332014 22.1%,#3e2719 25.6%,#492e1d 29.0%,#543522 32.5%,#603c26 36.0%,#6b432a 39.5%,#774b30 43.0%,#845335 46.5%,#915b3a 50.0%,#9b613e 53.5%,#a46641 57.0%,#ad6c45 60.5%,#b47048 64.0%,#bb754a 67.5%,#c1794d 71.0%,#c77c4f 74.4%,#cc7f51 77.9%,#ce8152 81.4%,#cf8152 84.9%,#cf8152 88.4%,#ce8152 91.9%,#ce8052 95.4%,#cd8051 98.9%)"></div><div style="top:63.45px;height:5.89px;background:linear-gradient(90deg,#0e0906 1.1%,#150d08 4.6%,#1b110b 8.1%,#22150e 11.6%,#291a10 15.1%,#301e13 18.6%,#382316 22.1%,#442a1b 25.6%,#503220 29.0%,#5b3924 32.5%,#674029 36.0%,#72482e 39.5%,#7f4f32 43.0%,#8b5737 46.5%,#985f3c 50.0%,#a26540 53.5%,#ac6b44 57.0%,#b57148 60.5%,#bc764b 64.0%,#c37a4e 67.5%,#ca7e50 71.0%,#d08253 74.4%,#d68655 77.9%,#d88756 81.4%,#d88756 84.9%,#d88756 88.4%,#d78655 91.9%,#d68555 95.4%,#d48555 98.9%)"></div><div style="top:68.74px;height:5.89px;background:linear-gradient(90deg,#0f0906 1.1%,#160e09 4.6%,#1e130c 8.1%,#26170f 11.6%,#2d1c12 15.1%,#352115 18.6%,#3e2719 22.1%,#4a2e1d 25.6%,#563622 29.0%,#623d27 32.5%,#6e452c 36.0%,#7a4c31 39.5%,#865435 43.0%,#925b3a 46.5%,#9e633f 50.0%,#a96943 53.5%,#b37047 57.0%,#bd764b 60.5%,#c47b4e 64.0%,#cc7f51 67.5%,#d38454 71.0%,#d98857 74.4%,#e08c59 77.9%,#e28d5a 81.4%,#e18d5a 84.9%,#e08c59 88.4%,#df8b59 91.9%,#de8a58 95.4%,#dc8a58 98.9%)"></div><div style="top:74.02px;height:5.89px;background:linear-gradient(90deg,#100a06 1.1%,#180f0a 4.6%,#20140d 8.1%,#291a10 11.6%,#311f14 15.1%,#3a2417 18.6%,#442a1b 22.1%,#503220 25.6%,#5c3a25 29.0%,#69422a 32.5%,#75492f 36.0%,#825134 39.5%,#8d5838 43.0%,#99603d 46.5%,#a46741 50.0%,#b06e46 53.5%,#bb754a 57.0%,#c57b4f 60.5%,#cd8052 64.0%,#d48554 67.5%,#dc8957 71.0%,#e38e5a 74.4%,#ea925d 77.9%,#ec945e 81.4%,#ea935d 84.9%,#e9925d 88.4%,#e7915c 91.9%,#e68f5b 95.4%,#e48e5b 98.9%)"></div><div style="top:79.31px;height:5.89px;background:linear-gradient(90deg,#130c07 1.1%,#1c110b 4.6%,#25170f 8.1%,#2e1d12 11.6%,#372216 15.1%,#402819 18.6%,#4a2e1e 22.1%,#573623 25.6%,#633e28 29.0%,#70462c 32.5%,#7c4e31 36.0%,#895636 39.5%,#955d3b 43.0%,#a06440 46.5%,#ac6c44 50.0%,#b87349 53.5%,#c37a4e 57.0%,#ce8152 60.5%,#d58555 64.0%,#dc8957 67.5%,#e38e5a 71.0%,#e9925d 74.4%,#f09660 77.9%,#f29760 81.4%,#f09660 84.9%,#ef955f 88.4%,#ed945e 91.9%,#eb935e 95.4%,#ea925d 98.9%)"></div><div style="top:84.60px;height:5.89px;background:linear-gradient(90deg,#160e09 1.1%,#20140d 4.6%,#291a10 8.1%,#332014 11.6%,#3d2618 15.1%,#462c1c 18.6%,#513320 22.1%,#5e3a25 25.6%,#6a422a 29.0%,#774a2f 32.5%,#835234 36.0%,#905a39 39.5%,#9c613e 43.0%,#a86943 46.5%,#b47048 50.0%,#c0784c 53.5%,#cc7f51 57.0%,#d78656 60.5%,#dd8a58 64.0%,#e38e5a 67.5%,#e9925d 71.0%,#ef955f 74.4%,#f59962 77.9%,#f79a62 81.4%,#f59962 84.9%,#f49861 88.4%,#f29760 91.9%,#f19760 95.4%,#ef965f 98.9%)"></div><div style="top:89.89px;height:5.89px;background:linear-gradient(90deg,#1a100a 1.1%,#24160e 4.6%,#2e1d12 8.1%,#382316 11.6%,#432a1a 15.1%,#4d301f 18.6%,#583723 22.1%,#643f28 25.6%,#71472d 29.0%,#7e4e32 32.5%,#8a5637 36.0%,#975e3c 39.5%,#a36641 43.0%,#af6e46 46.5%,#bc754b 50.0%,#c87d50 53.5%,#d58555 57.0%,#e08c59 60.5%,#e58f5b 64.0%,#ea925d 67.5%,#f0965f 71.0%,#f59962 74.4%,#fa9c64 77.9%,#fc9d64 81.4%,#fa9c64 84.9%,#f99c63 88.4%,#f89b63 91.9%,#f69a62 95.4%,#f59961 98.9%)"></div><div style="top:95.17px;height:5.89px;background:linear-gradient(90deg,#1d120c 1.1%,#281910 4.6%,#332014 8.1%,#3e2618 11.6%,#482d1d 15.1%,#533421 18.6%,#5f3b26 22.1%,#6b432b 25.6%,#784b30 29.0%,#845335 32.5%,#915b3a 36.0%,#9d623f 39.5%,#aa6a44 43.0%,#b77249 46.5%,#c47a4e 50.0%,#d08253 53.5%,#dd8a58 57.0%,#e8915c 60.5%,#ed945e 64.0%,#f29760 67.5%,#f69a62 71.0%,#fb9d64 74.4%,#ffa066 77.9%,#ffa066 81.4%,#ffa066 84.9%,#fe9f65 88.4%,#fd9e65 91.9%,#fc9d64 95.4%,#fa9c64 98.9%)"></div><div style="top:100.46px;height:5.89px;background:linear-gradient(90deg,#21150d 1.1%,#2c1c12 4.6%,#382316 8.1%,#432a1b 11.6%,#4e311f 15.1%,#5a3824 18.6%,#664028 22.1%,#72472d 25.6%,#7f4f32 29.0%,#8b5737 32.5%,#985f3c 36.0%,#a46741 39.5%,#b16f47 43.0%,#be774c 46.5%,#cc7f51 50.0%,#d98756 53.5%,#e6905b 57.0%,#f19760 60.5%,#f59961 64.0%,#f99c63 67.5%,#fd9e65 71.0%,#ffa166 74.4%,#ffa368 77.9%,#ffa468 81.4%,#ffa368 84.9%,#ffa267 88.4%,#ffa267 91.9%,#ffa166 95.4%,#ffa066 98.9%)"></div><div style="top:105.75px;height:5.89px;background:linear-gradient(90deg,#281910 1.1%,#332014 4.6%,#3f2719 8.1%,#4a2e1d 11.6%,#553522 15.1%,#613c26 18.6%,#6d442b 22.1%,#794c30 25.6%,#865335 29.0%,#925b3a 32.5%,#9f633f 36.0%,#ab6b44 39.5%,#b87349 43.0%,#c67c4f 46.5%,#d38454 50.0%,#e08c59 53.5%,#ed945e 57.0%,#f89b63 60.5%,#fc9d64 64.0%,#ffa066 67.5%,#ffa368 71.0%,#ffa569 74.4%,#ffa86b 77.9%,#ffa86b 81.4%,#ffa86b 84.9%,#ffa76b 88.4%,#ffa76a 91.9%,#ffa66a 95.4%,#ffa66a 98.9%)"></div><div style="top:111.04px;height:5.89px;background:linear-gradient(90deg,#2f1d13 1.1%,#3a2417 4.6%,#452b1c 8.1%,#513220 11.6%,#5c3a25 15.1%,#684129 18.6%,#73482e 22.1%,#805033 25.6%,#8c5838 29.0%,#99603d 32.5%,#a56742 36.0%,#b26f47 39.5%,#c0784c 43.0%,#cd8052 46.5%,#db8957 50.0%,#e8915c 53.5%,#f49861 57.0%,#ff9f65 60.5%,#ffa267 64.0%,#ffa469 67.5%,#ffa76a 71.0%,#ffaa6c 74.4%,#ffac6e 77.9%,#ffad6e 81.4%,#ffad6e 84.9%,#ffac6e 88.4%,#ffac6e 91.9%,#ffac6d 95.4%,#ffab6d 98.9%)"></div><div style="top:116.32px;height:5.89px;background:linear-gradient(90deg,#352115 1.1%,#41291a 4.6%,#4c301e 8.1%,#583723 11.6%,#633e27 15.1%,#6e452c 18.6%,#7a4c31 22.1%,#875436 25.6%,#935c3b 29.0%,#a06440 32.5%,#ac6c45 36.0%,#b9744a 39.5%,#c77c4f 43.0%,#d58555 46.5%,#e38e5a 50.0%,#ef955f 53.5%,#fb9d64 57.0%,#ffa368 60.5%,#ffa66a 64.0%,#ffa96c 67.5%,#ffac6d 71.0%,#ffae6f 74.4%,#ffb171 77.9%,#ffb271 81.4%,#ffb271 84.9%,#ffb271 88.4%,#ffb171 91.9%,#ffb171 95.4%,#ffb171 98.9%)"></div><div style="top:121.61px;height:5.89px;background:linear-gradient(90deg,#3c2618 1.1%,#482d1d 4.6%,#533421 8.1%,#5e3b26 11.6%,#6a422a 15.1%,#75492f 18.6%,#815133 22.1%,#8e5838 25.6%,#9a603d 29.0%,#a76842 32.5%,#b37047 36.0%,#c0784c 39.5%,#ce8152 43.0%,#dd8a58 46.5%,#eb935e 50.0%,#f79a62 53.5%,#ffa167 57.0%,#ffa86b 60.5%,#ffab6d 64.0%,#ffad6e 67.5%,#ffb070 71.0%,#ffb372 74.4%,#ffb674 77.9%,#ffb774 81.4%,#ffb774 84.9%,#ffb774 88.4%,#ffb774 91.9%,#ffb774 95.4%,#ffb674 98.9%)"></div><div style="top:126.90px;height:5.89px;background:linear-gradient(90deg,#41291a 1.1%,#4d301f 4.6%,#583723 8.1%,#643e28 11.6%,#6f452c 15.1%,#7a4c31 18.6%,#865435 22.1%,#935c3b 25.6%,#a06440 29.0%,#ad6c45 32.5%,#b9744a 36.0%,#c67c4f 39.5%,#d48454 43.0%,#e38e5a 46.5%,#f19760 50.0%,#fd9e64 53.5%,#ffa569 57.0%,#ffab6d 60.5%,#ffae6f 64.0%,#ffb171 67.5%,#ffb472 71.0%,#ffb674 74.4%,#ffb976 77.9%,#ffba76 81.4%,#ffba76 84.9%,#ffba76 88.4%,#ffba76 91.9%,#ffba76 95.4%,#ffba76 98.9%)"></div><div style="top:132.19px;height:5.89px;background:linear-gradient(90deg,#452b1b 1.1%,#503220 4.6%,#5c3924 8.1%,#674029 11.6%,#72482e 15.1%,#7e4f32 18.6%,#8a5637 22.1%,#975e3c 25.6%,#a46741 29.0%,#b26f47 32.5%,#bf774c 36.0%,#cb7f51 39.5%,#d98756 43.0%,#e7905c 46.5%,#f59962 50.0%,#ffa066 53.5%,#ffa76a 57.0%,#ffad6e 60.5%,#ffb070 64.0%,#ffb372 67.5%,#ffb674 71.0%,#ffb875 74.4%,#ffbb77 77.9%,#ffbc77 81.4%,#ffbc77 84.9%,#ffbc77 88.4%,#ffbc77 91.9%,#ffbc77 95.4%,#ffbc77 98.9%)"></div><div style="top:137.47px;height:5.89px;background:linear-gradient(90deg,#482d1d 1.1%,#543421 4.6%,#5f3b26 8.1%,#6a432a 11.6%,#764a2f 15.1%,#815133 18.6%,#8e5838 22.1%,#9b613e 25.6%,#a96a43 29.0%,#b67249 32.5%,#c47a4e 36.0%,#d08253 39.5%,#de8a58 43.0%,#eb935e 46.5%,#f99c63 50.0%,#ffa368 53.5%,#ffaa6c 57.0%,#ffaf70 60.5%,#ffb272 64.0%,#ffb573 67.5%,#ffb875 71.0%,#ffba77 74.4%,#ffbc78 77.9%,#ffbd78 81.4%,#ffbd78 84.9%,#ffbd78 88.4%,#ffbd78 91.9%,#ffbd78 95.4%,#ffbd78 98.9%)"></div><div style="top:142.76px;height:5.89px;background:linear-gradient(90deg,#4c2f1e 1.1%,#573623 4.6%,#633e27 8.1%,#6e452c 11.6%,#794c30 15.1%,#855335 18.6%,#915b3a 22.1%,#9f643f 25.6%,#ad6c45 29.0%,#bb754b 32.5%,#c97e50 36.0%,#d58555 39.5%,#e28e5a 43.0%,#f0965f 46.5%,#fd9e65 50.0%,#ffa669 53.5%,#ffac6d 57.0%,#ffb171 60.5%,#ffb473 64.0%,#ffb875 67.5%,#ffba77 71.0%,#ffbc78 74.4%,#ffbe79 77.9%,#ffbf79 81.4%,#ffbf79 84.9%,#ffbf79 88.4%,#ffbf79 91.9%,#ffbf79 95.4%,#ffbf79 98.9%)"></div><div style="top:148.05px;height:5.89px;background:linear-gradient(90deg,#4f3120 1.1%,#5b3924 4.6%,#664029 8.1%,#71472d 11.6%,#7d4e32 15.1%,#885536 18.6%,#955d3b 22.1%,#a36641 25.6%,#b26f47 29.0%,#c0784d 32.5%,#ce8152 36.0%,#da8857 39.5%,#e7915c 43.0%,#f49961 46.5%,#ffa167 50.0%,#ffa86b 53.5%,#ffae6f 57.0%,#ffb372 60.5%,#ffb774 64.0%,#ffba76 67.5%,#ffbc78 71.0%,#ffbe79 74.4%,#ffbf7a 77.9%,#ffc07a 81.4%,#ffc07a 84.9%,#ffc07a 88.4%,#ffc07a 91.9%,#ffc07a 95.4%,#ffc07a 98.9%)"></div><div style="top:153.34px;height:5.89px;background:linear-gradient(90deg,#533421 1.1%,#5e3b25 4.6%,#69422a 8.1%,#75492e 11.6%,#805033 15.1%,#8c5738 18.6%,#985f3d 22.1%,#a76943 25.6%,#b67249 29.0%,#c57b4f 32.5%,#d48454 36.0%,#e08c59 39.5%,#ec945e 43.0%,#f99c63 46.5%,#ffa468 50.0%,#ffab6d 53.5%,#ffb170 57.0%,#ffb574 60.5%,#ffb976 64.0%,#ffbc78 67.5%,#ffbf79 71.0%,#ffc07a 74.4%,#ffc17b 77.9%,#ffc27b 81.4%,#ffc27b 84.9%,#ffc27b 88.4%,#ffc27b 91.9%,#ffc27b 95.4%,#ffc27b 98.9%)"></div><div style="top:158.62px;height:5.89px;background:linear-gradient(90deg,#563622 1.1%,#613d27 4.6%,#6d442b 8.1%,#784b30 11.6%,#845234 15.1%,#8f5939 18.6%,#9c613e 22.1%,#ab6b44 25.6%,#bb754a 29.0%,#ca7e51 32.5%,#d98856 36.0%,#e58f5b 39.5%,#f19760 43.0%,#fd9e65 46.5%,#ffa66a 50.0%,#ffad6e 53.5%,#ffb372 57.0%,#ffb775 60.5%,#ffbb77 64.0%,#ffbf79 67.5%,#ffc17b 71.0%,#ffc27b 74.4%,#ffc37c 77.9%,#ffc37c 81.4%,#ffc37c 84.9%,#ffc37c 88.4%,#ffc37c 91.9%,#ffc37c 95.4%,#ffc37c 98.9%)"></div><div style="top:163.91px;height:5.89px;background:linear-gradient(90deg,#593824 1.1%,#653f28 4.6%,#70462d 8.1%,#7c4d31 11.6%,#875436 15.1%,#925b3a 18.6%,#a06440 22.1%,#af6e46 25.6%,#bf784c 29.0%,#cf8252 32.5%,#de8b58 36.0%,#ea925d 39.5%,#f69a62 43.0%,#ffa167 46.5%,#ffa96b 50.0%,#ffb070 53.5%,#ffb573 57.0%,#ffba76 60.5%,#ffbd78 64.0%,#ffc17b 67.5%,#ffc37c 71.0%,#ffc47d 74.4%,#ffc47d 77.9%,#ffc57d 81.4%,#ffc57d 84.9%,#ffc57d 88.4%,#ffc57d 91.9%,#ffc57d 95.4%,#ffc57d 98.9%)"></div><div style="top:169.20px;height:5.89px;background:linear-gradient(90deg,#5d3a25 1.1%,#68412a 4.6%,#74482e 8.1%,#7f4f33 11.6%,#8a5737 15.1%,#965e3c 18.6%,#a36641 22.1%,#b47047 25.6%,#c47a4e 29.0%,#d48554 32.5%,#e48e5b 36.0%,#ef955f 39.5%,#fb9d64 43.0%,#ffa468 46.5%,#ffab6d 50.0%,#ffb272 53.5%,#ffb875 57.0%,#ffbc78 60.5%,#ffbf7a 64.0%,#ffc37c 67.5%,#ffc57e 71.0%,#ffc67e 74.4%,#ffc67e 77.9%,#ffc67e 81.4%,#ffc67e 84.9%,#ffc67e 88.4%,#ffc67e 91.9%,#ffc67e 95.4%,#ffc67e 98.9%)"></div><div style="top:174.49px;height:5.89px;background:linear-gradient(90deg,#603c26 1.1%,#6b432b 4.6%,#774a2f 8.1%,#825134 11.6%,#8d5838 15.1%,#995f3d 18.6%,#a66842 22.1%,#b77249 25.6%,#c87d4f 29.0%,#d88756 32.5%,#e8915c 36.0%,#f39861 39.5%,#ff9f65 43.0%,#ffa66a 46.5%,#ffad6e 50.0%,#ffb573 53.5%,#ffba76 57.0%,#ffbd79 60.5%,#ffc17b 64.0%,#ffc57d 67.5%,#ffc77f 71.0%,#ffc77f 74.4%,#ffc77f 77.9%,#ffc77f 81.4%,#ffc77f 84.9%,#ffc77f 88.4%,#ffc77f 91.9%,#ffc77f 95.4%,#ffc77f 98.9%)"></div><div style="top:179.77px;height:5.89px;background:linear-gradient(90deg,#613d27 1.1%,#6c442b 4.6%,#784b30 8.1%,#835234 11.6%,#8f5939 15.1%,#9a603d 18.6%,#a76943 22.1%,#b87349 25.6%,#c97d50 29.0%,#d98856 32.5%,#e9915d 36.0%,#f49861 39.5%,#ffa066 43.0%,#ffa76a 46.5%,#ffae6f 50.0%,#ffb573 53.5%,#ffba76 57.0%,#ffbe79 60.5%,#ffc27b 64.0%,#ffc57e 67.5%,#ffc77f 71.0%,#ffc77f 74.4%,#ffc77f 77.9%,#ffc77f 81.4%,#ffc77f 84.9%,#ffc77f 88.4%,#ffc77f 91.9%,#ffc77f 95.4%,#ffc77f 98.9%)"></div><div style="top:185.06px;height:5.89px;background:linear-gradient(90deg,#623d27 1.1%,#6e442c 4.6%,#794c30 8.1%,#845335 11.6%,#905a39 15.1%,#9b613e 18.6%,#a86943 22.1%,#b9744a 25.6%,#c97e50 29.0%,#da8857 32.5%,#e9925d 36.0%,#f59961 39.5%,#ffa066 43.0%,#ffa76a 46.5%,#ffae6f 50.0%,#ffb574 53.5%,#ffba77 57.0%,#ffbe79 60.5%,#ffc27c 64.0%,#ffc57e 67.5%,#ffc77f 71.0%,#ffc77f 74.4%,#ffc77f 77.9%,#ffc77f 81.4%,#ffc77f 84.9%,#ffc77f 88.4%,#ffc77f 91.9%,#ffc77f 95.4%,#ffc77f 98.9%)"></div><div style="top:190.35px;height:5.89px;background:linear-gradient(90deg,#633e28 1.1%,#6f452c 4.6%,#7a4c31 8.1%,#855335 11.6%,#915b3a 15.1%,#9c623e 18.6%,#aa6a43 22.1%,#ba744a 25.6%,#ca7e51 29.0%,#db8957 32.5%,#ea925d 36.0%,#f59962 39.5%,#ffa066 43.0%,#ffa86b 46.5%,#ffaf6f 50.0%,#ffb674 53.5%,#ffbb77 57.0%,#ffbf79 60.5%,#ffc27c 64.0%,#ffc57e 67.5%,#ffc77f 71.0%,#ffc77f 74.4%,#ffc77f 77.9%,#ffc77f 81.4%,#ffc77f 84.9%,#ffc77f 88.4%,#ffc77f 91.9%,#ffc77f 95.4%,#ffc77f 98.9%)"></div><div style="top:195.64px;height:5.89px;background:linear-gradient(90deg,#643f28 1.1%,#70462d 4.6%,#7b4d31 8.1%,#875436 11.6%,#925b3a 15.1%,#9d623f 18.6%,#ab6b44 22.1%,#bb754a 25.6%,#cb7f51 29.0%,#db8957 32.5%,#eb935d 36.0%,#f69a62 39.5%,#ffa166 43.0%,#ffa86b 46.5%,#ffaf70 50.0%,#ffb674 53.5%,#ffbb77 57.0%,#ffbf7a 60.5%,#ffc37c 64.0%,#ffc67e 67.5%,#ffc77f 71.0%,#ffc77f 74.4%,#ffc77f 77.9%,#ffc77f 81.4%,#ffc77f 84.9%,#ffc77f 88.4%,#ffc77f 91.9%,#ffc77f 95.4%,#ffc77f 98.9%)"></div><div style="top:200.92px;height:5.89px;background:linear-gradient(90deg,#663f28 1.1%,#71472d 4.6%,#7c4e31 8.1%,#885536 11.6%,#935c3b 15.1%,#9e633f 18.6%,#ac6b44 22.1%,#bc754b 25.6%,#cc8051 29.0%,#dc8a58 32.5%,#eb935e 36.0%,#f79a62 39.5%,#ffa167 43.0%,#ffa86b 46.5%,#ffb070 50.0%,#ffb774 53.5%,#ffbc78 57.0%,#ffbf7a 60.5%,#ffc37c 64.0%,#ffc67e 67.5%,#ffc77f 71.0%,#ffc77f 74.4%,#ffc77f 77.9%,#ffc77f 81.4%,#ffc77f 84.9%,#ffc77f 88.4%,#ffc77f 91.9%,#ffc77f 95.4%,#ffc77f 98.9%)"></div><div style="top:206.21px;height:5.89px;background:linear-gradient(90deg,#674029 1.1%,#72472d 4.6%,#7d4e32 8.1%,#895636 11.6%,#945d3b 15.1%,#a06440 18.6%,#ad6c45 22.1%,#bd764b 25.6%,#cd8052 29.0%,#dd8a58 32.5%,#ec945e 36.0%,#f79b62 39.5%,#ffa267 43.0%,#ffa96c 46.5%,#ffb070 50.0%,#ffb775 53.5%,#ffbc78 57.0%,#ffc07a 60.5%,#ffc47d 64.0%,#ffc67e 67.5%,#ffc77f 71.0%,#ffc77f 74.4%,#ffc77f 77.9%,#ffc77f 81.4%,#ffc77f 84.9%,#ffc77f 88.4%,#ffc77f 91.9%,#ffc77f 95.4%,#ffc77f 98.9%)"></div><div style="top:211.50px;height:5.89px;background:linear-gradient(90deg,#684129 1.1%,#73482e 4.6%,#7f4f32 8.1%,#8a5637 11.6%,#955d3b 15.1%,#a16440 18.6%,#ae6d45 22.1%,#be774c 25.6%,#ce8152 29.0%,#de8b58 32.5%,#ed945e 36.0%,#f89b63 39.5%,#ffa267 43.0%,#ffa96c 46.5%,#ffb070 50.0%,#ffb875 53.5%,#ffbd78 57.0%,#ffc07a 60.5%,#ffc47d 64.0%,#ffc67e 67.5%,#ffc77f 71.0%,#ffc77f 74.4%,#ffc77f 77.9%,#ffc77f 81.4%,#ffc77f 84.9%,#ffc77f 88.4%,#ffc77f 91.9%,#ffc77f 95.4%,#ffc77f 98.9%)"></div><div style="top:216.79px;height:5.89px;background:linear-gradient(90deg,#69422a 1.1%,#74492e 4.6%,#805033 8.1%,#8b5737 11.6%,#975e3c 15.1%,#a26540 18.6%,#af6d46 22.1%,#bf774c 25.6%,#cf8152 29.0%,#de8b59 32.5%,#ed945e 36.0%,#f99b63 39.5%,#ffa368 43.0%,#ffaa6c 46.5%,#ffb171 50.0%,#ffb875 53.5%,#ffbd78 57.0%,#ffc17b 60.5%,#ffc47d 64.0%,#ffc67e 67.5%,#ffc77f 71.0%,#ffc77f 74.4%,#ffc77f 77.9%,#ffc77f 81.4%,#ffc77f 84.9%,#ffc77f 88.4%,#ffc77f 91.9%,#ffc77f 95.4%,#ffc77f 98.9%)"></div><div style="top:222.07px;height:5.89px;background:linear-gradient(90deg,#6a422a 1.1%,#76492f 4.6%,#815133 8.1%,#8c5838 11.6%,#985f3c 15.1%,#a36641 18.6%,#b06e46 22.1%,#c0784c 25.6%,#d08253 29.0%,#df8c59 32.5%,#ee955f 36.0%,#f99c63 39.5%,#ffa368 43.0%,#ffaa6c 46.5%,#ffb171 50.0%,#ffb875 53.5%,#ffbd79 57.0%,#ffc17b 60.5%,#ffc57d 64.0%,#ffc67e 67.5%,#ffc77f 71.0%,#ffc77f 74.4%,#ffc77f 77.9%,#ffc77f 81.4%,#ffc77f 84.9%,#ffc77f 88.4%,#ffc77f 91.9%,#ffc77f 95.4%,#ffc77f 98.9%)"></div><div style="top:227.36px;height:5.89px;background:linear-gradient(90deg,#6b432b 1.1%,#774a2f 4.6%,#825134 8.1%,#8d5838 11.6%,#99603d 15.1%,#a46741 18.6%,#b16f47 22.1%,#c1794d 25.6%,#d08253 29.0%,#e08c59 32.5%,#ef955f 36.0%,#fa9c64 39.5%,#ffa368 43.0%,#ffab6d 46.5%,#ffb271 50.0%,#ffb976 53.5%,#ffbe79 57.0%,#ffc17b 60.5%,#ffc57d 64.0%,#ffc77e 67.5%,#ffc77f 71.0%,#ffc77f 74.4%,#ffc77f 77.9%,#ffc77f 81.4%,#ffc77f 84.9%,#ffc77f 88.4%,#ffc77f 91.9%,#ffc77f 95.4%,#ffc77f 98.9%)"></div><div style="top:232.65px;height:5.89px;background:linear-gradient(90deg,#6c442b 1.1%,#784b30 4.6%,#835234 8.1%,#8f5939 11.6%,#9a603d 15.1%,#a56742 18.6%,#b26f47 22.1%,#c2794d 25.6%,#d18353 29.0%,#e18c59 32.5%,#ef965f 36.0%,#fb9d64 39.5%,#ffa468 43.0%,#ffab6d 46.5%,#ffb271 50.0%,#ffb976 53.5%,#ffbe79 57.0%,#ffc27b 60.5%,#ffc57e 64.0%,#ffc77f 67.5%,#ffc77f 71.0%,#ffc77f 74.4%,#ffc77f 77.9%,#ffc77f 81.4%,#ffc77f 84.9%,#ffc77f 88.4%,#ffc77f 91.9%,#ffc77f 95.4%,#ffc77f 98.9%)"></div><div style="top:237.94px;height:5.89px;background:linear-gradient(90deg,#6e442c 1.1%,#794c30 4.6%,#845335 8.1%,#905a39 11.6%,#9b613e 15.1%,#a66842 18.6%,#b37047 22.1%,#c37a4e 25.6%,#d28354 29.0%,#e28d5a 32.5%,#f09660 36.0%,#fc9d64 39.5%,#ffa469 43.0%,#ffab6d 46.5%,#ffb372 50.0%,#ffba76 53.5%,#ffbf79 57.0%,#ffc27c 60.5%,#ffc67e 64.0%,#ffc77f 67.5%,#ffc77f 71.0%,#ffc77f 74.4%,#ffc77f 77.9%,#ffc77f 81.4%,#ffc77f 84.9%,#ffc77f 88.4%,#ffc77f 91.9%,#ffc77f 95.4%,#ffc77f 98.9%)"></div><div style="top:243.22px;height:5.89px;background:linear-gradient(90deg,#6f452c 1.1%,#7a4c31 4.6%,#855335 8.1%,#915b3a 11.6%,#9c623e 15.1%,#a86943 18.6%,#b57148 22.1%,#c47a4e 25.6%,#d38454 29.0%,#e28d5a 32.5%,#f19760 36.0%,#fc9e64 39.5%,#ffa569 43.0%,#ffac6d 46.5%,#ffb372 50.0%,#ffba77 53.5%,#ffbf7a 57.0%,#ffc37c 60.5%,#ffc67e 64.0%,#ffc77f 67.5%,#ffc77f 71.0%,#ffc77f 74.4%,#ffc77f 77.9%,#ffc77f 81.4%,#ffc77f 84.9%,#ffc77f 88.4%,#ffc77f 91.9%,#ffc77f 95.4%,#ffc77f 98.9%)"></div><div style="top:248.51px;height:5.89px;background:linear-gradient(90deg,#70462c 1.1%,#7b4d31 4.6%,#865435 8.1%,#925b3a 11.6%,#9d623f 15.1%,#a86943 18.6%,#b57148 22.1%,#c57b4e 25.6%,#d48454 29.0%,#e38e5a 32.5%,#f19760 36.0%,#fd9e65 39.5%,#ffa569 43.0%,#ffac6e 46.5%,#ffb372 50.0%,#ffba77 53.5%,#ffbf7a 57.0%,#ffc37c 60.5%,#ffc67e 64.0%,#ffc77f 67.5%,#ffc77f 71.0%,#ffc77f 74.4%,#ffc77f 77.9%,#ffc77f 81.4%,#ffc77f 84.9%,#ffc77f 88.4%,#ffc77f 91.9%,#ffc77f 95.4%,#ffc77f 98.9%)"></div></div></div>
<div style="position:absolute;left:574.5px;top:1633.5px;width:825.3px;height:49.1px;background:linear-gradient(90deg,#ffc77f 0%,#ff9f65 20%,#000 100%)"></div>
<svg width="1896" height="1796" viewBox="0 0 1896 1796" xmlns="http://www.w3.org/2000/svg">
<rect x="1525.4" y="55.3" width="351.1" height="245.0" fill="none" stroke="#000" stroke-width="2.4"/>
<line x1="1701.0" y1="55.3" x2="1701.0" y2="60.3" stroke="#000" stroke-width="2.2"/>
<line x1="1701.0" y1="300.3" x2="1701.0" y2="295.3" stroke="#000" stroke-width="2.2"/>
<line x1="1525.4" y1="177.8" x2="1530.4" y2="177.8" stroke="#000" stroke-width="2.2"/>
<line x1="1876.5" y1="177.8" x2="1871.5" y2="177.8" stroke="#000" stroke-width="2.2"/>
<text x="1512.7" y="333.0" font-size="28.3">10<tspan font-size="17.0" dy="-10.2">-2</tspan></text>
<text x="1681.0" y="333.0" font-size="28.3">10<tspan font-size="17.0" dy="-10.2">0</tspan></text>
<text x="1850.6" y="333.0" font-size="28.3">10<tspan font-size="17.0" dy="-10.2">2</tspan></text>
<text x="1515.5" y="66.4" font-size="28.3" text-anchor="end">10<tspan font-size="17.0" dy="-10.2">2</tspan></text>
<text x="1515.5" y="188.0" font-size="28.3" text-anchor="end">10<tspan font-size="17.0" dy="-10.2">0</tspan></text>
<text x="1515.5" y="310.9" font-size="28.3" text-anchor="end">10<tspan font-size="17.0" dy="-10.2">-2</tspan></text>
<text x="1493.2" y="33.7" font-size="47.0">B</text>
<text x="1697.1" y="372.6" font-size="29.5" font-family='"Liberation Serif", "Times New Roman", serif'>β<tspan font-size="17.7" dy="9.4">δ</tspan></text>
<text x="0.0" y="0.0" font-size="29.5" text-anchor="middle" font-family='"Liberation Serif", "Times New Roman", serif' transform="translate(1466.7 179.5) rotate(-90)">θ<tspan font-size="17.7" dy="9.3">δ</tspan></text>
<rect x="1051.5" y="448.0" width="353.5" height="245.8" fill="none" stroke="#000" stroke-width="2.4"/>
<line x1="1228.2" y1="448.0" x2="1228.2" y2="453.0" stroke="#000" stroke-width="2.2"/>
<line x1="1228.2" y1="693.8" x2="1228.2" y2="688.8" stroke="#000" stroke-width="2.2"/>
<line x1="1051.5" y1="570.9" x2="1056.5" y2="570.9" stroke="#000" stroke-width="2.2"/>
<line x1="1405.0" y1="570.9" x2="1400.0" y2="570.9" stroke="#000" stroke-width="2.2"/>
<text x="1038.9" y="726.8" font-size="28.3">10<tspan font-size="17.0" dy="-10.2">-2</tspan></text>
<text x="1205.0" y="726.8" font-size="28.3">10<tspan font-size="17.0" dy="-10.2">0</tspan></text>
<text x="1383.0" y="726.8" font-size="28.3">10<tspan font-size="17.0" dy="-10.2">2</tspan></text>
<text x="1041.7" y="460.4" font-size="28.3" text-anchor="end">10<tspan font-size="17.0" dy="-10.2">2</tspan></text>
<text x="1041.7" y="583.0" font-size="28.3" text-anchor="end">10<tspan font-size="17.0" dy="-10.2">0</tspan></text>
<text x="1041.7" y="704.4" font-size="28.3" text-anchor="end">10<tspan font-size="17.0" dy="-10.2">-2</tspan></text>
<text x="1009.6" y="427.9" font-size="47.0">C</text>
<text x="1220.3" y="762.4" font-size="29.5" font-family='"Liberation Serif", "Times New Roman", serif'>θ<tspan font-size="17.7" dy="9.4">δ</tspan></text>
<text x="0.0" y="0.0" font-size="29.5" text-anchor="middle" font-family='"Liberation Serif", "Times New Roman", serif' transform="translate(993.5 556.7) rotate(-90)"><tspan font-style="italic">ω δ</tspan></text>
<rect x="1525.4" y="448.3" width="351.1" height="245.3" fill="none" stroke="#000" stroke-width="2.4"/>
<line x1="1701.0" y1="448.3" x2="1701.0" y2="453.3" stroke="#000" stroke-width="2.2"/>
<line x1="1701.0" y1="693.6" x2="1701.0" y2="688.6" stroke="#000" stroke-width="2.2"/>
<line x1="1525.4" y1="571.0" x2="1530.4" y2="571.0" stroke="#000" stroke-width="2.2"/>
<line x1="1876.5" y1="571.0" x2="1871.5" y2="571.0" stroke="#000" stroke-width="2.2"/>
<text x="1516.4" y="729.0" font-size="28.3">10<tspan font-size="17.0" dy="-10.2">-2</tspan></text>
<text x="1683.5" y="729.0" font-size="28.3">10<tspan font-size="17.0" dy="-10.2">0</tspan></text>
<text x="1854.3" y="729.0" font-size="28.3">10<tspan font-size="17.0" dy="-10.2">2</tspan></text>
<text x="1519.7" y="462.3" font-size="28.3" text-anchor="end">10<tspan font-size="17.0" dy="-10.2">2</tspan></text>
<text x="1519.7" y="584.0" font-size="28.3" text-anchor="end">10<tspan font-size="17.0" dy="-10.2">0</tspan></text>
<text x="1519.7" y="705.6" font-size="28.3" text-anchor="end">10<tspan font-size="17.0" dy="-10.2">-2</tspan></text>
<text x="1488.8" y="427.9" font-size="47.0">D</text>
<text x="1694.2" y="763.6" font-size="29.5" font-family='"Liberation Serif", "Times New Roman", serif'>β<tspan font-size="17.7" dy="9.4">δ</tspan></text>
<text x="0.0" y="0.0" font-size="29.5" text-anchor="middle" font-family='"Liberation Serif", "Times New Roman", serif' transform="translate(1475.5 561.3) rotate(-90)"><tspan font-style="italic">ω δ</tspan></text>
<rect x="572.3" y="841.2" width="353.4" height="245.3" fill="none" stroke="#000" stroke-width="2.4"/>
<line x1="749.0" y1="841.2" x2="749.0" y2="846.2" stroke="#000" stroke-width="2.2"/>
<line x1="749.0" y1="1086.5" x2="749.0" y2="1081.5" stroke="#000" stroke-width="2.2"/>
<line x1="572.3" y1="963.9" x2="577.3" y2="963.9" stroke="#000" stroke-width="2.2"/>
<line x1="925.7" y1="963.9" x2="920.7" y2="963.9" stroke="#000" stroke-width="2.2"/>
<text x="557.6" y="1119.4" font-size="28.3">10<tspan font-size="17.0" dy="-10.2">-2</tspan></text>
<text x="725.0" y="1119.4" font-size="28.3">10<tspan font-size="17.0" dy="-10.2">0</tspan></text>
<text x="901.7" y="1119.4" font-size="28.3">10<tspan font-size="17.0" dy="-10.2">2</tspan></text>
<text x="561.7" y="853.1" font-size="28.3" text-anchor="end">10<tspan font-size="17.0" dy="-10.2">2</tspan></text>
<text x="561.7" y="974.4" font-size="28.3" text-anchor="end">10<tspan font-size="17.0" dy="-10.2">0</tspan></text>
<text x="561.7" y="1095.7" font-size="28.3" text-anchor="end">10<tspan font-size="17.0" dy="-10.2">-2</tspan></text>
<text x="535.8" y="819.0" font-size="47.0">E</text>
<text x="733.9" y="1148.0" font-size="29.5" font-family='"Liberation Serif", "Times New Roman", serif'>ω<tspan font-size="17.7" dy="9.4">δ</tspan></text>
<text x="0.0" y="0.0" font-size="29.5" text-anchor="middle" font-family='"Liberation Serif", "Times New Roman", serif' transform="translate(500.3 961.9) rotate(-90)">γ<tspan font-size="17.7" dy="9.3">δ</tspan></text>
<rect x="1051.5" y="841.2" width="353.5" height="245.3" fill="none" stroke="#000" stroke-width="2.4"/>
<line x1="1228.2" y1="841.2" x2="1228.2" y2="846.2" stroke="#000" stroke-width="2.2"/>
<line x1="1228.2" y1="1086.5" x2="1228.2" y2="1081.5" stroke="#000" stroke-width="2.2"/>
<line x1="1051.5" y1="963.9" x2="1056.5" y2="963.9" stroke="#000" stroke-width="2.2"/>
<line x1="1405.0" y1="963.9" x2="1400.0" y2="963.9" stroke="#000" stroke-width="2.2"/>
<text x="1038.9" y="1119.4" font-size="28.3">10<tspan font-size="17.0" dy="-10.2">-2</tspan></text>
<text x="1206.3" y="1119.4" font-size="28.3">10<tspan font-size="17.0" dy="-10.2">0</tspan></text>
<text x="1384.3" y="1119.4" font-size="28.3">10<tspan font-size="17.0" dy="-10.2">2</tspan></text>
<text x="1041.7" y="853.1" font-size="28.3" text-anchor="end">10<tspan font-size="17.0" dy="-10.2">2</tspan></text>
<text x="1041.7" y="974.4" font-size="28.3" text-anchor="end">10<tspan font-size="17.0" dy="-10.2">0</tspan></text>
<text x="1041.7" y="1095.7" font-size="28.3" text-anchor="end">10<tspan font-size="17.0" dy="-10.2">-2</tspan></text>
<text x="1017.1" y="816.5" font-size="47.0">F</text>
<text x="1216.4" y="1160.3" font-size="29.5" font-family='"Liberation Serif", "Times New Roman", serif'>θ<tspan font-size="17.7" dy="9.4">δ</tspan></text>
<text x="0.0" y="0.0" font-size="29.5" text-anchor="middle" font-family='"Liberation Serif", "Times New Roman", serif' transform="translate(985.5 961.0) rotate(-90)">γ<tspan font-size="17.7" dy="9.3">δ</tspan></text>
<rect x="1525.8" y="841.3" width="350.7" height="245.2" fill="none" stroke="#000" stroke-width="2.4"/>
<line x1="1701.2" y1="841.3" x2="1701.2" y2="846.3" stroke="#000" stroke-width="2.2"/>
<line x1="1701.2" y1="1086.5" x2="1701.2" y2="1081.5" stroke="#000" stroke-width="2.2"/>
<line x1="1525.8" y1="963.9" x2="1530.8" y2="963.9" stroke="#000" stroke-width="2.2"/>
<line x1="1876.5" y1="963.9" x2="1871.5" y2="963.9" stroke="#000" stroke-width="2.2"/>
<text x="1523.7" y="1121.4" font-size="28.3">10<tspan font-size="17.0" dy="-10.2">-2</tspan></text>
<text x="1689.6" y="1121.4" font-size="28.3">10<tspan font-size="17.0" dy="-10.2">0</tspan></text>
<text x="1855.5" y="1121.4" font-size="28.3">10<tspan font-size="17.0" dy="-10.2">2</tspan></text>
<text x="1523.7" y="856.0" font-size="28.3" text-anchor="end">10<tspan font-size="17.0" dy="-10.2">2</tspan></text>
<text x="1523.7" y="976.4" font-size="28.3" text-anchor="end">10<tspan font-size="17.0" dy="-10.2">0</tspan></text>
<text x="1523.7" y="1098.1" font-size="28.3" text-anchor="end">10<tspan font-size="17.0" dy="-10.2">-2</tspan></text>
<text x="1484.2" y="819.4" font-size="47.0">G</text>
<text x="1689.3" y="1152.4" font-size="29.5" font-family='"Liberation Serif", "Times New Roman", serif'>β<tspan font-size="17.7" dy="9.4">δ</tspan></text>
<text x="0.0" y="0.0" font-size="29.5" text-anchor="middle" font-family='"Liberation Serif", "Times New Roman", serif' transform="translate(1473.5 959.0) rotate(-90)">γ<tspan font-size="17.7" dy="9.3">δ</tspan></text>
<rect x="94.4" y="1231.6" width="352.4" height="244.9" fill="none" stroke="#000" stroke-width="2.4"/>
<line x1="270.6" y1="1231.6" x2="270.6" y2="1236.6" stroke="#000" stroke-width="2.2"/>
<line x1="270.6" y1="1476.5" x2="270.6" y2="1471.5" stroke="#000" stroke-width="2.2"/>
<line x1="94.4" y1="1354.0" x2="99.4" y2="1354.0" stroke="#000" stroke-width="2.2"/>
<line x1="446.8" y1="1354.0" x2="441.8" y2="1354.0" stroke="#000" stroke-width="2.2"/>
<text x="85.2" y="1511.9" font-size="28.3">10<tspan font-size="17.0" dy="-10.2">-2</tspan></text>
<text x="253.6" y="1511.9" font-size="28.3">10<tspan font-size="17.0" dy="-10.2">0</tspan></text>
<text x="428.3" y="1511.9" font-size="28.3">10<tspan font-size="17.0" dy="-10.2">2</tspan></text>
<text x="90.6" y="1246.1" font-size="28.3" text-anchor="end">10<tspan font-size="17.0" dy="-10.2">2</tspan></text>
<text x="90.6" y="1368.9" font-size="28.3" text-anchor="end">10<tspan font-size="17.0" dy="-10.2">0</tspan></text>
<text x="90.6" y="1489.1" font-size="28.3" text-anchor="end">10<tspan font-size="17.0" dy="-10.2">-2</tspan></text>
<text x="59.2" y="1216.0" font-size="47.0">H</text>
<text x="259.8" y="1551.6" font-size="29.5" font-family='"Liberation Serif", "Times New Roman", serif'>γ<tspan font-size="17.7" dy="9.4">δ</tspan></text>
<text x="0.0" y="0.0" font-size="29.5" text-anchor="middle" font-family='"Liberation Serif", "Times New Roman", serif' transform="translate(21.1 1355.0) rotate(-90)">τ<tspan font-size="17.5" font-family='"Liberation Sans", Arial, sans-serif' dy="9.3">Ln</tspan></text>
<rect x="572.3" y="1234.6" width="353.4" height="245.3" fill="none" stroke="#000" stroke-width="2.4"/>
<line x1="749.0" y1="1234.6" x2="749.0" y2="1239.6" stroke="#000" stroke-width="2.2"/>
<line x1="749.0" y1="1479.9" x2="749.0" y2="1474.9" stroke="#000" stroke-width="2.2"/>
<line x1="572.3" y1="1357.2" x2="577.3" y2="1357.2" stroke="#000" stroke-width="2.2"/>
<line x1="925.7" y1="1357.2" x2="920.7" y2="1357.2" stroke="#000" stroke-width="2.2"/>
<text x="564.2" y="1512.0" font-size="28.3">10<tspan font-size="17.0" dy="-10.2">-2</tspan></text>
<text x="731.6" y="1512.0" font-size="28.3">10<tspan font-size="17.0" dy="-10.2">0</tspan></text>
<text x="908.3" y="1512.0" font-size="28.3">10<tspan font-size="17.0" dy="-10.2">2</tspan></text>
<text x="568.3" y="1247.0" font-size="28.3" text-anchor="end">10<tspan font-size="17.0" dy="-10.2">2</tspan></text>
<text x="568.3" y="1368.3" font-size="28.3" text-anchor="end">10<tspan font-size="17.0" dy="-10.2">0</tspan></text>
<text x="568.3" y="1489.6" font-size="28.3" text-anchor="end">10<tspan font-size="17.0" dy="-10.2">-2</tspan></text>
<text x="545.2" y="1213.0" font-size="47.0">I</text>
<text x="737.7" y="1545.0" font-size="29.5" font-family='"Liberation Serif", "Times New Roman", serif'>ω<tspan font-size="17.7" dy="9.4">δ</tspan></text>
<text x="0.0" y="0.0" font-size="29.5" text-anchor="middle" font-family='"Liberation Serif", "Times New Roman", serif' transform="translate(516.1 1356.5) rotate(-90)">τ<tspan font-size="17.5" font-family='"Liberation Sans", Arial, sans-serif' dy="9.3">Ln</tspan></text>
<rect x="1051.5" y="1232.0" width="353.5" height="247.9" fill="none" stroke="#000" stroke-width="2.4"/>
<line x1="1228.2" y1="1232.0" x2="1228.2" y2="1237.0" stroke="#000" stroke-width="2.2"/>
<line x1="1228.2" y1="1479.9" x2="1228.2" y2="1474.9" stroke="#000" stroke-width="2.2"/>
<line x1="1051.5" y1="1356.0" x2="1056.5" y2="1356.0" stroke="#000" stroke-width="2.2"/>
<line x1="1405.0" y1="1356.0" x2="1400.0" y2="1356.0" stroke="#000" stroke-width="2.2"/>
<text x="1041.5" y="1512.0" font-size="28.3">10<tspan font-size="17.0" dy="-10.2">-2</tspan></text>
<text x="1207.7" y="1512.0" font-size="28.3">10<tspan font-size="17.0" dy="-10.2">0</tspan></text>
<text x="1385.7" y="1512.0" font-size="28.3">10<tspan font-size="17.0" dy="-10.2">2</tspan></text>
<text x="1045.6" y="1247.0" font-size="28.3" text-anchor="end">10<tspan font-size="17.0" dy="-10.2">2</tspan></text>
<text x="1045.6" y="1368.3" font-size="28.3" text-anchor="end">10<tspan font-size="17.0" dy="-10.2">0</tspan></text>
<text x="1045.6" y="1489.6" font-size="28.3" text-anchor="end">10<tspan font-size="17.0" dy="-10.2">-2</tspan></text>
<text x="1015.8" y="1216.8" font-size="47.0">J</text>
<text x="1223.0" y="1547.7" font-size="29.5" font-family='"Liberation Serif", "Times New Roman", serif'>θ<tspan font-size="17.7" dy="9.4">δ</tspan></text>
<text x="0.0" y="0.0" font-size="29.5" text-anchor="middle" font-family='"Liberation Serif", "Times New Roman", serif' transform="translate(996.1 1355.0) rotate(-90)">τ<tspan font-size="17.5" font-family='"Liberation Sans", Arial, sans-serif' dy="9.3">Ln</tspan></text>
<rect x="1525.4" y="1233.7" width="351.1" height="245.8" fill="none" stroke="#000" stroke-width="2.4"/>
<line x1="1701.0" y1="1233.7" x2="1701.0" y2="1238.7" stroke="#000" stroke-width="2.2"/>
<line x1="1701.0" y1="1479.5" x2="1701.0" y2="1474.5" stroke="#000" stroke-width="2.2"/>
<line x1="1525.4" y1="1356.6" x2="1530.4" y2="1356.6" stroke="#000" stroke-width="2.2"/>
<line x1="1876.5" y1="1356.6" x2="1871.5" y2="1356.6" stroke="#000" stroke-width="2.2"/>
<text x="1517.6" y="1511.4" font-size="28.3">10<tspan font-size="17.0" dy="-10.2">-2</tspan></text>
<text x="1683.5" y="1511.4" font-size="28.3">10<tspan font-size="17.0" dy="-10.2">0</tspan></text>
<text x="1854.3" y="1511.4" font-size="28.3">10<tspan font-size="17.0" dy="-10.2">2</tspan></text>
<text x="1520.4" y="1246.0" font-size="28.3" text-anchor="end">10<tspan font-size="17.0" dy="-10.2">2</tspan></text>
<text x="1520.4" y="1367.7" font-size="28.3" text-anchor="end">10<tspan font-size="17.0" dy="-10.2">0</tspan></text>
<text x="1520.4" y="1488.1" font-size="28.3" text-anchor="end">10<tspan font-size="17.0" dy="-10.2">-2</tspan></text>
<text x="1487.8" y="1213.2" font-size="47.0">K</text>
<text x="1694.2" y="1544.9" font-size="29.5" font-family='"Liberation Serif", "Times New Roman", serif'>β<tspan font-size="17.7" dy="9.4">δ</tspan></text>
<text x="0.0" y="0.0" font-size="29.5" text-anchor="middle" font-family='"Liberation Serif", "Times New Roman", serif' transform="translate(1466.2 1354.7) rotate(-90)">τ<tspan font-size="17.5" font-family='"Liberation Sans", Arial, sans-serif' dy="9.3">Ln</tspan></text>
<rect x="574.5" y="1633.5" width="825.3" height="49.1" fill="none" stroke="#555" stroke-width="1.6"/>
<text x="551.4" y="1623.2" font-size="26.0">0.5</text>
<line x1="693.3" y1="1633.5" x2="693.3" y2="1639.5" stroke="#555" stroke-width="1.6"/>
<text x="668.6" y="1623.2" font-size="26.0">1.0</text>
<line x1="811.0" y1="1633.5" x2="811.0" y2="1639.5" stroke="#555" stroke-width="1.6"/>
<text x="786.4" y="1623.2" font-size="26.0">1.5</text>
<line x1="928.8" y1="1633.5" x2="928.8" y2="1639.5" stroke="#555" stroke-width="1.6"/>
<text x="904.5" y="1623.2" font-size="26.0">2.0</text>
<line x1="1046.5" y1="1633.5" x2="1046.5" y2="1639.5" stroke="#555" stroke-width="1.6"/>
<text x="1022.3" y="1623.2" font-size="26.0">2.5</text>
<line x1="1164.3" y1="1633.5" x2="1164.3" y2="1639.5" stroke="#555" stroke-width="1.6"/>
<text x="1140.2" y="1623.2" font-size="26.0">3.0</text>
<line x1="1282.0" y1="1633.5" x2="1282.0" y2="1639.5" stroke="#555" stroke-width="1.6"/>
<text x="1257.9" y="1623.2" font-size="26.0">3.5</text>
<text x="1375.9" y="1623.2" font-size="26.0">4.0</text>
<text x="817.8" y="1773.8" font-size="69.5" textLength="350.8" lengthAdjust="spacingAndGlyphs">Maximal EC</text>
<text x="1167.5" y="1794.0" font-size="37.3">50</text>
<clipPath id="c3"><rect x="1053.7" y="53.3" width="348.8" height="247.0"/></clipPath>
<g clip-path="url(#c3)">
<path d="M1053.7 300.3 L1053.9 300.3 L1054.2 300.3 L1054.7 300.3 L1055.2 300.3 L1055.8 300.3 L1056.5 300.3 L1057.2 300.3 L1058.0 300.3 L1058.8 300.3 L1059.7 300.3 L1060.6 300.3 L1061.6 300.3 L1062.6 300.3 L1063.6 300.3 L1064.7 300.3 L1065.9 300.3 L1067.0 300.3 L1068.2 300.3 L1069.4 300.3 L1070.7 300.3 L1072.0 300.3 L1073.3 300.2 L1074.6 300.2 L1076.0 300.2 L1077.4 300.2 L1078.9 300.2 L1080.3 300.2 L1081.8 300.2 L1083.4 300.2 L1084.9 300.2 L1086.5 300.2 L1088.1 300.2 L1089.7 300.1 L1091.3 300.1 L1093.0 300.1 L1094.7 300.1 L1096.4 300.1 L1098.2 300.1 L1099.9 300.0 L1101.7 300.0 L1103.5 300.0 L1105.4 300.0 L1107.2 300.0 L1109.1 300.0 L1111.0 299.9 L1112.9 299.9 L1114.9 299.9 L1116.8 299.9 L1118.8 299.8 L1120.8 299.8 L1122.9 299.8 L1124.9 299.8 L1127.0 299.7 L1129.0 299.7 L1131.1 299.7 L1133.3 299.6 L1135.4 299.6 L1137.6 299.6 L1139.7 299.5 L1141.9 299.5 L1144.2 299.5 L1146.4 299.4 L1148.6 299.4 L1150.9 299.4 L1153.2 299.3 L1155.5 299.3 L1157.8 299.3 L1160.2 299.2 L1162.5 299.2 L1164.9 299.2 L1167.3 299.1 L1169.7 299.1 L1172.1 299.0 L1174.6 299.0 L1177.0 298.9 L1179.5 298.9 L1182.0 298.9 L1184.5 298.8 L1187.0 298.8 L1189.6 298.7 L1192.1 298.7 L1194.7 298.6 L1197.3 298.6 L1199.9 298.5 L1202.5 298.5 L1205.1 298.5 L1207.8 298.4 L1210.4 298.4 L1213.1 298.3 L1215.8 298.3 L1218.5 298.2 L1221.2 298.2 L1224.0 298.1 L1226.7 298.1 L1229.5 298.0 L1232.3 298.0 L1235.1 297.9 L1237.9 297.9 L1240.7 297.8 L1243.6 297.8 L1246.4 297.7 L1249.3 297.7 L1252.2 297.6 L1255.1 297.6 L1258.0 297.5 L1260.9 297.5 L1263.8 297.4 L1266.8 297.4 L1269.8 297.3 L1272.7 297.2 L1275.7 297.2 L1278.7 297.1 L1281.8 297.1 L1284.8 297.0 L1287.8 297.0 L1290.9 296.9 L1294.0 296.9 L1297.1 296.8 L1300.2 296.8 L1303.3 296.7 L1306.4 296.7 L1309.5 296.6 L1312.7 296.6 L1315.9 296.5 L1319.0 296.5 L1322.2 296.4 L1325.4 296.4 L1328.7 296.3 L1331.9 296.3 L1335.1 296.2 L1338.4 296.2 L1341.6 296.1 L1344.9 296.1 L1348.2 296.0 L1351.5 296.0 L1354.8 295.9 L1358.2 295.9 L1361.5 295.8 L1364.8 295.8 L1368.2 295.7 L1371.6 295.7 L1375.0 295.6 L1378.4 295.6 L1381.8 295.5 L1385.2 295.5 L1388.6 295.4 L1392.1 295.4 L1395.5 295.3 L1399.0 295.3 L1402.5 295.2" stroke="#3a52a3" stroke-width="4.80" fill="none" stroke-linejoin="round" stroke-linecap="round"/>
<path d="M1053.7 300.3 L1053.9 300.3 L1054.2 300.3 L1054.7 300.3 L1055.2 300.3 L1055.8 300.3 L1056.5 300.3 L1057.2 300.3 L1058.0 300.3 L1058.8 300.3 L1059.7 300.3 L1060.6 300.3 L1061.6 300.2 L1062.6 300.2 L1063.6 300.2 L1064.7 300.2 L1065.9 300.2 L1067.0 300.2 L1068.2 300.1 L1069.4 300.1 L1070.7 300.1 L1072.0 300.0 L1073.3 300.0 L1074.6 299.9 L1076.0 299.9 L1077.4 299.9 L1078.9 299.8 L1080.3 299.7 L1081.8 299.7 L1083.4 299.6 L1084.9 299.5 L1086.5 299.5 L1088.1 299.4 L1089.7 299.3 L1091.3 299.2 L1093.0 299.1 L1094.7 299.1 L1096.4 299.0 L1098.2 298.9 L1099.9 298.8 L1101.7 298.6 L1103.5 298.5 L1105.4 298.4 L1107.2 298.3 L1109.1 298.2 L1111.0 298.0 L1112.9 297.9 L1114.9 297.8 L1116.8 297.6 L1118.8 297.5 L1120.8 297.3 L1122.9 297.2 L1124.9 297.0 L1127.0 296.9 L1129.0 296.7 L1131.1 296.5 L1133.3 296.3 L1135.4 296.2 L1137.6 296.0 L1139.7 295.8 L1141.9 295.6 L1144.2 295.4 L1146.4 295.2 L1148.6 295.0 L1150.9 294.8 L1153.2 294.6 L1155.5 294.4 L1157.8 294.2 L1160.2 294.0 L1162.5 293.8 L1164.9 293.5 L1167.3 293.3 L1169.7 293.1 L1172.1 292.9 L1174.6 292.6 L1177.0 292.4 L1179.5 292.2 L1182.0 291.9 L1184.5 291.7 L1187.0 291.4 L1189.6 291.2 L1192.1 291.0 L1194.7 290.7 L1197.3 290.5 L1199.9 290.2 L1202.5 289.9 L1205.1 289.7 L1207.8 289.4 L1210.4 289.2 L1213.1 288.9 L1215.8 288.7 L1218.5 288.4 L1221.2 288.1 L1224.0 287.9 L1226.7 287.6 L1229.5 287.3 L1232.3 287.1 L1235.1 286.8 L1237.9 286.6 L1240.7 286.3 L1243.6 286.0 L1246.4 285.8 L1249.3 285.5 L1252.2 285.2 L1255.1 285.0 L1258.0 284.7 L1260.9 284.4 L1263.8 284.2 L1266.8 283.9 L1269.8 283.6 L1272.7 283.4 L1275.7 283.1 L1278.7 282.8 L1281.8 282.6 L1284.8 282.3 L1287.8 282.0 L1290.9 281.8 L1294.0 281.5 L1297.1 281.3 L1300.2 281.0 L1303.3 280.7 L1306.4 280.5 L1309.5 280.2 L1312.7 280.0 L1315.9 279.7 L1319.0 279.5 L1322.2 279.2 L1325.4 279.0 L1328.7 278.7 L1331.9 278.5 L1335.1 278.2 L1338.4 278.0 L1341.6 277.8 L1344.9 277.5 L1348.2 277.3 L1351.5 277.0 L1354.8 276.8 L1358.2 276.6 L1361.5 276.3 L1364.8 276.1 L1368.2 275.9 L1371.6 275.7 L1375.0 275.4 L1378.4 275.2 L1381.8 275.0 L1385.2 274.8 L1388.6 274.6 L1392.1 274.4 L1395.5 274.1 L1399.0 273.9 L1402.5 273.7" stroke="#3d9ad6" stroke-width="4.80" fill="none" stroke-linejoin="round" stroke-linecap="round"/>
<path d="M1053.7 300.3 L1053.9 300.3 L1054.2 300.3 L1054.7 300.3 L1055.2 300.3 L1055.8 300.3 L1056.5 300.3 L1057.2 300.2 L1058.0 300.2 L1058.8 300.2 L1059.7 300.1 L1060.6 300.1 L1061.6 300.0 L1062.6 299.9 L1063.6 299.9 L1064.7 299.8 L1065.9 299.7 L1067.0 299.5 L1068.2 299.4 L1069.4 299.2 L1070.7 299.1 L1072.0 298.9 L1073.3 298.7 L1074.6 298.5 L1076.0 298.2 L1077.4 298.0 L1078.9 297.7 L1080.3 297.4 L1081.8 297.1 L1083.4 296.8 L1084.9 296.5 L1086.5 296.1 L1088.1 295.8 L1089.7 295.4 L1091.3 295.0 L1093.0 294.5 L1094.7 294.1 L1096.4 293.6 L1098.2 293.2 L1099.9 292.7 L1101.7 292.1 L1103.5 291.6 L1105.4 291.1 L1107.2 290.5 L1109.1 289.9 L1111.0 289.3 L1112.9 288.7 L1114.9 288.0 L1116.8 287.4 L1118.8 286.7 L1120.8 286.1 L1122.9 285.4 L1124.9 284.7 L1127.0 283.9 L1129.0 283.2 L1131.1 282.5 L1133.3 281.7 L1135.4 280.9 L1137.6 280.1 L1139.7 279.3 L1141.9 278.5 L1144.2 277.7 L1146.4 276.9 L1148.6 276.0 L1150.9 275.2 L1153.2 274.3 L1155.5 273.5 L1157.8 272.6 L1160.2 271.7 L1162.5 270.8 L1164.9 270.0 L1167.3 269.1 L1169.7 268.2 L1172.1 267.3 L1174.6 266.3 L1177.0 265.4 L1179.5 264.5 L1182.0 263.6 L1184.5 262.7 L1187.0 261.7 L1189.6 260.8 L1192.1 259.9 L1194.7 259.0 L1197.3 258.0 L1199.9 257.1 L1202.5 256.2 L1205.1 255.2 L1207.8 254.3 L1210.4 253.4 L1213.1 252.5 L1215.8 251.5 L1218.5 250.6 L1221.2 249.7 L1224.0 248.8 L1226.7 247.9 L1229.5 247.0 L1232.3 246.1 L1235.1 245.2 L1237.9 244.3 L1240.7 243.4 L1243.6 242.5 L1246.4 241.6 L1249.3 240.8 L1252.2 239.9 L1255.1 239.1 L1258.0 238.2 L1260.9 237.4 L1263.8 236.5 L1266.8 235.7 L1269.8 234.9 L1272.7 234.1 L1275.7 233.3 L1278.7 232.5 L1281.8 231.7 L1284.8 230.9 L1287.8 230.1 L1290.9 229.3 L1294.0 228.6 L1297.1 227.8 L1300.2 227.1 L1303.3 226.4 L1306.4 225.6 L1309.5 224.9 L1312.7 224.2 L1315.9 223.5 L1319.0 222.8 L1322.2 222.2 L1325.4 221.5 L1328.7 220.8 L1331.9 220.2 L1335.1 219.6 L1338.4 218.9 L1341.6 218.3 L1344.9 217.7 L1348.2 217.1 L1351.5 216.5 L1354.8 215.9 L1358.2 215.4 L1361.5 214.8 L1364.8 214.2 L1368.2 213.7 L1371.6 213.2 L1375.0 212.6 L1378.4 212.1 L1381.8 211.6 L1385.2 211.1 L1388.6 210.6 L1392.1 210.1 L1395.5 209.7 L1399.0 209.2 L1402.5 208.7" stroke="#63c7dc" stroke-width="4.80" fill="none" stroke-linejoin="round" stroke-linecap="round"/>
<path d="M1053.7 300.3 L1053.9 300.3 L1054.2 300.3 L1054.7 300.3 L1055.2 300.3 L1055.8 300.3 L1056.5 300.3 L1057.2 300.3 L1058.0 300.3 L1058.8 300.3 L1059.7 300.2 L1060.6 300.2 L1061.6 300.1 L1062.6 300.1 L1063.6 300.0 L1064.7 299.9 L1065.9 299.8 L1067.0 299.6 L1068.2 299.4 L1069.4 299.2 L1070.7 299.0 L1072.0 298.7 L1073.3 298.3 L1074.6 297.9 L1076.0 297.5 L1077.4 297.0 L1078.9 296.5 L1080.3 295.9 L1081.8 295.2 L1083.4 294.5 L1084.9 293.7 L1086.5 292.9 L1088.1 292.0 L1089.7 291.0 L1091.3 290.0 L1093.0 288.8 L1094.7 287.6 L1096.4 286.4 L1098.2 285.0 L1099.9 283.6 L1101.7 282.2 L1103.5 280.6 L1105.4 279.0 L1107.2 277.3 L1109.1 275.6 L1111.0 273.8 L1112.9 271.9 L1114.9 269.9 L1116.8 268.0 L1118.8 265.9 L1120.8 263.8 L1122.9 261.6 L1124.9 259.5 L1127.0 257.2 L1129.0 254.9 L1131.1 252.6 L1133.3 250.2 L1135.4 247.8 L1137.6 245.4 L1139.7 243.0 L1141.9 240.5 L1144.2 238.0 L1146.4 235.5 L1148.6 233.0 L1150.9 230.5 L1153.2 227.9 L1155.5 225.4 L1157.8 222.9 L1160.2 220.4 L1162.5 217.8 L1164.9 215.3 L1167.3 212.8 L1169.7 210.3 L1172.1 207.9 L1174.6 205.4 L1177.0 203.0 L1179.5 200.6 L1182.0 198.2 L1184.5 195.9 L1187.0 193.5 L1189.6 191.3 L1192.1 189.0 L1194.7 186.8 L1197.3 184.6 L1199.9 182.5 L1202.5 180.4 L1205.1 178.3 L1207.8 176.3 L1210.4 174.3 L1213.1 172.3 L1215.8 170.4 L1218.5 168.6 L1221.2 166.8 L1224.0 165.0 L1226.7 163.3 L1229.5 161.6 L1232.3 160.0 L1235.1 158.4 L1237.9 156.9 L1240.7 155.4 L1243.6 153.9 L1246.4 152.5 L1249.3 151.1 L1252.2 149.8 L1255.1 148.5 L1258.0 147.3 L1260.9 146.1 L1263.8 144.9 L1266.8 143.8 L1269.8 142.7 L1272.7 141.7 L1275.7 140.7 L1278.7 139.7 L1281.8 138.8 L1284.8 137.9 L1287.8 137.0 L1290.9 136.2 L1294.0 135.4 L1297.1 134.7 L1300.2 133.9 L1303.3 133.2 L1306.4 132.6 L1309.5 131.9 L1312.7 131.3 L1315.9 130.7 L1319.0 130.1 L1322.2 129.6 L1325.4 129.1 L1328.7 128.6 L1331.9 128.1 L1335.1 127.7 L1338.4 127.3 L1341.6 126.8 L1344.9 126.5 L1348.2 126.1 L1351.5 125.7 L1354.8 125.4 L1358.2 125.1 L1361.5 124.8 L1364.8 124.5 L1368.2 124.2 L1371.6 124.0 L1375.0 123.7 L1378.4 123.5 L1381.8 123.3 L1385.2 123.1 L1388.6 122.9 L1392.1 122.7 L1395.5 122.5 L1399.0 122.3 L1402.5 122.2" stroke="#7dc99a" stroke-width="4.80" fill="none" stroke-linejoin="round" stroke-linecap="round"/>
<path d="M1053.7 300.3 L1053.9 300.3 L1054.2 300.3 L1054.7 300.3 L1055.2 300.3 L1055.8 300.3 L1056.5 300.3 L1057.2 300.2 L1058.0 300.2 L1058.8 300.1 L1059.7 299.9 L1060.6 299.7 L1061.6 299.5 L1062.6 299.2 L1063.6 298.8 L1064.7 298.3 L1065.9 297.6 L1067.0 296.9 L1068.2 296.1 L1069.4 295.1 L1070.7 294.0 L1072.0 292.7 L1073.3 291.2 L1074.6 289.6 L1076.0 287.9 L1077.4 285.9 L1078.9 283.8 L1080.3 281.5 L1081.8 279.0 L1083.4 276.4 L1084.9 273.6 L1086.5 270.6 L1088.1 267.5 L1089.7 264.2 L1091.3 260.8 L1093.0 257.2 L1094.7 253.5 L1096.4 249.7 L1098.2 245.7 L1099.9 241.7 L1101.7 237.6 L1103.5 233.4 L1105.4 229.1 L1107.2 224.8 L1109.1 220.4 L1111.0 216.0 L1112.9 211.6 L1114.9 207.1 L1116.8 202.7 L1118.8 198.3 L1120.8 193.9 L1122.9 189.5 L1124.9 185.2 L1127.0 180.9 L1129.0 176.6 L1131.1 172.5 L1133.3 168.4 L1135.4 164.3 L1137.6 160.4 L1139.7 156.5 L1141.9 152.8 L1144.2 149.1 L1146.4 145.6 L1148.6 142.1 L1150.9 138.7 L1153.2 135.5 L1155.5 132.3 L1157.8 129.3 L1160.2 126.4 L1162.5 123.5 L1164.9 120.8 L1167.3 118.2 L1169.7 115.7 L1172.1 113.4 L1174.6 111.1 L1177.0 108.9 L1179.5 106.8 L1182.0 104.8 L1184.5 103.0 L1187.0 101.2 L1189.6 99.5 L1192.1 97.9 L1194.7 96.3 L1197.3 94.9 L1199.9 93.5 L1202.5 92.2 L1205.1 91.0 L1207.8 89.9 L1210.4 88.8 L1213.1 87.8 L1215.8 86.9 L1218.5 86.0 L1221.2 85.1 L1224.0 84.4 L1226.7 83.6 L1229.5 82.9 L1232.3 82.3 L1235.1 81.7 L1237.9 81.2 L1240.7 80.6 L1243.6 80.2 L1246.4 79.7 L1249.3 79.3 L1252.2 78.9 L1255.1 78.6 L1258.0 78.3 L1260.9 77.9 L1263.8 77.7 L1266.8 77.4 L1269.8 77.2 L1272.7 77.0 L1275.7 76.7 L1278.7 76.6 L1281.8 76.4 L1284.8 76.2 L1287.8 76.1 L1290.9 76.0 L1294.0 75.8 L1297.1 75.7 L1300.2 75.6 L1303.3 75.5 L1306.4 75.4 L1309.5 75.4 L1312.7 75.3 L1315.9 75.2 L1319.0 75.2 L1322.2 75.1 L1325.4 75.1 L1328.7 75.0 L1331.9 75.0 L1335.1 74.9 L1338.4 74.9 L1341.6 74.9 L1344.9 74.8 L1348.2 74.8 L1351.5 74.8 L1354.8 74.8 L1358.2 74.8 L1361.5 74.7 L1364.8 74.7 L1368.2 74.7 L1371.6 74.7 L1375.0 74.7 L1378.4 74.7 L1381.8 74.7 L1385.2 74.7 L1388.6 74.7 L1392.1 74.7 L1395.5 74.6 L1399.0 74.6 L1402.5 74.6" stroke="#afd13f" stroke-width="4.80" fill="none" stroke-linejoin="round" stroke-linecap="round"/>
<path d="M1053.7 300.3 L1053.9 300.3 L1054.2 300.3 L1054.7 300.2 L1055.2 300.1 L1055.8 300.0 L1056.5 299.7 L1057.2 299.3 L1058.0 298.8 L1058.8 298.2 L1059.7 297.3 L1060.6 296.3 L1061.6 295.1 L1062.6 293.7 L1063.6 292.1 L1064.7 290.3 L1065.9 288.3 L1067.0 286.0 L1068.2 283.5 L1069.4 280.8 L1070.7 277.9 L1072.0 274.8 L1073.3 271.4 L1074.6 267.9 L1076.0 264.2 L1077.4 260.3 L1078.9 256.3 L1080.3 252.1 L1081.8 247.8 L1083.4 243.4 L1084.9 238.8 L1086.5 234.2 L1088.1 229.5 L1089.7 224.7 L1091.3 219.8 L1093.0 215.0 L1094.7 210.1 L1096.4 205.2 L1098.2 200.3 L1099.9 195.4 L1101.7 190.5 L1103.5 185.7 L1105.4 180.9 L1107.2 176.2 L1109.1 171.5 L1111.0 166.9 L1112.9 162.4 L1114.9 158.0 L1116.8 153.7 L1118.8 149.4 L1120.8 145.3 L1122.9 141.3 L1124.9 137.4 L1127.0 133.6 L1129.0 130.0 L1131.1 126.4 L1133.3 123.0 L1135.4 119.7 L1137.6 116.5 L1139.7 113.4 L1141.9 110.5 L1144.2 107.7 L1146.4 105.0 L1148.6 102.4 L1150.9 99.9 L1153.2 97.5 L1155.5 95.3 L1157.8 93.1 L1160.2 91.1 L1162.5 89.1 L1164.9 87.3 L1167.3 85.6 L1169.7 83.9 L1172.1 82.3 L1174.6 80.9 L1177.0 79.5 L1179.5 78.1 L1182.0 76.9 L1184.5 75.7 L1187.0 74.6 L1189.6 73.6 L1192.1 72.6 L1194.7 71.7 L1197.3 70.9 L1199.9 70.1 L1202.5 69.3 L1205.1 68.6 L1207.8 68.0 L1210.4 67.4 L1213.1 66.8 L1215.8 66.3 L1218.5 65.8 L1221.2 65.3 L1224.0 64.9 L1226.7 64.5 L1229.5 64.1 L1232.3 63.8 L1235.1 63.5 L1237.9 63.2 L1240.7 62.9 L1243.6 62.7 L1246.4 62.5 L1249.3 62.2 L1252.2 62.1 L1255.1 61.9 L1258.0 61.7 L1260.9 61.6 L1263.8 61.4 L1266.8 61.3 L1269.8 61.2 L1272.7 61.1 L1275.7 61.0 L1278.7 60.9 L1281.8 60.8 L1284.8 60.7 L1287.8 60.6 L1290.9 60.6 L1294.0 60.5 L1297.1 60.5 L1300.2 60.4 L1303.3 60.4 L1306.4 60.3 L1309.5 60.3 L1312.7 60.3 L1315.9 60.2 L1319.0 60.2 L1322.2 60.2 L1325.4 60.2 L1328.7 60.1 L1331.9 60.1 L1335.1 60.1 L1338.4 60.1 L1341.6 60.1 L1344.9 60.1 L1348.2 60.1 L1351.5 60.0 L1354.8 60.0 L1358.2 60.0 L1361.5 60.0 L1364.8 60.0 L1368.2 60.0 L1371.6 60.0 L1375.0 60.0 L1378.4 60.0 L1381.8 60.0 L1385.2 60.0 L1388.6 60.0 L1392.1 60.0 L1395.5 60.0 L1399.0 60.0 L1402.5 60.0" stroke="#f2e81c" stroke-width="4.80" fill="none" stroke-linejoin="round" stroke-linecap="round"/>
<path d="M1053.7 300.3 L1053.9 300.3 L1054.2 300.3 L1054.7 300.1 L1055.2 299.9 L1055.8 299.6 L1056.5 299.1 L1057.2 298.4 L1058.0 297.5 L1058.8 296.4 L1059.7 295.0 L1060.6 293.5 L1061.6 291.6 L1062.6 289.5 L1063.6 287.2 L1064.7 284.6 L1065.9 281.7 L1067.0 278.6 L1068.2 275.3 L1069.4 271.7 L1070.7 267.9 L1072.0 264.0 L1073.3 259.8 L1074.6 255.4 L1076.0 250.9 L1077.4 246.3 L1078.9 241.5 L1080.3 236.6 L1081.8 231.6 L1083.4 226.5 L1084.9 221.4 L1086.5 216.3 L1088.1 211.1 L1089.7 205.9 L1091.3 200.7 L1093.0 195.5 L1094.7 190.3 L1096.4 185.2 L1098.2 180.2 L1099.9 175.2 L1101.7 170.2 L1103.5 165.4 L1105.4 160.7 L1107.2 156.0 L1109.1 151.5 L1111.0 147.0 L1112.9 142.7 L1114.9 138.5 L1116.8 134.5 L1118.8 130.5 L1120.8 126.7 L1122.9 123.1 L1124.9 119.5 L1127.0 116.1 L1129.0 112.8 L1131.1 109.7 L1133.3 106.7 L1135.4 103.8 L1137.6 101.0 L1139.7 98.4 L1141.9 95.9 L1144.2 93.5 L1146.4 91.2 L1148.6 89.0 L1150.9 87.0 L1153.2 85.0 L1155.5 83.2 L1157.8 81.5 L1160.2 79.8 L1162.5 78.3 L1164.9 76.8 L1167.3 75.4 L1169.7 74.2 L1172.1 72.9 L1174.6 71.8 L1177.0 70.7 L1179.5 69.7 L1182.0 68.8 L1184.5 67.9 L1187.0 67.1 L1189.6 66.3 L1192.1 65.6 L1194.7 65.0 L1197.3 64.3 L1199.9 63.8 L1202.5 63.2 L1205.1 62.7 L1207.8 62.3 L1210.4 61.8 L1213.1 61.5 L1215.8 61.1 L1218.5 60.8 L1221.2 60.4 L1224.0 60.2 L1226.7 59.9 L1229.5 59.6 L1232.3 59.4 L1235.1 59.2 L1237.9 59.0 L1240.7 58.8 L1243.6 58.7 L1246.4 58.5 L1249.3 58.4 L1252.2 58.3 L1255.1 58.2 L1258.0 58.1 L1260.9 58.0 L1263.8 57.9 L1266.8 57.8 L1269.8 57.7 L1272.7 57.7 L1275.7 57.6 L1278.7 57.5 L1281.8 57.5 L1284.8 57.5 L1287.8 57.4 L1290.9 57.4 L1294.0 57.3 L1297.1 57.3 L1300.2 57.3 L1303.3 57.3 L1306.4 57.2 L1309.5 57.2 L1312.7 57.2 L1315.9 57.2 L1319.0 57.2 L1322.2 57.2 L1325.4 57.1 L1328.7 57.1 L1331.9 57.1 L1335.1 57.1 L1338.4 57.1 L1341.6 57.1 L1344.9 57.1 L1348.2 57.1 L1351.5 57.1 L1354.8 57.1 L1358.2 57.1 L1361.5 57.1 L1364.8 57.1 L1368.2 57.1 L1371.6 57.1 L1375.0 57.1 L1378.4 57.0 L1381.8 57.0 L1385.2 57.0 L1388.6 57.0 L1392.1 57.0 L1395.5 57.0 L1399.0 57.0 L1402.5 57.0" stroke="#f7941d" stroke-width="4.80" fill="none" stroke-linejoin="round" stroke-linecap="round"/>
<path d="M1053.7 300.3 L1053.9 300.3 L1054.2 300.2 L1054.7 300.1 L1055.2 299.9 L1055.8 299.5 L1056.5 298.9 L1057.2 298.2 L1058.0 297.2 L1058.8 296.0 L1059.7 294.5 L1060.6 292.8 L1061.6 290.8 L1062.6 288.5 L1063.6 286.0 L1064.7 283.2 L1065.9 280.1 L1067.0 276.7 L1068.2 273.2 L1069.4 269.3 L1070.7 265.3 L1072.0 261.0 L1073.3 256.6 L1074.6 252.0 L1076.0 247.2 L1077.4 242.2 L1078.9 237.2 L1080.3 232.1 L1081.8 226.8 L1083.4 221.5 L1084.9 216.2 L1086.5 210.8 L1088.1 205.4 L1089.7 200.0 L1091.3 194.7 L1093.0 189.3 L1094.7 184.0 L1096.4 178.8 L1098.2 173.7 L1099.9 168.6 L1101.7 163.6 L1103.5 158.7 L1105.4 153.9 L1107.2 149.3 L1109.1 144.7 L1111.0 140.3 L1112.9 136.1 L1114.9 131.9 L1116.8 127.9 L1118.8 124.1 L1120.8 120.3 L1122.9 116.7 L1124.9 113.3 L1127.0 110.0 L1129.0 106.8 L1131.1 103.8 L1133.3 100.9 L1135.4 98.2 L1137.6 95.6 L1139.7 93.1 L1141.9 90.7 L1144.2 88.5 L1146.4 86.4 L1148.6 84.3 L1150.9 82.4 L1153.2 80.6 L1155.5 79.0 L1157.8 77.4 L1160.2 75.9 L1162.5 74.5 L1164.9 73.1 L1167.3 71.9 L1169.7 70.8 L1172.1 69.7 L1174.6 68.7 L1177.0 67.7 L1179.5 66.8 L1182.0 66.0 L1184.5 65.2 L1187.0 64.5 L1189.6 63.9 L1192.1 63.3 L1194.7 62.7 L1197.3 62.2 L1199.9 61.7 L1202.5 61.2 L1205.1 60.8 L1207.8 60.4 L1210.4 60.1 L1213.1 59.8 L1215.8 59.5 L1218.5 59.2 L1221.2 58.9 L1224.0 58.7 L1226.7 58.5 L1229.5 58.3 L1232.3 58.1 L1235.1 57.9 L1237.9 57.8 L1240.7 57.6 L1243.6 57.5 L1246.4 57.4 L1249.3 57.3 L1252.2 57.2 L1255.1 57.1 L1258.0 57.0 L1260.9 57.0 L1263.8 56.9 L1266.8 56.8 L1269.8 56.8 L1272.7 56.7 L1275.7 56.7 L1278.7 56.7 L1281.8 56.6 L1284.8 56.6 L1287.8 56.6 L1290.9 56.5 L1294.0 56.5 L1297.1 56.5 L1300.2 56.5 L1303.3 56.5 L1306.4 56.4 L1309.5 56.4 L1312.7 56.4 L1315.9 56.4 L1319.0 56.4 L1322.2 56.4 L1325.4 56.4 L1328.7 56.4 L1331.9 56.4 L1335.1 56.3 L1338.4 56.3 L1341.6 56.3 L1344.9 56.3 L1348.2 56.3 L1351.5 56.3 L1354.8 56.3 L1358.2 56.3 L1361.5 56.3 L1364.8 56.3 L1368.2 56.3 L1371.6 56.3 L1375.0 56.3 L1378.4 56.3 L1381.8 56.3 L1385.2 56.3 L1388.6 56.3 L1392.1 56.3 L1395.5 56.3 L1399.0 56.3 L1402.5 56.3" stroke="#f15a22" stroke-width="4.80" fill="none" stroke-linejoin="round" stroke-linecap="round"/>
</g>
<rect x="1053.7" y="56.3" width="348.8" height="244.0" fill="none" stroke="#000" stroke-width="2.3"/>
<line x1="1123.5" y1="300.3" x2="1123.5" y2="295.3" stroke="#000" stroke-width="2.4"/>
<line x1="1123.5" y1="56.3" x2="1123.5" y2="61.3" stroke="#000" stroke-width="2.4"/>
<line x1="1193.2" y1="300.3" x2="1193.2" y2="295.3" stroke="#000" stroke-width="2.4"/>
<line x1="1193.2" y1="56.3" x2="1193.2" y2="61.3" stroke="#000" stroke-width="2.4"/>
<line x1="1263.0" y1="300.3" x2="1263.0" y2="295.3" stroke="#000" stroke-width="2.4"/>
<line x1="1263.0" y1="56.3" x2="1263.0" y2="61.3" stroke="#000" stroke-width="2.4"/>
<line x1="1332.7" y1="300.3" x2="1332.7" y2="295.3" stroke="#000" stroke-width="2.4"/>
<line x1="1332.7" y1="56.3" x2="1332.7" y2="61.3" stroke="#000" stroke-width="2.4"/>
<line x1="1402.5" y1="275.9" x2="1397.5" y2="275.9" stroke="#000" stroke-width="2.4"/>
<line x1="1402.5" y1="251.5" x2="1397.5" y2="251.5" stroke="#000" stroke-width="2.4"/>
<line x1="1053.7" y1="251.5" x2="1058.7" y2="251.5" stroke="#000" stroke-width="2.4"/>
<line x1="1402.5" y1="227.1" x2="1397.5" y2="227.1" stroke="#000" stroke-width="2.4"/>
<line x1="1402.5" y1="202.7" x2="1397.5" y2="202.7" stroke="#000" stroke-width="2.4"/>
<line x1="1053.7" y1="202.7" x2="1058.7" y2="202.7" stroke="#000" stroke-width="2.4"/>
<line x1="1402.5" y1="178.3" x2="1397.5" y2="178.3" stroke="#000" stroke-width="2.4"/>
<line x1="1402.5" y1="153.9" x2="1397.5" y2="153.9" stroke="#000" stroke-width="2.4"/>
<line x1="1053.7" y1="153.9" x2="1058.7" y2="153.9" stroke="#000" stroke-width="2.4"/>
<line x1="1402.5" y1="129.5" x2="1397.5" y2="129.5" stroke="#000" stroke-width="2.4"/>
<line x1="1402.5" y1="105.1" x2="1397.5" y2="105.1" stroke="#000" stroke-width="2.4"/>
<line x1="1053.7" y1="105.1" x2="1058.7" y2="105.1" stroke="#000" stroke-width="2.4"/>
<line x1="1402.5" y1="80.7" x2="1397.5" y2="80.7" stroke="#000" stroke-width="2.4"/>
<text x="1024.9" y="306.7" font-size="29.0">0</text>
<text x="1000.9" y="257.9" font-size="29.0">0.2</text>
<text x="1000.4" y="209.1" font-size="29.0">0.4</text>
<text x="1000.7" y="160.3" font-size="29.0">0.6</text>
<text x="1000.7" y="111.5" font-size="29.0">0.8</text>
<text x="1008.2" y="62.1" font-size="29.0">1</text>
<text x="1043.5" y="333.0" font-size="29.0">0</text>
<text x="1106.3" y="333.0" font-size="29.0">20</text>
<text x="1176.6" y="333.0" font-size="29.0">40</text>
<text x="1248.1" y="333.0" font-size="29.0">60</text>
<text x="1318.8" y="333.0" font-size="29.0">80</text>
<text x="1388.5" y="333.0" font-size="29.0">100</text>
<text x="1206.1" y="365.2" font-size="29.0">Time</text>
<text x="0.0" y="0.0" font-size="31.0" text-anchor="middle" textLength="178" lengthAdjust="spacingAndGlyphs" transform="translate(988.3 170.8) rotate(-90)">Output Y/Y<tspan font-size="17.5" dy="10">MAX</tspan></text>
<text x="965.8" y="33.8" font-size="47.0">A.iii</text>
<clipPath id="c4"><rect x="90.6" y="448.9" width="355.4" height="243.0"/></clipPath>
<g clip-path="url(#c4)">
<path d="M135.0 691.9 L137.2 691.9 L139.5 691.9 L141.7 691.9 L143.9 691.9 L146.1 691.9 L148.4 691.9 L150.6 691.9 L152.8 691.9 L155.0 691.9 L157.2 691.9 L159.5 691.9 L161.7 691.9 L163.9 691.9 L166.1 691.9 L168.3 691.9 L170.6 691.9 L172.8 691.9 L175.0 691.9 L177.2 691.9 L179.4 691.9 L181.7 691.9 L183.9 691.9 L186.1 691.9 L188.3 691.9 L190.6 691.9 L192.8 691.9 L195.0 691.9 L197.2 691.9 L199.4 691.9 L201.7 691.9 L203.9 691.9 L206.1 691.9 L208.3 691.9 L210.5 691.9 L212.8 691.9 L215.0 691.9 L217.2 691.9 L219.4 691.9 L221.7 691.9 L223.9 691.8 L226.1 691.8 L228.3 691.8 L230.5 691.8 L232.8 691.8 L235.0 691.8 L237.2 691.8 L239.4 691.8 L241.6 691.8 L243.9 691.7 L246.1 691.7 L248.3 691.7 L250.5 691.7 L252.8 691.6 L255.0 691.6 L257.2 691.6 L259.4 691.5 L261.6 691.5 L263.9 691.4 L266.1 691.4 L268.3 691.3 L270.5 691.2 L272.7 691.1 L275.0 691.0 L277.2 690.9 L279.4 690.8 L281.6 690.7 L283.8 690.5 L286.1 690.3 L288.3 690.1 L290.5 689.9 L292.7 689.7 L295.0 689.4 L297.2 689.1 L299.4 688.8 L301.6 688.4 L303.8 688.0 L306.1 687.5 L308.3 687.0 L310.5 686.5 L312.7 685.9 L314.9 685.2 L317.2 684.4 L319.4 683.6 L321.6 682.8 L323.8 681.8 L326.1 680.8 L328.3 679.7 L330.5 678.6 L332.7 677.3 L334.9 676.1 L337.2 674.7 L339.4 673.3 L341.6 671.9 L343.8 670.4 L346.0 668.8 L348.3 667.3 L350.5 665.8 L352.7 664.2 L354.9 662.7 L357.1 661.2 L359.4 659.8 L361.6 658.3 L363.8 657.0 L366.0 655.7 L368.3 654.4 L370.5 653.3 L372.7 652.2 L374.9 651.1 L377.1 650.2 L379.4 649.3 L381.6 648.5 L383.8 647.7 L386.0 647.0 L388.2 646.4 L390.5 645.9 L392.7 645.3 L394.9 644.9 L397.1 644.4 L399.4 644.1 L401.6 643.7 L403.8 643.4 L406.0 643.1 L408.2 642.9 L410.5 642.7 L412.7 642.5 L414.9 642.3 L417.1 642.1 L419.3 642.0 L421.6 641.9 L423.8 641.8 L426.0 641.7 L428.2 641.6 L430.5 641.5 L432.7 641.4 L434.9 641.4 L437.1 641.3 L439.3 641.3 L441.6 641.2 L443.8 641.2 L446.0 641.1" stroke="#7dc576" stroke-width="2.60" fill="none" stroke-linejoin="round" stroke-linecap="round"/>
<path d="M135.0 691.9 L137.2 691.9 L139.5 691.9 L141.7 691.9 L143.9 691.9 L146.1 691.9 L148.4 691.9 L150.6 691.9 L152.8 691.9 L155.0 691.9 L157.2 691.9 L159.5 691.9 L161.7 691.9 L163.9 691.9 L166.1 691.9 L168.3 691.9 L170.6 691.9 L172.8 691.9 L175.0 691.9 L177.2 691.9 L179.4 691.9 L181.7 691.9 L183.9 691.9 L186.1 691.9 L188.3 691.9 L190.6 691.9 L192.8 691.8 L195.0 691.8 L197.2 691.8 L199.4 691.8 L201.7 691.8 L203.9 691.8 L206.1 691.8 L208.3 691.8 L210.5 691.8 L212.8 691.7 L215.0 691.7 L217.2 691.7 L219.4 691.7 L221.7 691.6 L223.9 691.6 L226.1 691.6 L228.3 691.5 L230.5 691.5 L232.8 691.4 L235.0 691.4 L237.2 691.3 L239.4 691.2 L241.6 691.1 L243.9 691.0 L246.1 690.9 L248.3 690.8 L250.5 690.6 L252.8 690.5 L255.0 690.3 L257.2 690.1 L259.4 689.9 L261.6 689.6 L263.9 689.3 L266.1 689.0 L268.3 688.6 L270.5 688.2 L272.7 687.8 L275.0 687.3 L277.2 686.7 L279.4 686.1 L281.6 685.4 L283.8 684.6 L286.1 683.7 L288.3 682.8 L290.5 681.7 L292.7 680.6 L295.0 679.3 L297.2 677.9 L299.4 676.4 L301.6 674.8 L303.8 673.0 L306.1 671.1 L308.3 669.0 L310.5 666.8 L312.7 664.5 L314.9 662.0 L317.2 659.4 L319.4 656.7 L321.6 653.9 L323.8 651.0 L326.1 648.1 L328.3 645.1 L330.5 642.1 L332.7 639.1 L334.9 636.1 L337.2 633.1 L339.4 630.3 L341.6 627.5 L343.8 624.8 L346.0 622.2 L348.3 619.7 L350.5 617.4 L352.7 615.2 L354.9 613.1 L357.1 611.2 L359.4 609.4 L361.6 607.8 L363.8 606.2 L366.0 604.9 L368.3 603.6 L370.5 602.4 L372.7 601.4 L374.9 600.4 L377.1 599.6 L379.4 598.8 L381.6 598.1 L383.8 597.5 L386.0 596.9 L388.2 596.4 L390.5 595.9 L392.7 595.5 L394.9 595.2 L397.1 594.9 L399.4 594.6 L401.6 594.3 L403.8 594.1 L406.0 593.9 L408.2 593.7 L410.5 593.5 L412.7 593.4 L414.9 593.3 L417.1 593.2 L419.3 593.1 L421.6 593.0 L423.8 592.9 L426.0 592.8 L428.2 592.8 L430.5 592.7 L432.7 592.7 L434.9 592.6 L437.1 592.6 L439.3 592.5 L441.6 592.5 L443.8 592.5 L446.0 592.5" stroke="#a6ce4b" stroke-width="2.60" fill="none" stroke-linejoin="round" stroke-linecap="round"/>
<path d="M135.0 691.9 L137.2 691.9 L139.5 691.9 L141.7 691.9 L143.9 691.9 L146.1 691.9 L148.4 691.9 L150.6 691.9 L152.8 691.9 L155.0 691.9 L157.2 691.9 L159.5 691.9 L161.7 691.9 L163.9 691.8 L166.1 691.8 L168.3 691.8 L170.6 691.8 L172.8 691.8 L175.0 691.8 L177.2 691.8 L179.4 691.8 L181.7 691.8 L183.9 691.7 L186.1 691.7 L188.3 691.7 L190.6 691.7 L192.8 691.6 L195.0 691.6 L197.2 691.6 L199.4 691.5 L201.7 691.5 L203.9 691.4 L206.1 691.4 L208.3 691.3 L210.5 691.2 L212.8 691.1 L215.0 691.0 L217.2 690.9 L219.4 690.8 L221.7 690.7 L223.9 690.5 L226.1 690.3 L228.3 690.2 L230.5 689.9 L232.8 689.7 L235.0 689.4 L237.2 689.1 L239.4 688.7 L241.6 688.3 L243.9 687.9 L246.1 687.4 L248.3 686.8 L250.5 686.2 L252.8 685.5 L255.0 684.7 L257.2 683.8 L259.4 682.8 L261.6 681.7 L263.9 680.5 L266.1 679.2 L268.3 677.7 L270.5 676.0 L272.7 674.2 L275.0 672.2 L277.2 670.0 L279.4 667.6 L281.6 665.0 L283.8 662.2 L286.1 659.2 L288.3 655.9 L290.5 652.4 L292.7 648.7 L295.0 644.7 L297.2 640.6 L299.4 636.2 L301.6 631.7 L303.8 627.1 L306.1 622.3 L308.3 617.5 L310.5 612.6 L312.7 607.7 L314.9 602.8 L317.2 597.9 L319.4 593.2 L321.6 588.6 L323.8 584.1 L326.1 579.8 L328.3 575.7 L330.5 571.8 L332.7 568.1 L334.9 564.7 L337.2 561.4 L339.4 558.4 L341.6 555.7 L343.8 553.1 L346.0 550.7 L348.3 548.6 L350.5 546.6 L352.7 544.9 L354.9 543.2 L357.1 541.8 L359.4 540.5 L361.6 539.3 L363.8 538.2 L366.0 537.2 L368.3 536.4 L370.5 535.6 L372.7 534.9 L374.9 534.3 L377.1 533.7 L379.4 533.3 L381.6 532.8 L383.8 532.4 L386.0 532.1 L388.2 531.8 L390.5 531.5 L392.7 531.3 L394.9 531.0 L397.1 530.8 L399.4 530.7 L401.6 530.5 L403.8 530.4 L406.0 530.3 L408.2 530.2 L410.5 530.1 L412.7 530.0 L414.9 529.9 L417.1 529.8 L419.3 529.8 L421.6 529.7 L423.8 529.7 L426.0 529.7 L428.2 529.6 L430.5 529.6 L432.7 529.6 L434.9 529.5 L437.1 529.5 L439.3 529.5 L441.6 529.5 L443.8 529.5 L446.0 529.4" stroke="#cbdb2a" stroke-width="2.60" fill="none" stroke-linejoin="round" stroke-linecap="round"/>
<path d="M135.0 691.9 L137.2 691.9 L139.5 691.8 L141.7 691.8 L143.9 691.8 L146.1 691.8 L148.4 691.8 L150.6 691.8 L152.8 691.8 L155.0 691.8 L157.2 691.8 L159.5 691.8 L161.7 691.7 L163.9 691.7 L166.1 691.7 L168.3 691.7 L170.6 691.6 L172.8 691.6 L175.0 691.6 L177.2 691.5 L179.4 691.5 L181.7 691.4 L183.9 691.3 L186.1 691.3 L188.3 691.2 L190.6 691.1 L192.8 691.0 L195.0 690.9 L197.2 690.7 L199.4 690.6 L201.7 690.4 L203.9 690.2 L206.1 690.0 L208.3 689.8 L210.5 689.5 L212.8 689.2 L215.0 688.9 L217.2 688.5 L219.4 688.1 L221.7 687.6 L223.9 687.1 L226.1 686.5 L228.3 685.8 L230.5 685.0 L232.8 684.2 L235.0 683.2 L237.2 682.1 L239.4 681.0 L241.6 679.6 L243.9 678.1 L246.1 676.5 L248.3 674.7 L250.5 672.7 L252.8 670.5 L255.0 668.0 L257.2 665.3 L259.4 662.4 L261.6 659.1 L263.9 655.6 L266.1 651.9 L268.3 647.8 L270.5 643.4 L272.7 638.7 L275.0 633.7 L277.2 628.4 L279.4 622.9 L281.6 617.1 L283.8 611.1 L286.1 604.9 L288.3 598.6 L290.5 592.2 L292.7 585.7 L295.0 579.2 L297.2 572.7 L299.4 566.3 L301.6 560.1 L303.8 554.0 L306.1 548.1 L308.3 542.5 L310.5 537.1 L312.7 532.0 L314.9 527.2 L317.2 522.7 L319.4 518.5 L321.6 514.6 L323.8 511.0 L326.1 507.6 L328.3 504.6 L330.5 501.8 L332.7 499.2 L334.9 496.9 L337.2 494.8 L339.4 492.9 L341.6 491.2 L343.8 489.7 L346.0 488.3 L348.3 487.1 L350.5 485.9 L352.7 485.0 L354.9 484.1 L357.1 483.3 L359.4 482.6 L361.6 481.9 L363.8 481.4 L366.0 480.8 L368.3 480.4 L370.5 480.0 L372.7 479.6 L374.9 479.3 L377.1 479.1 L379.4 478.8 L381.6 478.6 L383.8 478.4 L386.0 478.2 L388.2 478.1 L390.5 477.9 L392.7 477.8 L394.9 477.7 L397.1 477.6 L399.4 477.5 L401.6 477.4 L403.8 477.4 L406.0 477.3 L408.2 477.3 L410.5 477.2 L412.7 477.2 L414.9 477.1 L417.1 477.1 L419.3 477.1 L421.6 477.0 L423.8 477.0 L426.0 477.0 L428.2 477.0 L430.5 477.0 L432.7 477.0 L434.9 476.9 L437.1 476.9 L439.3 476.9 L441.6 476.9 L443.8 476.9 L446.0 476.9" stroke="#f2eb1a" stroke-width="2.60" fill="none" stroke-linejoin="round" stroke-linecap="round"/>
<path d="M135.0 691.8 L137.2 691.8 L139.5 691.8 L141.7 691.8 L143.9 691.7 L146.1 691.7 L148.4 691.7 L150.6 691.7 L152.8 691.6 L155.0 691.6 L157.2 691.6 L159.5 691.5 L161.7 691.5 L163.9 691.4 L166.1 691.3 L168.3 691.3 L170.6 691.2 L172.8 691.1 L175.0 691.0 L177.2 690.9 L179.4 690.7 L181.7 690.6 L183.9 690.4 L186.1 690.2 L188.3 690.0 L190.6 689.8 L192.8 689.5 L195.0 689.2 L197.2 688.9 L199.4 688.5 L201.7 688.1 L203.9 687.6 L206.1 687.0 L208.3 686.4 L210.5 685.7 L212.8 685.0 L215.0 684.1 L217.2 683.1 L219.4 682.0 L221.7 680.8 L223.9 679.5 L226.1 678.0 L228.3 676.3 L230.5 674.5 L232.8 672.4 L235.0 670.1 L237.2 667.6 L239.4 664.9 L241.6 661.8 L243.9 658.5 L246.1 654.9 L248.3 650.9 L250.5 646.7 L252.8 642.1 L255.0 637.2 L257.2 631.9 L259.4 626.3 L261.6 620.4 L263.9 614.2 L266.1 607.8 L268.3 601.1 L270.5 594.2 L272.7 587.2 L275.0 580.0 L277.2 572.8 L279.4 565.6 L281.6 558.5 L283.8 551.5 L286.1 544.6 L288.3 537.9 L290.5 531.4 L292.7 525.3 L295.0 519.4 L297.2 513.8 L299.4 508.5 L301.6 503.6 L303.8 499.0 L306.1 494.7 L308.3 490.8 L310.5 487.2 L312.7 483.8 L314.9 480.8 L317.2 478.0 L319.4 475.5 L321.6 473.2 L323.8 471.2 L326.1 469.3 L328.3 467.7 L330.5 466.2 L332.7 464.8 L334.9 463.6 L337.2 462.5 L339.4 461.6 L341.6 460.7 L343.8 459.9 L346.0 459.2 L348.3 458.6 L350.5 458.1 L352.7 457.6 L354.9 457.2 L357.1 456.8 L359.4 456.4 L361.6 456.1 L363.8 455.9 L366.0 455.6 L368.3 455.4 L370.5 455.2 L372.7 455.1 L374.9 454.9 L377.1 454.8 L379.4 454.7 L381.6 454.6 L383.8 454.5 L386.0 454.4 L388.2 454.3 L390.5 454.3 L392.7 454.2 L394.9 454.2 L397.1 454.1 L399.4 454.1 L401.6 454.0 L403.8 454.0 L406.0 454.0 L408.2 454.0 L410.5 453.9 L412.7 453.9 L414.9 453.9 L417.1 453.9 L419.3 453.9 L421.6 453.9 L423.8 453.8 L426.0 453.8 L428.2 453.8 L430.5 453.8 L432.7 453.8 L434.9 453.8 L437.1 453.8 L439.3 453.8 L441.6 453.8 L443.8 453.8 L446.0 453.8" stroke="#fdb913" stroke-width="2.60" fill="none" stroke-linejoin="round" stroke-linecap="round"/>
<path d="M135.0 691.7 L137.2 691.7 L139.5 691.7 L141.7 691.6 L143.9 691.6 L146.1 691.6 L148.4 691.5 L150.6 691.5 L152.8 691.4 L155.0 691.4 L157.2 691.3 L159.5 691.2 L161.7 691.1 L163.9 691.0 L166.1 690.9 L168.3 690.8 L170.6 690.7 L172.8 690.5 L175.0 690.3 L177.2 690.1 L179.4 689.9 L181.7 689.6 L183.9 689.3 L186.1 689.0 L188.3 688.7 L190.6 688.2 L192.8 687.8 L195.0 687.3 L197.2 686.7 L199.4 686.0 L201.7 685.3 L203.9 684.5 L206.1 683.6 L208.3 682.5 L210.5 681.4 L212.8 680.1 L215.0 678.6 L217.2 677.1 L219.4 675.3 L221.7 673.3 L223.9 671.1 L226.1 668.7 L228.3 666.0 L230.5 663.1 L232.8 659.9 L235.0 656.4 L237.2 652.6 L239.4 648.4 L241.6 643.9 L243.9 639.1 L246.1 633.9 L248.3 628.4 L250.5 622.6 L252.8 616.5 L255.0 610.0 L257.2 603.3 L259.4 596.4 L261.6 589.3 L263.9 582.1 L266.1 574.8 L268.3 567.5 L270.5 560.1 L272.7 552.9 L275.0 545.8 L277.2 538.8 L279.4 532.1 L281.6 525.6 L283.8 519.4 L286.1 513.5 L288.3 507.9 L290.5 502.7 L292.7 497.8 L295.0 493.3 L297.2 489.0 L299.4 485.2 L301.6 481.6 L303.8 478.3 L306.1 475.3 L308.3 472.6 L310.5 470.2 L312.7 467.9 L314.9 465.9 L317.2 464.1 L319.4 462.5 L321.6 461.0 L323.8 459.7 L326.1 458.5 L328.3 457.4 L330.5 456.5 L332.7 455.7 L334.9 454.9 L337.2 454.2 L339.4 453.6 L341.6 453.1 L343.8 452.6 L346.0 452.2 L348.3 451.8 L350.5 451.5 L352.7 451.2 L354.9 451.0 L357.1 450.7 L359.4 450.5 L361.6 450.3 L363.8 450.2 L366.0 450.0 L368.3 449.9 L370.5 449.8 L372.7 449.7 L374.9 449.6 L377.1 449.5 L379.4 449.4 L381.6 449.4 L383.8 449.3 L386.0 449.3 L388.2 449.2 L390.5 449.2 L392.7 449.2 L394.9 449.1 L397.1 449.1 L399.4 449.1 L401.6 449.1 L403.8 449.0 L406.0 449.0 L408.2 449.0 L410.5 449.0 L412.7 449.0 L414.9 449.0 L417.1 449.0 L419.3 449.0 L421.6 449.0 L423.8 448.9 L426.0 448.9 L428.2 448.9 L430.5 448.9 L432.7 448.9 L434.9 448.9 L437.1 448.9 L439.3 448.9 L441.6 448.9 L443.8 448.9 L446.0 448.9" stroke="#f7941d" stroke-width="2.60" fill="none" stroke-linejoin="round" stroke-linecap="round"/>
<path d="M135.0 691.7 L137.2 691.6 L139.5 691.6 L141.7 691.6 L143.9 691.5 L146.1 691.5 L148.4 691.4 L150.6 691.4 L152.8 691.3 L155.0 691.2 L157.2 691.1 L159.5 691.0 L161.7 690.9 L163.9 690.8 L166.1 690.7 L168.3 690.5 L170.6 690.3 L172.8 690.1 L175.0 689.9 L177.2 689.6 L179.4 689.3 L181.7 689.0 L183.9 688.7 L186.1 688.2 L188.3 687.8 L190.6 687.3 L192.8 686.7 L195.0 686.0 L197.2 685.3 L199.4 684.5 L201.7 683.6 L203.9 682.5 L206.1 681.4 L208.3 680.1 L210.5 678.6 L212.8 677.1 L215.0 675.3 L217.2 673.3 L219.4 671.1 L221.7 668.7 L223.9 666.0 L226.1 663.1 L228.3 659.9 L230.5 656.4 L232.8 652.6 L235.0 648.4 L237.2 643.9 L239.4 639.1 L241.6 633.9 L243.9 628.4 L246.1 622.6 L248.3 616.5 L250.5 610.0 L252.8 603.3 L255.0 596.4 L257.2 589.3 L259.4 582.1 L261.6 574.8 L263.9 567.5 L266.1 560.1 L268.3 552.9 L270.5 545.8 L272.7 538.8 L275.0 532.1 L277.2 525.6 L279.4 519.4 L281.6 513.5 L283.8 507.9 L286.1 502.7 L288.3 497.8 L290.5 493.3 L292.7 489.0 L295.0 485.2 L297.2 481.6 L299.4 478.3 L301.6 475.3 L303.8 472.6 L306.1 470.2 L308.3 467.9 L310.5 465.9 L312.7 464.1 L314.9 462.5 L317.2 461.0 L319.4 459.7 L321.6 458.5 L323.8 457.4 L326.1 456.5 L328.3 455.7 L330.5 454.9 L332.7 454.2 L334.9 453.6 L337.2 453.1 L339.4 452.6 L341.6 452.2 L343.8 451.8 L346.0 451.5 L348.3 451.2 L350.5 451.0 L352.7 450.7 L354.9 450.5 L357.1 450.3 L359.4 450.2 L361.6 450.0 L363.8 449.9 L366.0 449.8 L368.3 449.7 L370.5 449.6 L372.7 449.5 L374.9 449.4 L377.1 449.4 L379.4 449.3 L381.6 449.3 L383.8 449.2 L386.0 449.2 L388.2 449.2 L390.5 449.1 L392.7 449.1 L394.9 449.1 L397.1 449.1 L399.4 449.0 L401.6 449.0 L403.8 449.0 L406.0 449.0 L408.2 449.0 L410.5 449.0 L412.7 449.0 L414.9 449.0 L417.1 449.0 L419.3 448.9 L421.6 448.9 L423.8 448.9 L426.0 448.9 L428.2 448.9 L430.5 448.9 L432.7 448.9 L434.9 448.9 L437.1 448.9 L439.3 448.9 L441.6 448.9 L443.8 448.9 L446.0 448.9" stroke="#f15a22" stroke-width="2.60" fill="none" stroke-linejoin="round" stroke-linecap="round"/>
<path d="M135.0 691.6 L137.2 691.5 L139.5 691.5 L141.7 691.4 L143.9 691.4 L146.1 691.3 L148.4 691.3 L150.6 691.2 L152.8 691.1 L155.0 691.0 L157.2 690.8 L159.5 690.7 L161.7 690.6 L163.9 690.4 L166.1 690.2 L168.3 690.0 L170.6 689.7 L172.8 689.5 L175.0 689.2 L177.2 688.8 L179.4 688.4 L181.7 688.0 L183.9 687.5 L186.1 686.9 L188.3 686.3 L190.6 685.6 L192.8 684.8 L195.0 683.9 L197.2 683.0 L199.4 681.8 L201.7 680.6 L203.9 679.2 L206.1 677.7 L208.3 676.0 L210.5 674.1 L212.8 672.0 L215.0 669.7 L217.2 667.1 L219.4 664.3 L221.7 661.2 L223.9 657.8 L226.1 654.1 L228.3 650.1 L230.5 645.8 L232.8 641.1 L235.0 636.0 L237.2 630.7 L239.4 625.0 L241.6 618.9 L243.9 612.6 L246.1 606.0 L248.3 599.2 L250.5 592.2 L252.8 585.0 L255.0 577.7 L257.2 570.4 L259.4 563.1 L261.6 555.8 L263.9 548.6 L266.1 541.6 L268.3 534.8 L270.5 528.2 L272.7 521.9 L275.0 515.8 L277.2 510.1 L279.4 504.8 L281.6 499.7 L283.8 495.0 L286.1 490.7 L288.3 486.7 L290.5 483.0 L292.7 479.6 L295.0 476.5 L297.2 473.7 L299.4 471.1 L301.6 468.8 L303.8 466.7 L306.1 464.8 L308.3 463.1 L310.5 461.6 L312.7 460.2 L314.9 459.0 L317.2 457.8 L319.4 456.9 L321.6 456.0 L323.8 455.2 L326.1 454.5 L328.3 453.9 L330.5 453.3 L332.7 452.8 L334.9 452.4 L337.2 452.0 L339.4 451.6 L341.6 451.3 L343.8 451.1 L346.0 450.8 L348.3 450.6 L350.5 450.4 L352.7 450.2 L354.9 450.1 L357.1 450.0 L359.4 449.8 L361.6 449.7 L363.8 449.6 L366.0 449.5 L368.3 449.5 L370.5 449.4 L372.7 449.4 L374.9 449.3 L377.1 449.3 L379.4 449.2 L381.6 449.2 L383.8 449.1 L386.0 449.1 L388.2 449.1 L390.5 449.1 L392.7 449.1 L394.9 449.0 L397.1 449.0 L399.4 449.0 L401.6 449.0 L403.8 449.0 L406.0 449.0 L408.2 449.0 L410.5 449.0 L412.7 449.0 L414.9 448.9 L417.1 448.9 L419.3 448.9 L421.6 448.9 L423.8 448.9 L426.0 448.9 L428.2 448.9 L430.5 448.9 L432.7 448.9 L434.9 448.9 L437.1 448.9 L439.3 448.9 L441.6 448.9 L443.8 448.9 L446.0 448.9" stroke="#e0282a" stroke-width="2.60" fill="none" stroke-linejoin="round" stroke-linecap="round"/>
<path d="M135.0 691.5 L137.2 691.5 L139.5 691.4 L141.7 691.3 L143.9 691.3 L146.1 691.2 L148.4 691.1 L150.6 691.0 L152.8 690.9 L155.0 690.7 L157.2 690.6 L159.5 690.4 L161.7 690.2 L163.9 690.0 L166.1 689.8 L168.3 689.5 L170.6 689.2 L172.8 688.9 L175.0 688.5 L177.2 688.1 L179.4 687.6 L181.7 687.0 L183.9 686.4 L186.1 685.7 L188.3 685.0 L190.6 684.1 L192.8 683.2 L195.0 682.1 L197.2 680.9 L199.4 679.5 L201.7 678.0 L203.9 676.4 L206.1 674.5 L208.3 672.5 L210.5 670.2 L212.8 667.7 L215.0 664.9 L217.2 661.9 L219.4 658.5 L221.7 654.9 L223.9 650.9 L226.1 646.7 L228.3 642.0 L230.5 637.1 L232.8 631.8 L235.0 626.1 L237.2 620.2 L239.4 613.9 L241.6 607.4 L243.9 600.6 L246.1 593.6 L248.3 586.5 L250.5 579.2 L252.8 571.9 L255.0 564.5 L257.2 557.2 L259.4 550.0 L261.6 543.0 L263.9 536.1 L266.1 529.5 L268.3 523.1 L270.5 517.0 L272.7 511.3 L275.0 505.8 L277.2 500.7 L279.4 496.0 L281.6 491.5 L283.8 487.5 L286.1 483.7 L288.3 480.2 L290.5 477.1 L292.7 474.2 L295.0 471.6 L297.2 469.2 L299.4 467.1 L301.6 465.2 L303.8 463.4 L306.1 461.9 L308.3 460.4 L310.5 459.2 L312.7 458.1 L314.9 457.1 L317.2 456.2 L319.4 455.3 L321.6 454.6 L323.8 454.0 L326.1 453.4 L328.3 452.9 L330.5 452.5 L332.7 452.1 L334.9 451.7 L337.2 451.4 L339.4 451.1 L341.6 450.9 L343.8 450.6 L346.0 450.4 L348.3 450.3 L350.5 450.1 L352.7 450.0 L354.9 449.9 L357.1 449.7 L359.4 449.6 L361.6 449.6 L363.8 449.5 L366.0 449.4 L368.3 449.4 L370.5 449.3 L372.7 449.3 L374.9 449.2 L377.1 449.2 L379.4 449.2 L381.6 449.1 L383.8 449.1 L386.0 449.1 L388.2 449.1 L390.5 449.0 L392.7 449.0 L394.9 449.0 L397.1 449.0 L399.4 449.0 L401.6 449.0 L403.8 449.0 L406.0 449.0 L408.2 449.0 L410.5 448.9 L412.7 448.9 L414.9 448.9 L417.1 448.9 L419.3 448.9 L421.6 448.9 L423.8 448.9 L426.0 448.9 L428.2 448.9 L430.5 448.9 L432.7 448.9 L434.9 448.9 L437.1 448.9 L439.3 448.9 L441.6 448.9 L443.8 448.9 L446.0 448.9" stroke="#a0191e" stroke-width="2.60" fill="none" stroke-linejoin="round" stroke-linecap="round"/>
</g>
<line x1="90.6" y1="643.8" x2="446.0" y2="643.8" stroke="#000" stroke-width="2.6" stroke-dasharray="13 7"/>
<ellipse cx="349.6" cy="666.4" rx="5.1" ry="4.0" fill="#7dc576" stroke="#000" stroke-width="2.2"/>
<ellipse cx="330.5" cy="642.1" rx="5.1" ry="4.0" fill="#a6ce4b" stroke="#000" stroke-width="2.2"/>
<ellipse cx="311.4" cy="610.6" rx="5.1" ry="4.0" fill="#cbdb2a" stroke="#000" stroke-width="2.2"/>
<ellipse cx="293.2" cy="584.4" rx="5.1" ry="4.0" fill="#f2eb1a" stroke="#000" stroke-width="2.2"/>
<ellipse cx="277.2" cy="572.8" rx="5.1" ry="4.0" fill="#fdb913" stroke="#000" stroke-width="2.2"/>
<ellipse cx="267.4" cy="570.4" rx="5.1" ry="4.0" fill="#f7941d" stroke="#000" stroke-width="2.2"/>
<ellipse cx="263.0" cy="570.4" rx="5.1" ry="4.0" fill="#f15a22" stroke="#000" stroke-width="2.2"/>
<ellipse cx="257.2" cy="570.4" rx="5.1" ry="4.0" fill="#e0282a" stroke="#000" stroke-width="2.2"/>
<ellipse cx="253.2" cy="570.4" rx="5.1" ry="4.0" fill="#a0191e" stroke="#000" stroke-width="2.2"/>
<rect x="90.6" y="448.9" width="355.4" height="243.0" fill="none" stroke="#231f20" stroke-width="2.6"/>
<line x1="179.4" y1="691.9" x2="179.4" y2="686.9" stroke="#231f20" stroke-width="2.2"/>
<line x1="179.4" y1="448.9" x2="179.4" y2="453.9" stroke="#231f20" stroke-width="2.2"/>
<line x1="268.3" y1="691.9" x2="268.3" y2="686.9" stroke="#231f20" stroke-width="2.2"/>
<line x1="268.3" y1="448.9" x2="268.3" y2="453.9" stroke="#231f20" stroke-width="2.2"/>
<line x1="357.1" y1="691.9" x2="357.1" y2="686.9" stroke="#231f20" stroke-width="2.2"/>
<line x1="357.1" y1="448.9" x2="357.1" y2="453.9" stroke="#231f20" stroke-width="2.2"/>
<line x1="90.6" y1="667.6" x2="95.6" y2="667.6" stroke="#231f20" stroke-width="2.2"/>
<line x1="446.0" y1="667.6" x2="441.0" y2="667.6" stroke="#231f20" stroke-width="2.2"/>
<line x1="90.6" y1="643.3" x2="95.6" y2="643.3" stroke="#231f20" stroke-width="2.2"/>
<line x1="446.0" y1="643.3" x2="441.0" y2="643.3" stroke="#231f20" stroke-width="2.2"/>
<line x1="90.6" y1="619.0" x2="95.6" y2="619.0" stroke="#231f20" stroke-width="2.2"/>
<line x1="446.0" y1="619.0" x2="441.0" y2="619.0" stroke="#231f20" stroke-width="2.2"/>
<line x1="90.6" y1="594.7" x2="95.6" y2="594.7" stroke="#231f20" stroke-width="2.2"/>
<line x1="446.0" y1="594.7" x2="441.0" y2="594.7" stroke="#231f20" stroke-width="2.2"/>
<line x1="90.6" y1="570.4" x2="95.6" y2="570.4" stroke="#231f20" stroke-width="2.2"/>
<line x1="446.0" y1="570.4" x2="441.0" y2="570.4" stroke="#231f20" stroke-width="2.2"/>
<line x1="90.6" y1="546.1" x2="95.6" y2="546.1" stroke="#231f20" stroke-width="2.2"/>
<line x1="446.0" y1="546.1" x2="441.0" y2="546.1" stroke="#231f20" stroke-width="2.2"/>
<line x1="90.6" y1="521.8" x2="95.6" y2="521.8" stroke="#231f20" stroke-width="2.2"/>
<line x1="446.0" y1="521.8" x2="441.0" y2="521.8" stroke="#231f20" stroke-width="2.2"/>
<line x1="90.6" y1="497.5" x2="95.6" y2="497.5" stroke="#231f20" stroke-width="2.2"/>
<line x1="446.0" y1="497.5" x2="441.0" y2="497.5" stroke="#231f20" stroke-width="2.2"/>
<line x1="90.6" y1="473.2" x2="95.6" y2="473.2" stroke="#231f20" stroke-width="2.2"/>
<line x1="446.0" y1="473.2" x2="441.0" y2="473.2" stroke="#231f20" stroke-width="2.2"/>
<text x="63.5" y="703.9" font-size="29.0">0</text>
<text x="46.7" y="654.5" font-size="29.0">0.2</text>
<text x="46.2" y="605.9" font-size="29.0">0.4</text>
<text x="46.5" y="557.3" font-size="29.0">0.6</text>
<text x="46.5" y="508.7" font-size="29.0">0.8</text>
<text x="57.0" y="459.4" font-size="29.0">1</text>
<text x="164.6" y="719.4" font-size="28.6">10<tspan font-size="17.2" dy="-10.3">-2</tspan></text>
<text x="246.3" y="719.4" font-size="28.6">10<tspan font-size="17.2" dy="-10.3">0</tspan></text>
<text x="337.4" y="719.4" font-size="28.6">10<tspan font-size="17.2" dy="-10.3">2</tspan></text>
<text x="241.2" y="738.1" font-size="27.5">Input</text>
<text x="0.0" y="0.0" font-size="31.0" text-anchor="middle" textLength="178" lengthAdjust="spacingAndGlyphs" transform="translate(27.9 568) rotate(-90)">Output Y/Y<tspan font-size="17.5" dy="10">MAX</tspan></text>
<text x="2.0" y="425.9" font-size="47.0">A.iv</text>
<linearGradient id="g5" gradientUnits="userSpaceOnUse" x1="575" y1="0" x2="923" y2="0"><stop offset="0.000" stop-color="#9dcf6e"/><stop offset="0.075" stop-color="#b0d444"/><stop offset="0.164" stop-color="#d0de2a"/><stop offset="0.253" stop-color="#edeb23"/><stop offset="0.299" stop-color="#f8e71c"/><stop offset="0.322" stop-color="#fedd0b"/><stop offset="0.371" stop-color="#fbbe16"/><stop offset="0.445" stop-color="#f7941d"/><stop offset="0.500" stop-color="#f47e20"/><stop offset="0.555" stop-color="#f15a24"/><stop offset="0.609" stop-color="#ee4023"/><stop offset="0.664" stop-color="#ec2a26"/><stop offset="0.718" stop-color="#e92027"/><stop offset="0.773" stop-color="#e41e26"/><stop offset="0.833" stop-color="#d51f26"/><stop offset="0.908" stop-color="#a51d22"/><stop offset="1.000" stop-color="#7a1518"/></linearGradient>
<clipPath id="c5"><rect x="566.0" y="444.0" width="357.0" height="249.7"/></clipPath>
<path d="M574.5 488.8 C575.8 490.1 579.8 494.2 582.5 497.1 C585.2 500.0 587.8 502.9 590.5 505.9 C593.2 508.9 595.8 511.9 598.5 515.0 C601.2 518.1 603.8 521.2 606.5 524.4 C609.2 527.5 611.8 530.7 614.5 533.9 C617.2 537.0 619.8 540.2 622.5 543.4 C625.2 546.6 627.8 549.8 630.5 553.0 C633.2 556.1 635.8 559.3 638.5 562.4 C641.2 565.5 643.8 568.6 646.5 571.7 C649.2 574.8 651.8 577.8 654.5 580.8 C657.2 583.8 659.8 586.7 662.5 589.6 C665.2 592.5 667.8 595.3 670.5 598.1 C673.2 600.9 675.8 603.6 678.5 606.3 C681.2 608.9 683.8 611.5 686.5 614.1 C689.2 616.6 691.8 619.1 694.5 621.5 C697.2 623.9 699.8 626.2 702.5 628.5 C705.2 630.7 707.8 632.9 710.5 635.0 C713.2 637.1 715.8 639.2 718.5 641.2 C721.2 643.1 723.8 645.0 726.5 646.8 C729.2 648.6 731.8 650.4 734.5 652.0 C737.2 653.7 739.8 655.3 742.5 656.8 C745.2 658.3 747.8 659.8 750.5 661.2 C753.2 662.5 755.8 663.8 758.5 665.1 C761.2 666.3 763.8 667.5 766.5 668.5 C769.2 669.6 771.8 670.7 774.5 671.6 C777.2 672.6 779.8 673.5 782.5 674.3 C785.2 675.2 787.8 675.9 790.5 676.7 C793.2 677.4 795.8 678.0 798.5 678.6 C801.2 679.3 803.8 679.8 806.5 680.3 C809.2 680.8 811.8 681.3 814.5 681.7 C817.2 682.1 819.8 682.5 822.5 682.8 C825.2 683.1 827.8 683.4 830.5 683.7 C833.2 683.9 835.8 684.1 838.5 684.3 C841.2 684.5 843.8 684.6 846.5 684.8 C849.2 684.9 851.8 685.0 854.5 685.1 C857.2 685.1 859.8 685.2 862.5 685.2 C865.2 685.3 867.8 685.3 870.5 685.3 C873.2 685.3 875.8 685.3 878.5 685.3 C881.2 685.3 883.8 685.2 886.5 685.2 C889.2 685.2 891.8 685.1 894.5 685.1 C897.2 685.1 899.8 685.0 902.5 685.0 C905.2 684.9 907.8 684.9 910.5 684.9 C913.2 684.8 916.5 684.8 918.5 684.8 C920.5 684.8 921.9 684.8 922.6 684.8" stroke="url(#g5)" stroke-width="12.50" fill="none" stroke-linecap="round" clip-path="url(#c5)"/>
<rect x="572.0" y="444.0" width="353.0" height="249.7" fill="none" stroke="#231f20" stroke-width="2.6"/>
<line x1="588.1" y1="693.7" x2="588.1" y2="688.7" stroke="#231f20" stroke-width="2.0"/>
<line x1="588.1" y1="444.0" x2="588.1" y2="449.0" stroke="#231f20" stroke-width="2.0"/>
<line x1="638.8" y1="693.7" x2="638.8" y2="690.7" stroke="#231f20" stroke-width="2.0"/>
<line x1="638.8" y1="444.0" x2="638.8" y2="447.0" stroke="#231f20" stroke-width="2.0"/>
<line x1="668.4" y1="693.7" x2="668.4" y2="690.7" stroke="#231f20" stroke-width="2.0"/>
<line x1="668.4" y1="444.0" x2="668.4" y2="447.0" stroke="#231f20" stroke-width="2.0"/>
<line x1="689.5" y1="693.7" x2="689.5" y2="690.7" stroke="#231f20" stroke-width="2.0"/>
<line x1="689.5" y1="444.0" x2="689.5" y2="447.0" stroke="#231f20" stroke-width="2.0"/>
<line x1="705.8" y1="693.7" x2="705.8" y2="690.7" stroke="#231f20" stroke-width="2.0"/>
<line x1="705.8" y1="444.0" x2="705.8" y2="447.0" stroke="#231f20" stroke-width="2.0"/>
<line x1="719.1" y1="693.7" x2="719.1" y2="690.7" stroke="#231f20" stroke-width="2.0"/>
<line x1="719.1" y1="444.0" x2="719.1" y2="447.0" stroke="#231f20" stroke-width="2.0"/>
<line x1="730.4" y1="693.7" x2="730.4" y2="690.7" stroke="#231f20" stroke-width="2.0"/>
<line x1="730.4" y1="444.0" x2="730.4" y2="447.0" stroke="#231f20" stroke-width="2.0"/>
<line x1="740.2" y1="693.7" x2="740.2" y2="690.7" stroke="#231f20" stroke-width="2.0"/>
<line x1="740.2" y1="444.0" x2="740.2" y2="447.0" stroke="#231f20" stroke-width="2.0"/>
<line x1="748.8" y1="693.7" x2="748.8" y2="690.7" stroke="#231f20" stroke-width="2.0"/>
<line x1="748.8" y1="444.0" x2="748.8" y2="447.0" stroke="#231f20" stroke-width="2.0"/>
<line x1="756.5" y1="693.7" x2="756.5" y2="688.7" stroke="#231f20" stroke-width="2.0"/>
<line x1="756.5" y1="444.0" x2="756.5" y2="449.0" stroke="#231f20" stroke-width="2.0"/>
<line x1="807.2" y1="693.7" x2="807.2" y2="690.7" stroke="#231f20" stroke-width="2.0"/>
<line x1="807.2" y1="444.0" x2="807.2" y2="447.0" stroke="#231f20" stroke-width="2.0"/>
<line x1="836.8" y1="693.7" x2="836.8" y2="690.7" stroke="#231f20" stroke-width="2.0"/>
<line x1="836.8" y1="444.0" x2="836.8" y2="447.0" stroke="#231f20" stroke-width="2.0"/>
<line x1="857.9" y1="693.7" x2="857.9" y2="690.7" stroke="#231f20" stroke-width="2.0"/>
<line x1="857.9" y1="444.0" x2="857.9" y2="447.0" stroke="#231f20" stroke-width="2.0"/>
<line x1="874.2" y1="693.7" x2="874.2" y2="690.7" stroke="#231f20" stroke-width="2.0"/>
<line x1="874.2" y1="444.0" x2="874.2" y2="447.0" stroke="#231f20" stroke-width="2.0"/>
<line x1="887.5" y1="693.7" x2="887.5" y2="690.7" stroke="#231f20" stroke-width="2.0"/>
<line x1="887.5" y1="444.0" x2="887.5" y2="447.0" stroke="#231f20" stroke-width="2.0"/>
<line x1="898.8" y1="693.7" x2="898.8" y2="690.7" stroke="#231f20" stroke-width="2.0"/>
<line x1="898.8" y1="444.0" x2="898.8" y2="447.0" stroke="#231f20" stroke-width="2.0"/>
<line x1="908.6" y1="693.7" x2="908.6" y2="690.7" stroke="#231f20" stroke-width="2.0"/>
<line x1="908.6" y1="444.0" x2="908.6" y2="447.0" stroke="#231f20" stroke-width="2.0"/>
<line x1="917.2" y1="693.7" x2="917.2" y2="690.7" stroke="#231f20" stroke-width="2.0"/>
<line x1="917.2" y1="444.0" x2="917.2" y2="447.0" stroke="#231f20" stroke-width="2.0"/>
<line x1="580.4" y1="693.7" x2="580.4" y2="690.7" stroke="#231f20" stroke-width="2.0"/>
<line x1="580.4" y1="444.0" x2="580.4" y2="447.0" stroke="#231f20" stroke-width="2.0"/>
<line x1="572.0" y1="684.7" x2="575.0" y2="684.7" stroke="#231f20" stroke-width="2.0"/>
<line x1="925.0" y1="684.7" x2="922.0" y2="684.7" stroke="#231f20" stroke-width="2.0"/>
<line x1="572.0" y1="676.4" x2="575.0" y2="676.4" stroke="#231f20" stroke-width="2.0"/>
<line x1="925.0" y1="676.4" x2="922.0" y2="676.4" stroke="#231f20" stroke-width="2.0"/>
<line x1="572.0" y1="669.4" x2="575.0" y2="669.4" stroke="#231f20" stroke-width="2.0"/>
<line x1="925.0" y1="669.4" x2="922.0" y2="669.4" stroke="#231f20" stroke-width="2.0"/>
<line x1="572.0" y1="663.3" x2="575.0" y2="663.3" stroke="#231f20" stroke-width="2.0"/>
<line x1="925.0" y1="663.3" x2="922.0" y2="663.3" stroke="#231f20" stroke-width="2.0"/>
<line x1="572.0" y1="658.0" x2="575.0" y2="658.0" stroke="#231f20" stroke-width="2.0"/>
<line x1="925.0" y1="658.0" x2="922.0" y2="658.0" stroke="#231f20" stroke-width="2.0"/>
<line x1="572.0" y1="653.2" x2="577.0" y2="653.2" stroke="#231f20" stroke-width="2.0"/>
<line x1="925.0" y1="653.2" x2="920.0" y2="653.2" stroke="#231f20" stroke-width="2.0"/>
<line x1="572.0" y1="621.7" x2="575.0" y2="621.7" stroke="#231f20" stroke-width="2.0"/>
<line x1="925.0" y1="621.7" x2="922.0" y2="621.7" stroke="#231f20" stroke-width="2.0"/>
<line x1="572.0" y1="603.3" x2="575.0" y2="603.3" stroke="#231f20" stroke-width="2.0"/>
<line x1="925.0" y1="603.3" x2="922.0" y2="603.3" stroke="#231f20" stroke-width="2.0"/>
<line x1="572.0" y1="590.2" x2="575.0" y2="590.2" stroke="#231f20" stroke-width="2.0"/>
<line x1="925.0" y1="590.2" x2="922.0" y2="590.2" stroke="#231f20" stroke-width="2.0"/>
<line x1="572.0" y1="580.1" x2="575.0" y2="580.1" stroke="#231f20" stroke-width="2.0"/>
<line x1="925.0" y1="580.1" x2="922.0" y2="580.1" stroke="#231f20" stroke-width="2.0"/>
<line x1="572.0" y1="571.8" x2="575.0" y2="571.8" stroke="#231f20" stroke-width="2.0"/>
<line x1="925.0" y1="571.8" x2="922.0" y2="571.8" stroke="#231f20" stroke-width="2.0"/>
<line x1="572.0" y1="564.8" x2="575.0" y2="564.8" stroke="#231f20" stroke-width="2.0"/>
<line x1="925.0" y1="564.8" x2="922.0" y2="564.8" stroke="#231f20" stroke-width="2.0"/>
<line x1="572.0" y1="558.7" x2="575.0" y2="558.7" stroke="#231f20" stroke-width="2.0"/>
<line x1="925.0" y1="558.7" x2="922.0" y2="558.7" stroke="#231f20" stroke-width="2.0"/>
<line x1="572.0" y1="553.4" x2="575.0" y2="553.4" stroke="#231f20" stroke-width="2.0"/>
<line x1="925.0" y1="553.4" x2="922.0" y2="553.4" stroke="#231f20" stroke-width="2.0"/>
<line x1="572.0" y1="548.6" x2="577.0" y2="548.6" stroke="#231f20" stroke-width="2.0"/>
<line x1="925.0" y1="548.6" x2="920.0" y2="548.6" stroke="#231f20" stroke-width="2.0"/>
<line x1="572.0" y1="517.1" x2="575.0" y2="517.1" stroke="#231f20" stroke-width="2.0"/>
<line x1="925.0" y1="517.1" x2="922.0" y2="517.1" stroke="#231f20" stroke-width="2.0"/>
<line x1="572.0" y1="498.7" x2="575.0" y2="498.7" stroke="#231f20" stroke-width="2.0"/>
<line x1="925.0" y1="498.7" x2="922.0" y2="498.7" stroke="#231f20" stroke-width="2.0"/>
<line x1="572.0" y1="485.6" x2="575.0" y2="485.6" stroke="#231f20" stroke-width="2.0"/>
<line x1="925.0" y1="485.6" x2="922.0" y2="485.6" stroke="#231f20" stroke-width="2.0"/>
<line x1="572.0" y1="475.5" x2="575.0" y2="475.5" stroke="#231f20" stroke-width="2.0"/>
<line x1="925.0" y1="475.5" x2="922.0" y2="475.5" stroke="#231f20" stroke-width="2.0"/>
<line x1="572.0" y1="467.2" x2="575.0" y2="467.2" stroke="#231f20" stroke-width="2.0"/>
<line x1="925.0" y1="467.2" x2="922.0" y2="467.2" stroke="#231f20" stroke-width="2.0"/>
<line x1="572.0" y1="460.2" x2="575.0" y2="460.2" stroke="#231f20" stroke-width="2.0"/>
<line x1="925.0" y1="460.2" x2="922.0" y2="460.2" stroke="#231f20" stroke-width="2.0"/>
<line x1="572.0" y1="454.1" x2="575.0" y2="454.1" stroke="#231f20" stroke-width="2.0"/>
<line x1="925.0" y1="454.1" x2="922.0" y2="454.1" stroke="#231f20" stroke-width="2.0"/>
<line x1="572.0" y1="448.8" x2="575.0" y2="448.8" stroke="#231f20" stroke-width="2.0"/>
<line x1="925.0" y1="448.8" x2="922.0" y2="448.8" stroke="#231f20" stroke-width="2.0"/>
<text x="528.9" y="455.0" font-size="28.6">10<tspan font-size="17.2" dy="-10.3">2</tspan></text>
<text x="527.9" y="559.8" font-size="28.6">10<tspan font-size="17.2" dy="-10.3">1</tspan></text>
<text x="528.8" y="670.0" font-size="28.6">10<tspan font-size="17.2" dy="-10.3">0</tspan></text>
<text x="587.8" y="725.5" font-size="28.6">10<tspan font-size="17.2" dy="-10.3">0</tspan></text>
<text x="747.0" y="725.5" font-size="28.6">10<tspan font-size="17.2" dy="-10.3">1</tspan></text>
<text x="901.2" y="720.0" font-size="28.6">10<tspan font-size="17.2" dy="-10.3">2</tspan></text>
<text x="723.0" y="742.6" font-size="29.3">Time</text>
<text x="0.0" y="0.0" font-size="30.0" text-anchor="middle" transform="translate(517.5 573.3) rotate(-90)">EC<tspan font-size="18.5" dy="8.5">50</tspan></text>
<text x="473.2" y="428.3" font-size="47.0">A.v</text>
<line x1="586.0" y1="673.6" x2="858.9" y2="673.6" stroke="#000" stroke-width="2.2"/>
<line x1="586.0" y1="670.0" x2="586.0" y2="677.0" stroke="#000" stroke-width="1.6"/>
<line x1="858.9" y1="669.7" x2="858.9" y2="677.0" stroke="#000" stroke-width="1.6"/>
<text x="578.0" y="666.5" font-size="26.0" font-weight="bold">t1</text>
<text x="642.0" y="664.4" font-size="27.0" textLength="161" lengthAdjust="spacingAndGlyphs">Time Window</text>
<text x="839.0" y="667.5" font-size="27.0" font-weight="bold">tss</text>
<clipPath id="c6"><rect x="93.3" y="839.7" width="352.9" height="246.7"/></clipPath>
<g clip-path="url(#c6)" fill="#4dbeee" stroke="#0072bd" stroke-width="1.9"><ellipse cx="130.4" cy="952.5" rx="4.4" ry="3.5"/><ellipse cx="182.2" cy="958.2" rx="4.4" ry="3.5"/><ellipse cx="118.6" cy="995.1" rx="4.4" ry="3.5"/><ellipse cx="220.8" cy="955.0" rx="4.4" ry="3.5"/><ellipse cx="234.8" cy="957.5" rx="4.4" ry="3.5"/><ellipse cx="245.8" cy="950.0" rx="4.4" ry="3.5"/><ellipse cx="247.3" cy="943.0" rx="4.4" ry="3.5"/><ellipse cx="262.9" cy="948.5" rx="4.4" ry="3.5"/><ellipse cx="269.4" cy="946.5" rx="4.4" ry="3.5"/><ellipse cx="273.9" cy="948.5" rx="4.4" ry="3.5"/><ellipse cx="250.3" cy="961.5" rx="4.4" ry="3.5"/><ellipse cx="259.4" cy="963.0" rx="4.4" ry="3.5"/><ellipse cx="260.4" cy="967.1" rx="4.4" ry="3.5"/><ellipse cx="253.3" cy="972.6" rx="4.4" ry="3.5"/><ellipse cx="275.4" cy="967.6" rx="4.4" ry="3.5"/><ellipse cx="279.4" cy="967.6" rx="4.4" ry="3.5"/><ellipse cx="210.8" cy="964.6" rx="4.4" ry="3.5"/><ellipse cx="206.2" cy="969.6" rx="4.4" ry="3.5"/><ellipse cx="201.7" cy="974.6" rx="4.4" ry="3.5"/><ellipse cx="231.8" cy="976.1" rx="4.4" ry="3.5"/><ellipse cx="234.3" cy="984.1" rx="4.4" ry="3.5"/><ellipse cx="240.3" cy="984.1" rx="4.4" ry="3.5"/><ellipse cx="213.8" cy="985.6" rx="4.4" ry="3.5"/><ellipse cx="217.1" cy="987.6" rx="4.4" ry="3.5"/><ellipse cx="214.8" cy="995.1" rx="4.4" ry="3.5"/><ellipse cx="204.7" cy="995.6" rx="4.4" ry="3.5"/><ellipse cx="190.2" cy="998.1" rx="4.4" ry="3.5"/><ellipse cx="228.8" cy="996.1" rx="4.4" ry="3.5"/><ellipse cx="235.3" cy="993.1" rx="4.4" ry="3.5"/><ellipse cx="272.9" cy="985.1" rx="4.4" ry="3.5"/><ellipse cx="268.9" cy="990.1" rx="4.4" ry="3.5"/><ellipse cx="262.9" cy="994.6" rx="4.4" ry="3.5"/><ellipse cx="198.7" cy="1004.6" rx="4.4" ry="3.5"/><ellipse cx="209.3" cy="1004.1" rx="4.4" ry="3.5"/><ellipse cx="190.2" cy="1011.1" rx="4.4" ry="3.5"/><ellipse cx="194.2" cy="1014.2" rx="4.4" ry="3.5"/><ellipse cx="237.8" cy="1002.6" rx="4.4" ry="3.5"/><ellipse cx="233.8" cy="1006.1" rx="4.4" ry="3.5"/><ellipse cx="228.8" cy="1010.1" rx="4.4" ry="3.5"/><ellipse cx="167.2" cy="1010.6" rx="4.4" ry="3.5"/><ellipse cx="171.2" cy="1010.6" rx="4.4" ry="3.5"/><ellipse cx="210.8" cy="1015.7" rx="4.4" ry="3.5"/><ellipse cx="218.3" cy="1016.7" rx="4.4" ry="3.5"/><ellipse cx="220.3" cy="1019.2" rx="4.4" ry="3.5"/><ellipse cx="238.8" cy="1019.7" rx="4.4" ry="3.5"/><ellipse cx="203.7" cy="1022.2" rx="4.4" ry="3.5"/><ellipse cx="190.7" cy="1023.7" rx="4.4" ry="3.5"/><ellipse cx="174.2" cy="1028.2" rx="4.4" ry="3.5"/><ellipse cx="156.1" cy="1029.2" rx="4.4" ry="3.5"/><ellipse cx="213.3" cy="1027.2" rx="4.4" ry="3.5"/><ellipse cx="217.3" cy="1030.7" rx="4.4" ry="3.5"/><ellipse cx="195.2" cy="1030.2" rx="4.4" ry="3.5"/><ellipse cx="202.2" cy="1029.7" rx="4.4" ry="3.5"/><ellipse cx="228.8" cy="1032.7" rx="4.4" ry="3.5"/><ellipse cx="187.2" cy="1034.2" rx="4.4" ry="3.5"/><ellipse cx="186.7" cy="1036.7" rx="4.4" ry="3.5"/><ellipse cx="204.7" cy="1036.7" rx="4.4" ry="3.5"/><ellipse cx="202.7" cy="1041.2" rx="4.4" ry="3.5"/><ellipse cx="141.1" cy="1036.7" rx="4.4" ry="3.5"/><ellipse cx="145.6" cy="1037.7" rx="4.4" ry="3.5"/><ellipse cx="157.1" cy="1040.2" rx="4.4" ry="3.5"/><ellipse cx="164.2" cy="1039.7" rx="4.4" ry="3.5"/><ellipse cx="175.2" cy="1040.2" rx="4.4" ry="3.5"/><ellipse cx="181.2" cy="1040.2" rx="4.4" ry="3.5"/><ellipse cx="160.1" cy="1043.2" rx="4.4" ry="3.5"/><ellipse cx="163.2" cy="1045.7" rx="4.4" ry="3.5"/><ellipse cx="169.2" cy="1044.2" rx="4.4" ry="3.5"/><ellipse cx="174.7" cy="1044.2" rx="4.4" ry="3.5"/><ellipse cx="134.1" cy="1048.2" rx="4.4" ry="3.5"/><ellipse cx="150.1" cy="1049.2" rx="4.4" ry="3.5"/><ellipse cx="154.1" cy="1051.7" rx="4.4" ry="3.5"/><ellipse cx="184.2" cy="1048.2" rx="4.4" ry="3.5"/><ellipse cx="216.3" cy="1049.7" rx="4.4" ry="3.5"/><ellipse cx="112.5" cy="1056.7" rx="4.4" ry="3.5"/><ellipse cx="120.1" cy="1059.3" rx="4.4" ry="3.5"/><ellipse cx="125.1" cy="1053.2" rx="4.4" ry="3.5"/><ellipse cx="127.6" cy="1055.7" rx="4.4" ry="3.5"/><ellipse cx="130.6" cy="1062.3" rx="4.4" ry="3.5"/><ellipse cx="137.1" cy="1055.7" rx="4.4" ry="3.5"/><ellipse cx="144.1" cy="1054.2" rx="4.4" ry="3.5"/><ellipse cx="149.1" cy="1053.2" rx="4.4" ry="3.5"/><ellipse cx="158.1" cy="1053.7" rx="4.4" ry="3.5"/><ellipse cx="162.2" cy="1058.2" rx="4.4" ry="3.5"/><ellipse cx="166.2" cy="1054.7" rx="4.4" ry="3.5"/><ellipse cx="169.2" cy="1060.3" rx="4.4" ry="3.5"/><ellipse cx="178.2" cy="1054.2" rx="4.4" ry="3.5"/><ellipse cx="186.2" cy="1053.2" rx="4.4" ry="3.5"/><ellipse cx="188.2" cy="1053.7" rx="4.4" ry="3.5"/><ellipse cx="194.7" cy="1055.7" rx="4.4" ry="3.5"/><ellipse cx="205.7" cy="1053.2" rx="4.4" ry="3.5"/><ellipse cx="206.2" cy="1056.2" rx="4.4" ry="3.5"/><ellipse cx="346.0" cy="882.1" rx="4.4" ry="3.5"/><ellipse cx="353.4" cy="885.3" rx="4.4" ry="3.5"/><ellipse cx="288.5" cy="893.2" rx="4.4" ry="3.5"/><ellipse cx="290.6" cy="897.9" rx="4.4" ry="3.5"/><ellipse cx="284.3" cy="899.5" rx="4.4" ry="3.5"/><ellipse cx="338.6" cy="896.9" rx="4.4" ry="3.5"/><ellipse cx="368.1" cy="894.2" rx="4.4" ry="3.5"/><ellipse cx="305.9" cy="906.4" rx="4.4" ry="3.5"/><ellipse cx="276.9" cy="912.2" rx="4.4" ry="3.5"/><ellipse cx="279.5" cy="915.9" rx="4.4" ry="3.5"/><ellipse cx="296.4" cy="915.9" rx="4.4" ry="3.5"/><ellipse cx="349.7" cy="908.0" rx="4.4" ry="3.5"/><ellipse cx="363.4" cy="912.2" rx="4.4" ry="3.5"/><ellipse cx="359.2" cy="917.4" rx="4.4" ry="3.5"/><ellipse cx="254.7" cy="924.3" rx="4.4" ry="3.5"/><ellipse cx="254.7" cy="932.7" rx="4.4" ry="3.5"/><ellipse cx="300.6" cy="923.8" rx="4.4" ry="3.5"/><ellipse cx="310.1" cy="922.7" rx="4.4" ry="3.5"/><ellipse cx="320.7" cy="921.1" rx="4.4" ry="3.5"/><ellipse cx="335.4" cy="919.6" rx="4.4" ry="3.5"/><ellipse cx="287.4" cy="928.0" rx="4.4" ry="3.5"/><ellipse cx="284.8" cy="929.6" rx="4.4" ry="3.5"/><ellipse cx="293.2" cy="932.7" rx="4.4" ry="3.5"/><ellipse cx="296.4" cy="931.7" rx="4.4" ry="3.5"/><ellipse cx="266.4" cy="935.4" rx="4.4" ry="3.5"/><ellipse cx="275.8" cy="936.4" rx="4.4" ry="3.5"/><ellipse cx="280.6" cy="937.5" rx="4.4" ry="3.5"/><ellipse cx="324.9" cy="931.7" rx="4.4" ry="3.5"/><ellipse cx="324.4" cy="934.3" rx="4.4" ry="3.5"/><ellipse cx="318.6" cy="939.6" rx="4.4" ry="3.5"/><ellipse cx="328.6" cy="940.7" rx="4.4" ry="3.5"/><ellipse cx="354.4" cy="932.2" rx="4.4" ry="3.5"/><ellipse cx="418.2" cy="929.6" rx="4.4" ry="3.5"/><ellipse cx="251.1" cy="940.7" rx="4.4" ry="3.5"/><ellipse cx="250.0" cy="943.3" rx="4.4" ry="3.5"/><ellipse cx="285.3" cy="947.0" rx="4.4" ry="3.5"/><ellipse cx="299.1" cy="947.0" rx="4.4" ry="3.5"/><ellipse cx="291.7" cy="953.3" rx="4.4" ry="3.5"/><ellipse cx="307.5" cy="954.9" rx="4.4" ry="3.5"/><ellipse cx="327.5" cy="954.4" rx="4.4" ry="3.5"/><ellipse cx="295.9" cy="959.1" rx="4.4" ry="3.5"/><ellipse cx="284.8" cy="963.3" rx="4.4" ry="3.5"/><ellipse cx="289.0" cy="964.4" rx="4.4" ry="3.5"/><ellipse cx="299.6" cy="966.0" rx="4.4" ry="3.5"/><ellipse cx="285.3" cy="970.7" rx="4.4" ry="3.5"/><ellipse cx="287.4" cy="973.4" rx="4.4" ry="3.5"/><ellipse cx="292.7" cy="999.2" rx="4.4" ry="3.5"/><ellipse cx="114.2" cy="842.1" rx="4.4" ry="3.5"/><ellipse cx="177.2" cy="914.8" rx="4.4" ry="3.5"/><ellipse cx="243.8" cy="924.6" rx="4.4" ry="3.5"/><ellipse cx="248.1" cy="939.9" rx="4.4" ry="3.5"/><ellipse cx="263.8" cy="950.4" rx="4.4" ry="3.5"/><ellipse cx="257.1" cy="962.3" rx="4.4" ry="3.5"/></g>
<line x1="93.3" y1="1086.4" x2="446.2" y2="839.7" stroke="#e8242a" stroke-width="2.6"/>
<rect x="93.3" y="839.7" width="352.9" height="246.7" fill="none" stroke="#231f20" stroke-width="2.6"/>
<line x1="163.9" y1="1086.4" x2="163.9" y2="1081.4" stroke="#231f20" stroke-width="2.2"/>
<line x1="163.9" y1="839.7" x2="163.9" y2="844.7" stroke="#231f20" stroke-width="2.2"/>
<line x1="234.5" y1="1086.4" x2="234.5" y2="1081.4" stroke="#231f20" stroke-width="2.2"/>
<line x1="234.5" y1="839.7" x2="234.5" y2="844.7" stroke="#231f20" stroke-width="2.2"/>
<line x1="305.0" y1="1086.4" x2="305.0" y2="1081.4" stroke="#231f20" stroke-width="2.2"/>
<line x1="305.0" y1="839.7" x2="305.0" y2="844.7" stroke="#231f20" stroke-width="2.2"/>
<line x1="375.6" y1="1086.4" x2="375.6" y2="1081.4" stroke="#231f20" stroke-width="2.2"/>
<line x1="375.6" y1="839.7" x2="375.6" y2="844.7" stroke="#231f20" stroke-width="2.2"/>
<line x1="93.3" y1="1045.3" x2="98.3" y2="1045.3" stroke="#231f20" stroke-width="2.2"/>
<line x1="446.2" y1="1045.3" x2="441.2" y2="1045.3" stroke="#231f20" stroke-width="2.2"/>
<line x1="93.3" y1="1004.2" x2="98.3" y2="1004.2" stroke="#231f20" stroke-width="2.2"/>
<line x1="446.2" y1="1004.2" x2="441.2" y2="1004.2" stroke="#231f20" stroke-width="2.2"/>
<line x1="93.3" y1="963.1" x2="98.3" y2="963.1" stroke="#231f20" stroke-width="2.2"/>
<line x1="446.2" y1="963.1" x2="441.2" y2="963.1" stroke="#231f20" stroke-width="2.2"/>
<line x1="93.3" y1="921.9" x2="98.3" y2="921.9" stroke="#231f20" stroke-width="2.2"/>
<line x1="446.2" y1="921.9" x2="441.2" y2="921.9" stroke="#231f20" stroke-width="2.2"/>
<line x1="93.3" y1="880.8" x2="98.3" y2="880.8" stroke="#231f20" stroke-width="2.2"/>
<line x1="446.2" y1="880.8" x2="441.2" y2="880.8" stroke="#231f20" stroke-width="2.2"/>
<text x="39.5" y="1092.9" font-size="29.0">0.5</text>
<text x="64.0" y="1051.8" font-size="29.0">1</text>
<text x="39.5" y="1010.7" font-size="29.0">1.5</text>
<text x="64.0" y="969.6" font-size="29.0">2</text>
<text x="39.5" y="928.4" font-size="29.0">2.5</text>
<text x="63.8" y="887.3" font-size="29.0">3</text>
<text x="39.5" y="846.2" font-size="29.0">3.5</text>
<text x="87.8" y="1120.0" font-size="29.0">0</text>
<text x="157.9" y="1120.0" font-size="29.0">1</text>
<text x="228.8" y="1120.0" font-size="29.0">2</text>
<text x="299.4" y="1120.0" font-size="29.0">3</text>
<text x="370.1" y="1120.0" font-size="29.0">4</text>
<text x="440.6" y="1120.0" font-size="29.0">5</text>
<text x="204.1" y="1144.1" font-size="29.0">Maximal EC<tspan font-size="19" dy="8">50</tspan></text>
<text x="12.0" y="967.5" font-size="29.5" text-anchor="middle" transform="rotate(-90 12.0 957.0)">Time Window</text>
<rect x="101.4" y="855.5" width="97.8" height="34.1" fill="#fff" stroke="#000" stroke-width="2"/>
<text x="106.0" y="882.0" font-size="27.0"><tspan font-family='"Liberation Serif", "Times New Roman", serif' font-style="italic">ρ</tspan>=0.85</text>
<text x="16.5" y="817.1" font-size="47.0">A.vi</text>
<text x="30.0" y="36.2" font-size="47.0">A.i</text>
<text x="102.8" y="96.5" font-size="30.5" textLength="196.5" lengthAdjust="spacingAndGlyphs">x(t)=x<tspan font-size="19">max</tspan>(1-e<tspan font-size="18" dy="-10.5">-t/<tspan font-family='"Liberation Serif", "Times New Roman", serif' font-style="italic">τ</tspan></tspan><tspan dy="10.5">)</tspan></text>
<text x="351.0" y="105.0" font-size="34.0">Y</text>
<line x1="373.4" y1="93.7" x2="427.5" y2="93.7" stroke="#000" stroke-width="2.4"/>
<path d="M409.9 99.6 L428.0 93.7 L409.9 87.8" stroke="#000" stroke-width="2.40" fill="none" stroke-linecap="round" stroke-linejoin="miter"/>
<text x="395.0" y="86.0" font-size="18.0" font-family='"Liberation Serif", "Times New Roman", serif'><tspan font-style="italic">δ</tspan></text>
<text x="429.0" y="106.0" font-size="34.0">Ø</text>
<line x1="197.5" y1="120.0" x2="197.5" y2="173.0" stroke="#000" stroke-width="2.2"/>
<path d="M192.8 158.2 L197.5 174.5 L202.2 158.2" stroke="#000" stroke-width="2.20" fill="none" stroke-linecap="round" stroke-linejoin="miter"/>
<line x1="213.4" y1="121.0" x2="213.4" y2="174.7" stroke="#000" stroke-width="2.2"/>
<path d="M218.1 135.8 L213.4 119.5 L208.7 135.8" stroke="#000" stroke-width="2.20" fill="none" stroke-linecap="round" stroke-linejoin="miter"/>
<text x="180.5" y="147.0" font-size="21.0" font-family='"Liberation Serif", "Times New Roman", serif' font-style="italic">α</text>
<text x="216.5" y="145.0" font-size="21.0" font-family='"Liberation Serif", "Times New Roman", serif' font-style="italic">β</text>
<path d="M186 232 L186 177 L247 177" stroke="#000" stroke-width="5.20" fill="none" stroke-linejoin="miter"/>
<path d="M225.3 155.7 L249.5 177.2 L225.3 199.5" stroke="#000" stroke-width="5.20" fill="none" stroke-linejoin="miter"/>
<rect x="295.7" y="179.7" width="137.6" height="49.2" fill="#ababab" stroke="#000" stroke-width="5.4"/>
<line x1="180.0" y1="231.6" x2="446.0" y2="231.6" stroke="#000" stroke-width="5.4"/>
<text x="356.0" y="205.0" font-size="36.0">y</text>
<line x1="360.8" y1="121.0" x2="360.8" y2="171.0" stroke="#000" stroke-width="2.2"/>
<path d="M365.5 135.8 L360.8 119.5 L356.1 135.8" stroke="#000" stroke-width="2.20" fill="none" stroke-linecap="round" stroke-linejoin="miter"/>
<text x="366.5" y="149.0" font-size="21.0" font-family='"Liberation Serif", "Times New Roman", serif' font-style="italic">γ</text>
<line x1="209.0" y1="255.0" x2="281.5" y2="255.0" stroke="#000" stroke-width="2.2"/>
<path d="M227.0 248.5 L207.0 255.0 L227.0 261.5" stroke="#000" stroke-width="2.40" fill="none" stroke-linecap="round" stroke-linejoin="miter"/>
<text x="236.5" y="253.0" font-size="21.0" font-family='"Liberation Serif", "Times New Roman", serif' font-style="italic">ω</text>
<line x1="207.0" y1="272.0" x2="283.0" y2="272.0" stroke="#000" stroke-width="2.2"/>
<path d="M265.0 278.5 L285.0 272.0 L265.0 265.5" stroke="#000" stroke-width="2.40" fill="none" stroke-linecap="round" stroke-linejoin="miter"/>
<text x="236.5" y="290.0" font-size="20.0" font-family='"Liberation Serif", "Times New Roman", serif' font-style="italic">θ</text>
<text x="495.2" y="36.4" font-size="47.0">A.ii</text>
<text x="578.7" y="95.7" font-size="40.5" textLength="135.5" lengthAdjust="spacingAndGlyphs">x(t) + P</text>
<line x1="731.9" y1="81.5" x2="765.0" y2="81.5" stroke="#000" stroke-width="2.6"/>
<path d="M759.1 85.5 L766.0 81.5 L759.1 77.5" stroke="#000" stroke-width="2.60" fill="none" stroke-linecap="round" stroke-linejoin="miter"/>
<line x1="732.9" y1="90.6" x2="766.0" y2="90.6" stroke="#000" stroke-width="2.6"/>
<path d="M738.8 86.6 L731.9 90.6 L738.8 94.6" stroke="#000" stroke-width="2.60" fill="none" stroke-linecap="round" stroke-linejoin="miter"/>
<text x="749.5" y="75.0" font-size="20.0" text-anchor="middle" font-family='"Liberation Serif", "Times New Roman", serif' font-style="italic">α</text>
<text x="748.0" y="111.0" font-size="20.0" text-anchor="middle" font-family='"Liberation Serif", "Times New Roman", serif' font-style="italic">β</text>
<text x="789.0" y="95.7" font-size="40.5">P</text>
<text x="816.0" y="109.4" font-size="21.0">b</text>
<text x="686.5" y="172.7" font-size="40.5">P</text>
<text x="714.5" y="187.0" font-size="21.0">b</text>
<line x1="729.0" y1="152.7" x2="762.5" y2="152.7" stroke="#000" stroke-width="2.6"/>
<path d="M756.6 156.7 L763.5 152.7 L756.6 148.7" stroke="#000" stroke-width="2.60" fill="none" stroke-linecap="round" stroke-linejoin="miter"/>
<line x1="730.0" y1="162.0" x2="763.5" y2="162.0" stroke="#000" stroke-width="2.6"/>
<path d="M735.9 158.0 L729.0 162.0 L735.9 166.0" stroke="#000" stroke-width="2.60" fill="none" stroke-linecap="round" stroke-linejoin="miter"/>
<text x="747.5" y="146.0" font-size="20.0" text-anchor="middle" font-family='"Liberation Serif", "Times New Roman", serif' font-style="italic">θ</text>
<text x="747.5" y="180.0" font-size="20.0" text-anchor="middle" font-family='"Liberation Serif", "Times New Roman", serif' font-style="italic">ω</text>
<text x="780.0" y="172.7" font-size="40.5">P</text>
<text x="807.0" y="160.0" font-size="20.0">*</text>
<text x="686.5" y="240.0" font-size="40.5">P</text>
<text x="713.5" y="227.0" font-size="20.0">*</text>
<line x1="729.4" y1="226.0" x2="762.0" y2="226.0" stroke="#000" stroke-width="2.6"/>
<path d="M756.1 230.0 L763.0 226.0 L756.1 222.0" stroke="#000" stroke-width="2.60" fill="none" stroke-linecap="round" stroke-linejoin="miter"/>
<text x="746.5" y="222.0" font-size="20.0" text-anchor="middle" font-family='"Liberation Serif", "Times New Roman", serif' font-style="italic">γ</text>
<text x="780.0" y="240.0" font-size="40.5">P</text>
<text x="807.0" y="227.0" font-size="20.0">*</text>
<text x="816.0" y="240.0" font-size="40.5">+Y</text>
<text x="684.0" y="293.7" font-size="40.5">Y</text>
<line x1="727.6" y1="279.7" x2="760.0" y2="279.7" stroke="#000" stroke-width="2.6"/>
<path d="M754.1 283.7 L761.0 279.7 L754.1 275.7" stroke="#000" stroke-width="2.60" fill="none" stroke-linecap="round" stroke-linejoin="miter"/>
<text x="746.0" y="272.0" font-size="20.0" text-anchor="middle" font-family='"Liberation Serif", "Times New Roman", serif' font-style="italic">δ</text>
<text x="776.5" y="293.7" font-size="40.5">Ø</text>
</svg></div></body></html>
